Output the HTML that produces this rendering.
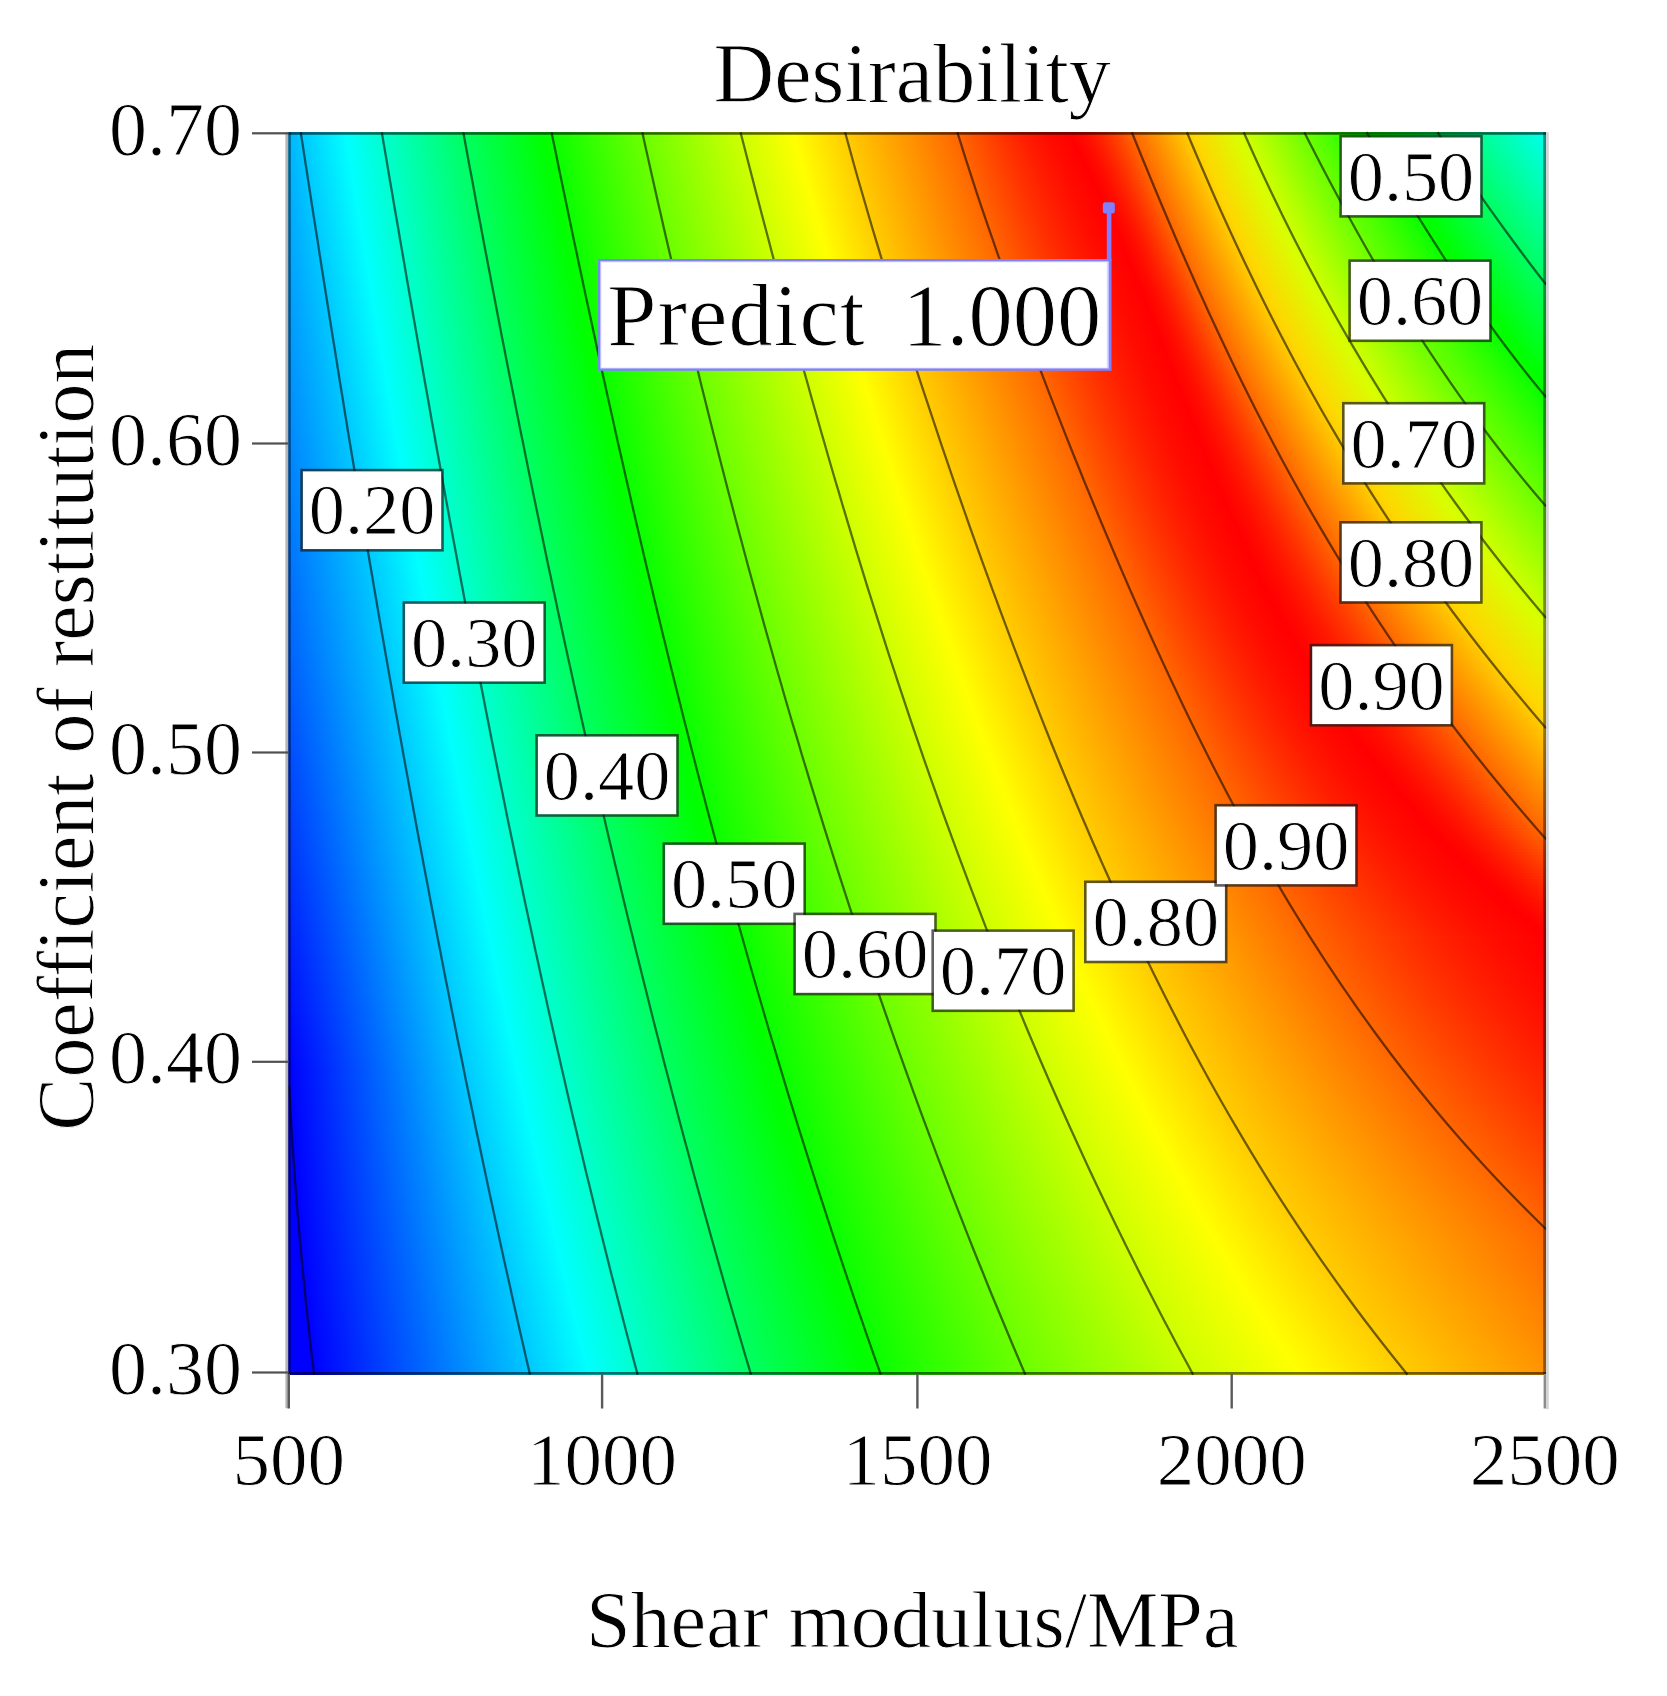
<!DOCTYPE html>
<html><head><meta charset="utf-8"><title>Desirability</title>
<style>
html,body{margin:0;padding:0;background:#fff}
body{width:1667px;height:1696px;position:relative;overflow:hidden;font-family:"Liberation Serif",serif}
#f{position:absolute;left:288px;top:132px;width:1258px;height:1243px;overflow:hidden}
#f i{display:block;height:3px;width:100%}
svg{position:absolute;left:0;top:0;filter:blur(.55px)}
text{font-family:"Liberation Serif",serif;fill:#000;stroke:#fff;stroke-width:.9px}
.cl{font-size:72.3px;text-anchor:middle}
.yt{font-size:76px;text-anchor:end}
.xt{font-size:75px;text-anchor:middle}
</style></head><body>
<div id="f">
<i style="background:linear-gradient(90deg,#00b4ff 0.3px,#00c8ff 12.9px,#0ff 57.5px,#00ffce 94px,#00ff62 175.5px,#0f0 255px,#0aff00 263.8px,#6cff00 354.6px,#ceff00 452.8px,#ff0 505.1px,#fc0 557.4px,#f60 669.7px,#ff4b00 692.2px,#ff3200 714.6px,#ff1c00 737px,#ff0b00 759.4px,#f00 781.9px,#ff0b00 794.4px,#ff1c00 806.9px,#ff3200 819.3px,#ff4b00 831.8px,#f60 844.3px,#fc0 899.5px,#ffd600 905.1px,#d8ff00 950.6px,#ceff00 956.3px,#6cff00 1016.9px,#0aff00 1079.3px,#0f0 1086.4px,#00ff62 1150.3px,#0fe 1258px)"></i>
<i style="background:linear-gradient(90deg,#00b3ff 0.3px,#00c8ff 13.4px,#0ff 58px,#00ffce 94.5px,#00ff62 176.1px,#0f0 255.6px,#0aff00 264.4px,#6cff00 355.2px,#ceff00 453.6px,#ff0 505.9px,#fc0 558.2px,#f60 670.7px,#ff4b00 693.2px,#ff3200 715.8px,#ff1c00 738.3px,#ff0b00 760.9px,#f00 783.4px,#ff0b00 795.9px,#ff1c00 808.3px,#ff3200 820.7px,#ff4b00 833.1px,#f60 845.6px,#fc0 900.7px,#ffd600 906.4px,#d8ff00 951.9px,#ceff00 957.6px,#6cff00 1018.5px,#0aff00 1081.1px,#0f0 1088.2px,#00ff62 1152.3px,#00ffeb 1258px)"></i>
<i style="background:linear-gradient(90deg,#00b3ff 0.3px,#00c8ff 13.9px,#0ff 58.5px,#00ffce 95px,#00ff62 176.6px,#0f0 256.2px,#0aff00 265px,#6cff00 355.9px,#ceff00 454.4px,#ff0 506.7px,#fc0 559.1px,#f60 671.6px,#ff4b00 694.3px,#ff3200 717px,#ff1c00 739.6px,#ff0b00 762.3px,#f00 785px,#ff0b00 797.4px,#ff1c00 809.7px,#ff3200 822.1px,#ff4b00 834.4px,#f60 846.8px,#fc0 902px,#ffd600 907.7px,#d8ff00 953.2px,#ceff00 958.9px,#6cff00 1020px,#0aff00 1082.9px,#0f0 1090.1px,#00ff62 1154.2px,#00ffe9 1258px)"></i>
<i style="background:linear-gradient(90deg,#00b3ff 0.3px,#00c8ff 14.3px,#0ff 59px,#00ffce 95.5px,#00ff62 177.2px,#0f0 256.8px,#0aff00 265.6px,#6cff00 356.6px,#ceff00 455.2px,#ff0 507.5px,#fc0 559.9px,#f60 672.5px,#ff4b00 695.3px,#ff3200 718.1px,#ff1c00 741px,#ff0b00 763.8px,#f00 786.6px,#ff0b00 798.9px,#ff1c00 811.1px,#ff3200 823.4px,#ff4b00 835.7px,#f60 848px,#fc0 903.2px,#ffd600 908.9px,#d8ff00 954.6px,#ceff00 960.3px,#6cff00 1021.5px,#0aff00 1084.8px,#0f0 1091.9px,#00ff62 1156.2px,#00ffe6 1258px)"></i>
<i style="background:linear-gradient(90deg,#00b2ff 0.3px,#00c8ff 14.8px,#0ff 59.5px,#00ffce 96px,#00ff62 177.7px,#0f0 257.4px,#0aff00 266.3px,#6cff00 357.2px,#ceff00 455.9px,#ff0 508.3px,#fc0 560.7px,#f60 673.5px,#ff4b00 696.4px,#ff3200 719.3px,#ff1c00 742.3px,#ff0b00 765.2px,#f00 788.1px,#ff0b00 800.3px,#ff1c00 812.5px,#ff3200 824.8px,#ff4b00 837px,#f60 849.2px,#fc0 904.5px,#ffd600 910.2px,#d8ff00 955.9px,#ceff00 961.6px,#6cff00 1023.1px,#0aff00 1086.6px,#0f0 1093.7px,#00ff62 1158.2px,#00ffe3 1258px)"></i>
<i style="background:linear-gradient(90deg,#00b2ff 0.3px,#00c8ff 15.2px,#0ff 60px,#00ffce 96.5px,#00ff62 178.3px,#0f0 258px,#0aff00 266.9px,#6cff00 357.9px,#ceff00 456.7px,#ff0 509.1px,#fc0 561.5px,#f60 674.4px,#ff4b00 697.5px,#ff3200 720.5px,#ff1c00 743.6px,#ff0b00 766.6px,#f00 789.7px,#ff0b00 801.8px,#ff1c00 814px,#ff3200 826.1px,#ff4b00 838.3px,#f60 850.4px,#fc0 905.8px,#ffd600 911.5px,#d8ff00 957.3px,#ceff00 963px,#6cff00 1024.6px,#0aff00 1088.4px,#0f0 1095.6px,#00ff62 1160.2px,#00ffe0 1258px)"></i>
<i style="background:linear-gradient(90deg,#00b1ff 0.3px,#00c8ff 15.7px,#0ff 60.4px,#00ffce 97.1px,#00ff62 178.8px,#0f0 258.6px,#0aff00 267.5px,#6cff00 358.6px,#ceff00 457.5px,#ff0 509.9px,#fc0 562.4px,#f60 675.3px,#ff4b00 698.5px,#ff3200 721.7px,#ff1c00 744.9px,#ff0b00 768px,#f00 791.2px,#ff0b00 803.3px,#ff1c00 815.4px,#ff3200 827.5px,#ff4b00 839.5px,#f60 851.6px,#fc0 907px,#ffd600 912.8px,#d8ff00 958.6px,#ceff00 964.4px,#6cff00 1026.2px,#0aff00 1090.2px,#0f0 1097.4px,#00ff62 1162.2px,#0fd 1258px)"></i>
<i style="background:linear-gradient(90deg,#00b1ff 0.3px,#00c8ff 16.2px,#0ff 60.9px,#00ffce 97.6px,#00ff62 179.4px,#0f0 259.2px,#0aff00 268.1px,#6cff00 359.2px,#ceff00 458.3px,#ff0 510.7px,#fc0 563.2px,#f60 676.3px,#ff4b00 699.6px,#ff3200 722.9px,#ff1c00 746.1px,#ff0b00 769.4px,#f00 792.7px,#ff0b00 804.7px,#ff1c00 816.8px,#ff3200 828.8px,#ff4b00 840.8px,#f60 852.9px,#fc0 908.3px,#ffd600 914px,#d8ff00 960px,#ceff00 965.7px,#6cff00 1027.7px,#0aff00 1092.1px,#0f0 1099.3px,#00ff62 1164.2px,#00ffdb 1258px)"></i>
<i style="background:linear-gradient(90deg,#00b0ff 0.3px,#00c8ff 16.6px,#0ff 61.4px,#00ffce 98.1px,#00ff62 180px,#0f0 259.8px,#0aff00 268.7px,#6cff00 359.9px,#ceff00 459px,#ff0 511.5px,#fc0 564px,#f60 677.3px,#ff4b00 700.6px,#ff3200 724px,#ff1c00 747.4px,#ff0b00 770.8px,#f00 794.2px,#ff0b00 806.2px,#ff1c00 818.2px,#ff3200 830.1px,#ff4b00 842.1px,#f60 854.1px,#fc0 909.6px,#ffd600 915.3px,#d8ff00 961.3px,#ceff00 967.1px,#6cff00 1029.3px,#0aff00 1093.9px,#0f0 1101.1px,#00ff62 1166.2px,#00ffd8 1258px)"></i>
<i style="background:linear-gradient(90deg,#00b0ff 0.3px,#00c8ff 17.1px,#0ff 61.9px,#00ffce 98.6px,#00ff62 180.5px,#0f0 260.5px,#0aff00 269.3px,#6cff00 360.6px,#ceff00 459.8px,#ff0 512.3px,#fc0 564.9px,#f60 678.2px,#ff4b00 701.7px,#ff3200 725.2px,#ff1c00 748.7px,#ff0b00 772.2px,#f00 795.7px,#ff0b00 807.6px,#ff1c00 819.5px,#ff3200 831.5px,#ff4b00 843.4px,#f60 855.3px,#fc0 910.9px,#ffd600 916.6px,#d8ff00 962.7px,#ceff00 968.5px,#6cff00 1030.8px,#0aff00 1095.7px,#0f0 1103px,#00ff62 1168.2px,#00ffd5 1258px)"></i>
<i style="background:linear-gradient(90deg,#00b0ff 0.3px,#00c8ff 17.5px,#0ff 62.4px,#00ffce 99.1px,#00ff62 181.1px,#0f0 261.1px,#0aff00 270px,#6cff00 361.2px,#ceff00 460.6px,#ff0 513.2px,#fc0 565.7px,#f60 679.2px,#ff4b00 702.8px,#ff3200 726.4px,#ff1c00 750px,#ff0b00 773.6px,#f00 797.2px,#ff0b00 809.1px,#ff1c00 820.9px,#ff3200 832.8px,#ff4b00 844.7px,#f60 856.5px,#fc0 912.1px,#ffd600 917.9px,#d8ff00 964.1px,#ceff00 969.8px,#6cff00 1032.4px,#0aff00 1097.5px,#0f0 1104.8px,#00ff62 1170.2px,#00ffd2 1258px)"></i>
<i style="background:linear-gradient(90deg,#00afff 0.3px,#00c8ff 18px,#0ff 62.9px,#00ffce 99.6px,#00ff62 181.6px,#0f0 261.7px,#0aff00 270.6px,#6cff00 361.9px,#ceff00 461.4px,#ff0 514px,#fc0 566.6px,#f60 680.1px,#ff4b00 703.8px,#ff3200 727.6px,#ff1c00 751.3px,#ff0b00 775px,#f00 798.7px,#ff0b00 810.5px,#ff1c00 822.3px,#ff3200 834.1px,#ff4b00 845.9px,#f60 857.8px,#fc0 913.4px,#ffd600 919.2px,#d8ff00 965.4px,#ceff00 971.2px,#6cff00 1033.9px,#0aff00 1099.4px,#0f0 1106.6px,#00ff62 1172.3px,#00ffd0 1258px)"></i>
<i style="background:linear-gradient(90deg,#00afff 0.3px,#00c8ff 18.5px,#0ff 63.4px,#00ffce 100.1px,#00ff62 182.2px,#0f0 262.3px,#0aff00 271.2px,#6cff00 362.6px,#ceff00 462.1px,#ff0 514.8px,#fc0 567.4px,#f60 681.1px,#ff4b00 704.9px,#ff3200 728.7px,#ff1c00 752.5px,#ff0b00 776.3px,#f00 800.1px,#ff0b00 811.9px,#ff1c00 823.7px,#ff3200 835.5px,#ff4b00 847.2px,#f60 859px,#fc0 914.7px,#ffd600 920.5px,#d8ff00 966.8px,#ceff00 972.6px,#6cff00 1035.5px,#0aff00 1101.2px,#0f0 1108.5px,#00ff62 1174.3px,#00ffcd 1258px)"></i>
<i style="background:linear-gradient(90deg,#00aeff 0.3px,#00c8ff 18.9px,#0ff 63.9px,#00ffce 100.6px,#00ff62 182.7px,#0f0 262.9px,#0aff00 271.8px,#6cff00 363.3px,#ceff00 462.9px,#ff0 515.6px,#fc0 568.3px,#f60 682.1px,#ff4b00 706px,#ff3200 729.9px,#ff1c00 753.8px,#ff0b00 777.7px,#f00 801.6px,#ff0b00 813.3px,#ff1c00 825.1px,#ff3200 836.8px,#ff4b00 848.5px,#f60 860.2px,#fc0 916px,#ffd600 921.8px,#d8ff00 968.2px,#ceff00 974px,#6cff00 1037.1px,#0aff00 1103px,#0f0 1110.3px,#00ff62 1176.3px,#00ffca 1258px)"></i>
<i style="background:linear-gradient(90deg,#00aeff 0.3px,#00c8ff 19.4px,#0ff 64.4px,#00ffce 101.1px,#00ff62 183.3px,#0f0 263.5px,#0aff00 272.4px,#6cff00 363.9px,#ceff00 463.7px,#ff0 516.4px,#fc0 569.1px,#f60 683.1px,#ff4b00 707.1px,#ff3200 731.1px,#ff1c00 755.1px,#ff0b00 779.1px,#f00 803.1px,#ff0b00 814.7px,#ff1c00 826.4px,#ff3200 838.1px,#ff4b00 849.8px,#f60 861.5px,#fc0 917.3px,#ffd600 923.1px,#d8ff00 969.6px,#ceff00 975.4px,#6cff00 1038.7px,#0aff00 1104.8px,#0f0 1112.2px,#00ff62 1178.4px,#00ffc7 1258px)"></i>
<i style="background:linear-gradient(90deg,#00adff 0.3px,#00c8ff 19.9px,#0ff 64.8px,#00ffce 101.6px,#00ff62 183.8px,#0f0 264.1px,#0aff00 273.1px,#6cff00 364.6px,#ceff00 464.5px,#ff0 517.2px,#fc0 570px,#f60 684px,#ff4b00 708.1px,#ff3200 732.2px,#ff1c00 756.3px,#ff0b00 780.4px,#f00 804.5px,#ff0b00 816.1px,#ff1c00 827.8px,#ff3200 839.4px,#ff4b00 851.1px,#f60 862.7px,#fc0 918.6px,#ffd600 924.4px,#d8ff00 971px,#ceff00 976.8px,#6cff00 1040.2px,#0aff00 1106.7px,#0f0 1114px,#00ff62 1180.5px,#00ffc4 1258px)"></i>
<i style="background:linear-gradient(90deg,#00adff 0.3px,#00c8ff 20.3px,#0ff 65.3px,#00ffce 102.2px,#00ff62 184.4px,#0f0 264.8px,#0aff00 273.7px,#6cff00 365.3px,#ceff00 465.3px,#ff0 518px,#fc0 570.8px,#f60 685px,#ff4b00 709.2px,#ff3200 733.4px,#ff1c00 757.6px,#ff0b00 781.7px,#f00 805.9px,#ff0b00 817.5px,#ff1c00 829.1px,#ff3200 840.7px,#ff4b00 852.3px,#f60 863.9px,#fc0 919.9px,#ffd600 925.8px,#d8ff00 972.4px,#ceff00 978.2px,#6cff00 1041.8px,#0aff00 1108.5px,#0f0 1115.9px,#00ff62 1182.5px,#00ffc2 1258px)"></i>
<i style="background:linear-gradient(90deg,#00acff 0.3px,#00c8ff 20.8px,#0ff 65.8px,#00ffce 102.7px,#00ff62 185px,#0f0 265.4px,#0aff00 274.3px,#6cff00 366px,#ceff00 466px,#ff0 518.9px,#fc0 571.7px,#f60 686px,#ff4b00 710.3px,#ff3200 734.5px,#ff1c00 758.8px,#ff0b00 783.1px,#f00 807.4px,#ff0b00 818.9px,#ff1c00 830.5px,#ff3200 842.1px,#ff4b00 853.6px,#f60 865.2px,#fc0 921.2px,#ffd600 927.1px,#d8ff00 973.8px,#ceff00 979.6px,#6cff00 1043.4px,#0aff00 1110.3px,#0f0 1117.8px,#00ff62 1184.6px,#00ffbf 1258px)"></i>
<i style="background:linear-gradient(90deg,#00acff 0.3px,#00c8ff 21.3px,#0ff 66.3px,#00ffce 103.2px,#00ff62 185.5px,#0f0 266px,#0aff00 274.9px,#6cff00 366.7px,#ceff00 466.8px,#ff0 519.7px,#fc0 572.5px,#f60 687px,#ff4b00 711.3px,#ff3200 735.7px,#ff1c00 760.1px,#ff0b00 784.4px,#f00 808.8px,#ff0b00 820.3px,#ff1c00 831.8px,#ff3200 843.4px,#ff4b00 854.9px,#f60 866.4px,#fc0 922.6px,#ffd600 928.4px,#d8ff00 975.2px,#ceff00 981.1px,#6cff00 1045px,#0aff00 1112.2px,#0f0 1119.6px,#00ff62 1186.7px,#00ffbc 1258px)"></i>
<i style="background:linear-gradient(90deg,#00acff 0.3px,#00c8ff 21.7px,#0ff 66.8px,#00ffce 103.7px,#00ff62 186.1px,#0f0 266.6px,#0aff00 275.6px,#6cff00 367.3px,#ceff00 467.6px,#ff0 520.5px,#fc0 573.4px,#f60 688px,#ff4b00 712.4px,#ff3200 736.9px,#ff1c00 761.3px,#ff0b00 785.7px,#f00 810.2px,#ff0b00 821.7px,#ff1c00 833.2px,#ff3200 844.7px,#ff4b00 856.2px,#f60 867.7px,#fc0 923.9px,#ffd600 929.7px,#d8ff00 976.6px,#ceff00 982.5px,#6cff00 1046.6px,#0aff00 1114px,#0f0 1121.5px,#00ff62 1188.8px,#00ffb9 1258px)"></i>
<i style="background:linear-gradient(90deg,#00abff 0.3px,#00c8ff 22.2px,#0ff 67.3px,#00ffce 104.2px,#00ff62 186.6px,#0f0 267.2px,#0aff00 276.2px,#6cff00 368px,#ceff00 468.4px,#ff0 521.3px,#fc0 574.3px,#f60 689px,#ff4b00 713.5px,#ff3200 738px,#ff1c00 762.5px,#ff0b00 787.1px,#f00 811.6px,#ff0b00 823px,#ff1c00 834.5px,#ff3200 846px,#ff4b00 857.5px,#f60 868.9px,#fc0 925.2px,#ffd600 931.1px,#d8ff00 978px,#ceff00 983.9px,#6cff00 1048.2px,#0aff00 1115.8px,#0f0 1123.3px,#00ff62 1190.9px,#00ffb6 1258px)"></i>
<i style="background:linear-gradient(90deg,#00abff 0.3px,#00c8ff 22.7px,#0ff 67.8px,#00ffce 104.7px,#00ff62 187.2px,#0f0 267.8px,#0aff00 276.8px,#6cff00 368.7px,#ceff00 469.2px,#ff0 522.2px,#fc0 575.1px,#f60 690px,#ff4b00 714.6px,#ff3200 739.2px,#ff1c00 763.8px,#ff0b00 788.4px,#f00 813px,#ff0b00 824.4px,#ff1c00 835.9px,#ff3200 847.3px,#ff4b00 858.7px,#f60 870.2px,#fc0 926.5px,#ffd600 932.4px,#d8ff00 979.5px,#ceff00 985.4px,#6cff00 1049.8px,#0aff00 1117.7px,#0f0 1125.2px,#00ff62 1193px,#00ffb4 1258px)"></i>
<i style="background:linear-gradient(90deg,#0af 0.3px,#00c8ff 23.1px,#0ff 68.3px,#00ffce 105.2px,#00ff62 187.8px,#0f0 268.5px,#0aff00 277.4px,#6cff00 369.4px,#ceff00 470px,#ff0 523px,#fc0 576px,#f60 691px,#ff4b00 715.6px,#ff3200 740.3px,#ff1c00 765px,#ff0b00 789.7px,#f00 814.3px,#ff0b00 825.8px,#ff1c00 837.2px,#ff3200 848.6px,#ff4b00 860px,#f60 871.4px,#fc0 927.9px,#ffd600 933.7px,#d8ff00 980.9px,#ceff00 986.8px,#6cff00 1051.4px,#0aff00 1119.5px,#0f0 1127.1px,#00ff62 1195.1px,#00ffb1 1258px)"></i>
<i style="background:linear-gradient(90deg,#0af 0.3px,#00c8ff 23.6px,#0ff 68.8px,#00ffce 105.7px,#00ff62 188.3px,#0f0 269.1px,#0aff00 278px,#6cff00 370.1px,#ceff00 470.7px,#ff0 523.8px,#fc0 576.9px,#f60 692px,#ff4b00 716.7px,#ff3200 741.5px,#ff1c00 766.2px,#ff0b00 791px,#f00 815.7px,#ff0b00 827.1px,#ff1c00 838.5px,#ff3200 849.9px,#ff4b00 861.3px,#f60 872.7px,#fc0 929.2px,#ffd600 935.1px,#d8ff00 982.3px,#ceff00 988.2px,#6cff00 1053px,#0aff00 1121.4px,#0f0 1128.9px,#00ff62 1197.2px,#00ffae 1258px)"></i>
<i style="background:linear-gradient(90deg,#00a9ff 0.3px,#00c8ff 24.1px,#0ff 69.3px,#00ffce 106.3px,#00ff62 188.9px,#0f0 269.7px,#0aff00 278.7px,#6cff00 370.7px,#ceff00 471.5px,#ff0 524.6px,#fc0 577.7px,#f60 693px,#ff4b00 717.8px,#ff3200 742.6px,#ff1c00 767.4px,#ff0b00 792.3px,#f00 817.1px,#ff0b00 828.5px,#ff1c00 839.8px,#ff3200 851.2px,#ff4b00 862.6px,#f60 874px,#fc0 930.5px,#ffd600 936.4px,#d8ff00 983.8px,#ceff00 989.7px,#6cff00 1054.7px,#0aff00 1123.2px,#0f0 1130.8px,#00ff62 1199.3px,#00ffab 1258px)"></i>
<i style="background:linear-gradient(90deg,#00a9ff 0.3px,#00c8ff 24.5px,#0ff 69.8px,#00ffce 106.8px,#00ff62 189.4px,#0f0 270.3px,#0aff00 279.3px,#6cff00 371.4px,#ceff00 472.3px,#ff0 525.5px,#fc0 578.6px,#f60 694px,#ff4b00 718.9px,#ff3200 743.8px,#ff1c00 768.7px,#ff0b00 793.6px,#f00 818.4px,#ff0b00 829.8px,#ff1c00 841.2px,#ff3200 852.5px,#ff4b00 863.9px,#f60 875.2px,#fc0 931.9px,#ffd600 937.8px,#d8ff00 985.2px,#ceff00 991.2px,#6cff00 1056.3px,#0aff00 1125.1px,#0f0 1132.7px,#00ff62 1201.5px,#00ffa8 1258px)"></i>
<i style="background:linear-gradient(90deg,#00a8ff 0.3px,#00c8ff 25px,#0ff 70.3px,#00ffce 107.3px,#00ff62 190px,#0f0 270.9px,#0aff00 279.9px,#6cff00 372.1px,#ceff00 473.1px,#ff0 526.3px,#fc0 579.5px,#f60 695px,#ff4b00 720px,#ff3200 744.9px,#ff1c00 769.9px,#ff0b00 794.8px,#f00 819.8px,#ff0b00 831.1px,#ff1c00 842.5px,#ff3200 853.8px,#ff4b00 865.1px,#f60 876.5px,#fc0 933.2px,#ffd600 939.2px,#d8ff00 986.7px,#ceff00 992.6px,#6cff00 1057.9px,#0aff00 1126.9px,#0f0 1134.6px,#00ff62 1203.6px,#00ffa6 1258px)"></i>
<i style="background:linear-gradient(90deg,#00a8ff 0.3px,#00c8ff 25.5px,#0ff 70.7px,#00ffce 107.8px,#00ff62 190.6px,#0f0 271.6px,#0aff00 280.6px,#6cff00 372.8px,#ceff00 473.9px,#ff0 527.1px,#fc0 580.4px,#f60 696px,#ff4b00 721.1px,#ff3200 746.1px,#ff1c00 771.1px,#ff0b00 796.1px,#f00 821.1px,#ff0b00 832.5px,#ff1c00 843.8px,#ff3200 855.1px,#ff4b00 866.4px,#f60 877.7px,#fc0 934.6px,#ffd600 940.5px,#d8ff00 988.1px,#ceff00 994.1px,#6cff00 1059.6px,#0aff00 1128.8px,#0f0 1136.5px,#00ff62 1205.8px,#00ffa3 1258px)"></i>
<i style="background:linear-gradient(90deg,#00a8ff 0.3px,#00c8ff 25.9px,#0ff 71.2px,#00ffce 108.3px,#00ff62 191.1px,#0f0 272.2px,#0aff00 281.2px,#6cff00 373.5px,#ceff00 474.7px,#ff0 528px,#fc0 581.3px,#f60 697px,#ff4b00 722.1px,#ff3200 747.2px,#ff1c00 772.3px,#ff0b00 797.4px,#f00 822.5px,#ff0b00 833.8px,#ff1c00 845.1px,#ff3200 856.4px,#ff4b00 867.7px,#f60 879px,#fc0 935.9px,#ffd600 941.9px,#d8ff00 989.6px,#ceff00 995.6px,#6cff00 1061.2px,#0aff00 1130.6px,#0f0 1138.4px,#00ff62 1207.9px,#00ffa0 1258px)"></i>
<i style="background:linear-gradient(90deg,#00a7ff 0.3px,#00c8ff 26.4px,#0ff 71.7px,#00ffce 108.8px,#00ff62 191.7px,#0f0 272.8px,#0aff00 281.8px,#6cff00 374.2px,#ceff00 475.5px,#ff0 528.8px,#fc0 582.1px,#f60 698.1px,#ff4b00 723.2px,#ff3200 748.4px,#ff1c00 773.5px,#ff0b00 798.7px,#f00 823.8px,#ff0b00 835.1px,#ff1c00 846.4px,#ff3200 857.7px,#ff4b00 869px,#f60 880.3px,#fc0 937.3px,#ffd600 943.3px,#d8ff00 991.1px,#ceff00 997.1px,#6cff00 1062.8px,#0aff00 1132.5px,#0f0 1140.3px,#00ff62 1210.1px,#00ff9d 1258px)"></i>
<i style="background:linear-gradient(90deg,#00a7ff 0.3px,#00c8ff 26.9px,#0ff 72.2px,#00ffce 109.3px,#00ff62 192.3px,#0f0 273.4px,#0aff00 282.4px,#6cff00 374.9px,#ceff00 476.3px,#ff0 529.6px,#fc0 583px,#f60 699.1px,#ff4b00 724.3px,#ff3200 749.5px,#ff1c00 774.7px,#ff0b00 799.9px,#f00 825.1px,#ff0b00 836.4px,#ff1c00 847.7px,#ff3200 859px,#ff4b00 870.3px,#f60 881.6px,#fc0 938.6px,#ffd600 944.6px,#d8ff00 992.6px,#ceff00 998.5px,#6cff00 1064.5px,#0aff00 1134.4px,#0f0 1142.2px,#00ff62 1212.3px,#00ff9a 1258px)"></i>
<i style="background:linear-gradient(90deg,#00a6ff 0.3px,#00c8ff 27.3px,#0ff 72.7px,#00ffce 109.9px,#00ff62 192.8px,#0f0 274px,#0aff00 283.1px,#6cff00 375.5px,#ceff00 477px,#ff0 530.5px,#fc0 583.9px,#f60 700.1px,#ff4b00 725.4px,#ff3200 750.7px,#ff1c00 775.9px,#ff0b00 801.2px,#f00 826.4px,#ff0b00 837.7px,#ff1c00 849px,#ff3200 860.3px,#ff4b00 871.6px,#f60 882.8px,#fc0 940px,#ffd600 946px,#d8ff00 994px,#ceff00 1000px,#6cff00 1066.2px,#0aff00 1136.3px,#0f0 1144.1px,#00ff62 1214.4px,#00ff98 1258px)"></i>
<i style="background:linear-gradient(90deg,#00a6ff 0.3px,#00c8ff 27.8px,#0ff 73.2px,#00ffce 110.4px,#00ff62 193.4px,#0f0 274.7px,#0aff00 283.7px,#6cff00 376.2px,#ceff00 477.8px,#ff0 531.3px,#fc0 584.8px,#f60 701.2px,#ff4b00 726.5px,#ff3200 751.8px,#ff1c00 777.1px,#ff0b00 802.4px,#f00 827.8px,#ff0b00 839px,#ff1c00 850.3px,#ff3200 861.6px,#ff4b00 872.9px,#f60 884.1px,#fc0 941.4px,#ffd600 947.4px,#d8ff00 995.5px,#ceff00 1001.5px,#6cff00 1067.8px,#0aff00 1138.1px,#0f0 1146px,#00ff62 1216.6px,#00ff95 1258px)"></i>
<i style="background:linear-gradient(90deg,#00a5ff 0.3px,#00c8ff 28.3px,#0ff 73.7px,#00ffce 110.9px,#00ff62 194px,#0f0 275.3px,#0aff00 284.3px,#6cff00 376.9px,#ceff00 478.6px,#ff0 532.2px,#fc0 585.7px,#f60 702.2px,#ff4b00 727.6px,#ff3200 752.9px,#ff1c00 778.3px,#ff0b00 803.7px,#f00 829.1px,#ff0b00 840.3px,#ff1c00 851.6px,#ff3200 862.9px,#ff4b00 874.1px,#f60 885.4px,#fc0 942.8px,#ffd600 948.8px,#d8ff00 997px,#ceff00 1003px,#6cff00 1069.5px,#0aff00 1140px,#0f0 1147.9px,#00ff62 1218.8px,#00ff92 1258px)"></i>
<i style="background:linear-gradient(90deg,#00a5ff 0.3px,#00c8ff 28.7px,#0ff 74.2px,#00ffce 111.4px,#00ff62 194.5px,#0f0 275.9px,#0aff00 285px,#6cff00 377.6px,#ceff00 479.4px,#ff0 533px,#fc0 586.6px,#f60 703.2px,#ff4b00 728.7px,#ff3200 754.1px,#ff1c00 779.5px,#ff0b00 804.9px,#f00 830.4px,#ff0b00 841.6px,#ff1c00 852.9px,#ff3200 864.2px,#ff4b00 875.4px,#f60 886.7px,#fc0 944.2px,#ffd600 950.2px,#d8ff00 998.5px,#ceff00 1004.6px,#6cff00 1071.2px,#0aff00 1141.9px,#0f0 1149.8px,#00ff62 1221px,#00ff8f 1258px)"></i>
<i style="background:linear-gradient(90deg,#00a5ff 0.3px,#00c8ff 29.2px,#0ff 74.7px,#00ffce 111.9px,#00ff62 195.1px,#0f0 276.5px,#0aff00 285.6px,#6cff00 378.3px,#ceff00 480.2px,#ff0 533.8px,#fc0 587.5px,#f60 704.3px,#ff4b00 729.7px,#ff3200 755.2px,#ff1c00 780.7px,#ff0b00 806.2px,#f00 831.6px,#ff0b00 842.9px,#ff1c00 854.2px,#ff3200 865.5px,#ff4b00 876.7px,#f60 888px,#fc0 945.5px,#ffd600 951.6px,#d8ff00 1000px,#ceff00 1006.1px,#6cff00 1072.9px,#0aff00 1143.8px,#0f0 1151.8px,#00ff62 1223.2px,#00ff8c 1258px)"></i>
<i style="background:linear-gradient(90deg,#00a4ff 0.3px,#00c8ff 29.7px,#0ff 75.2px,#00ffce 112.4px,#00ff62 195.7px,#0f0 277.2px,#0aff00 286.2px,#6cff00 379px,#ceff00 481px,#ff0 534.7px,#fc0 588.4px,#f60 705.3px,#ff4b00 730.8px,#ff3200 756.4px,#ff1c00 781.9px,#ff0b00 807.4px,#f00 832.9px,#ff0b00 844.2px,#ff1c00 855.5px,#ff3200 866.7px,#ff4b00 878px,#f60 889.3px,#fc0 946.9px,#ffd600 953px,#d8ff00 1001.5px,#ceff00 1007.6px,#6cff00 1074.5px,#0aff00 1145.7px,#0f0 1153.7px,#00ff62 1225.4px,#00ff8a 1258px)"></i>
<i style="background:linear-gradient(90deg,#00a4ff 0.3px,#00c8ff 30.1px,#0ff 75.7px,#00ffce 113px,#00ff62 196.2px,#0f0 277.8px,#0aff00 286.8px,#6cff00 379.7px,#ceff00 481.8px,#ff0 535.5px,#fc0 589.3px,#f60 706.4px,#ff4b00 731.9px,#ff3200 757.5px,#ff1c00 783.1px,#ff0b00 808.6px,#f00 834.2px,#ff0b00 845.5px,#ff1c00 856.8px,#ff3200 868px,#ff4b00 879.3px,#f60 890.6px,#fc0 948.3px,#ffd600 954.4px,#d8ff00 1003px,#ceff00 1009.1px,#6cff00 1076.2px,#0aff00 1147.6px,#0f0 1155.6px,#00ff62 1227.7px,#00ff87 1258px)"></i>
<i style="background:linear-gradient(90deg,#00a3ff 0.3px,#00c8ff 30.6px,#0ff 76.2px,#00ffce 113.5px,#00ff62 196.8px,#0f0 278.4px,#0aff00 287.5px,#6cff00 380.4px,#ceff00 482.6px,#ff0 536.4px,#fc0 590.2px,#f60 707.4px,#ff4b00 733px,#ff3200 758.6px,#ff1c00 784.3px,#ff0b00 809.9px,#f00 835.5px,#ff0b00 846.8px,#ff1c00 858px,#ff3200 869.3px,#ff4b00 880.6px,#f60 891.9px,#fc0 949.7px,#ffd600 955.8px,#d8ff00 1004.6px,#ceff00 1010.7px,#6cff00 1077.9px,#0aff00 1149.6px,#0f0 1157.6px,#00ff62 1229.9px,#00ff84 1258px)"></i>
<i style="background:linear-gradient(90deg,#00a3ff 0.3px,#00c8ff 31.1px,#0ff 76.7px,#00ffce 114px,#00ff62 197.4px,#0f0 279px,#0aff00 288.1px,#6cff00 381.1px,#ceff00 483.4px,#ff0 537.2px,#fc0 591.1px,#f60 708.5px,#ff4b00 734.1px,#ff3200 759.8px,#ff1c00 785.4px,#ff0b00 811.1px,#f00 836.7px,#ff0b00 848px,#ff1c00 859.3px,#ff3200 870.6px,#ff4b00 881.9px,#f60 893.2px,#fc0 951.1px,#ffd600 957.2px,#d8ff00 1006.1px,#ceff00 1012.2px,#6cff00 1079.6px,#0aff00 1151.5px,#0f0 1159.5px,#00ff62 1232.1px,#00ff81 1258px)"></i>
<i style="background:linear-gradient(90deg,#00a2ff 0.3px,#00c8ff 31.5px,#0ff 77.2px,#00ffce 114.5px,#00ff62 197.9px,#0f0 279.7px,#0aff00 288.7px,#6cff00 381.8px,#ceff00 484.2px,#ff0 538.1px,#fc0 592px,#f60 709.5px,#ff4b00 735.2px,#ff3200 760.9px,#ff1c00 786.6px,#ff0b00 812.3px,#f00 838px,#ff0b00 849.3px,#ff1c00 860.6px,#ff3200 871.9px,#ff4b00 883.2px,#f60 894.5px,#fc0 952.5px,#ffd600 958.7px,#d8ff00 1007.6px,#ceff00 1013.7px,#6cff00 1081.4px,#0aff00 1153.4px,#0f0 1161.5px,#00ff62 1234.4px,#00ff7f 1258px)"></i>
<i style="background:linear-gradient(90deg,#00a2ff 0.3px,#00c8ff 32px,#0ff 77.7px,#00ffce 115px,#00ff62 198.5px,#0f0 280.3px,#0aff00 289.4px,#6cff00 382.5px,#ceff00 485px,#ff0 538.9px,#fc0 592.9px,#f60 710.6px,#ff4b00 736.3px,#ff3200 762px,#ff1c00 787.8px,#ff0b00 813.5px,#f00 839.3px,#ff0b00 850.6px,#ff1c00 861.9px,#ff3200 873.2px,#ff4b00 884.5px,#f60 895.8px,#fc0 954px,#ffd600 960.1px,#d8ff00 1009.2px,#ceff00 1015.3px,#6cff00 1083.1px,#0aff00 1155.3px,#0f0 1163.5px,#00ff62 1236.6px,#00ff7c 1258px)"></i>
<i style="background:linear-gradient(90deg,#00a1ff 0.3px,#00c8ff 32.5px,#0ff 78.2px,#00ffce 115.5px,#00ff62 199.1px,#0f0 280.9px,#0aff00 290px,#6cff00 383.2px,#ceff00 485.8px,#ff0 539.8px,#fc0 593.8px,#f60 711.6px,#ff4b00 737.4px,#ff3200 763.2px,#ff1c00 789px,#ff0b00 814.7px,#f00 840.5px,#ff0b00 851.8px,#ff1c00 863.2px,#ff3200 874.5px,#ff4b00 885.8px,#f60 897.1px,#fc0 955.4px,#ffd600 961.5px,#d8ff00 1010.7px,#ceff00 1016.9px,#6cff00 1084.8px,#0aff00 1157.3px,#0f0 1165.4px,#00ff62 1238.9px,#00ff79 1258px)"></i>
<i style="background:linear-gradient(90deg,#00a1ff 0.3px,#00c8ff 33px,#0ff 78.7px,#00ffce 116.1px,#00ff62 199.7px,#0f0 281.6px,#0aff00 290.7px,#6cff00 383.9px,#ceff00 486.6px,#ff0 540.7px,#fc0 594.7px,#f60 712.7px,#ff4b00 738.5px,#ff3200 764.3px,#ff1c00 790.1px,#ff0b00 815.9px,#f00 841.8px,#ff0b00 853.1px,#ff1c00 864.4px,#ff3200 875.8px,#ff4b00 887.1px,#f60 898.4px,#fc0 956.8px,#ffd600 963px,#d8ff00 1012.3px,#ceff00 1018.4px,#6cff00 1086.5px,#0aff00 1159.2px,#0f0 1167.4px,#00ff62 1241.1px,#00ff76 1258px)"></i>
<i style="background:linear-gradient(90deg,#00a1ff 0.3px,#00c8ff 33.4px,#0ff 79.2px,#00ffce 116.6px,#00ff62 200.2px,#0f0 282.2px,#0aff00 291.3px,#6cff00 384.6px,#ceff00 487.4px,#ff0 541.5px,#fc0 595.6px,#f60 713.7px,#ff4b00 739.6px,#ff3200 765.4px,#ff1c00 791.3px,#ff0b00 817.2px,#f00 843px,#ff0b00 854.4px,#ff1c00 865.7px,#ff3200 877px,#ff4b00 888.4px,#f60 899.7px,#fc0 958.2px,#ffd600 964.4px,#d8ff00 1013.8px,#ceff00 1020px,#6cff00 1088.3px,#0aff00 1161.2px,#0f0 1169.4px,#00ff62 1243.4px,#00ff73 1258px)"></i>
<i style="background:linear-gradient(90deg,#00a0ff 0.3px,#00c8ff 33.9px,#0ff 79.7px,#00ffce 117.1px,#00ff62 200.8px,#0f0 282.8px,#0aff00 291.9px,#6cff00 385.3px,#ceff00 488.2px,#ff0 542.4px,#fc0 596.6px,#f60 714.8px,#ff4b00 740.7px,#ff3200 766.6px,#ff1c00 792.5px,#ff0b00 818.4px,#f00 844.2px,#ff0b00 855.6px,#ff1c00 867px,#ff3200 878.3px,#ff4b00 889.7px,#f60 901.1px,#fc0 959.7px,#ffd600 965.9px,#d8ff00 1015.4px,#ceff00 1021.6px,#6cff00 1090px,#0aff00 1163.2px,#0f0 1171.4px,#00ff62 1245.7px,#00ff71 1258px)"></i>
<i style="background:linear-gradient(90deg,#00a0ff 0.3px,#00c8ff 34.4px,#0ff 80.2px,#00ffce 117.6px,#00ff62 201.4px,#0f0 283.4px,#0aff00 292.6px,#6cff00 386px,#ceff00 489px,#ff0 543.2px,#fc0 597.5px,#f60 715.9px,#ff4b00 741.8px,#ff3200 767.7px,#ff1c00 793.6px,#ff0b00 819.6px,#f00 845.5px,#ff0b00 856.9px,#ff1c00 868.2px,#ff3200 879.6px,#ff4b00 891px,#f60 902.4px,#fc0 961.1px,#ffd600 967.3px,#d8ff00 1017px,#ceff00 1023.2px,#6cff00 1091.8px,#0aff00 1165.1px,#0f0 1173.4px,#00ff62 1248px,#00ff6e 1258px)"></i>
<i style="background:linear-gradient(90deg,#009fff 0.3px,#00c8ff 34.8px,#0ff 80.7px,#00ffce 118.1px,#00ff62 201.9px,#0f0 284.1px,#0aff00 293.2px,#6cff00 386.7px,#ceff00 489.8px,#ff0 544.1px,#fc0 598.4px,#f60 717px,#ff4b00 742.9px,#ff3200 768.8px,#ff1c00 794.8px,#ff0b00 820.7px,#f00 846.7px,#ff0b00 858.1px,#ff1c00 869.5px,#ff3200 880.9px,#ff4b00 892.3px,#f60 903.7px,#fc0 962.5px,#ffd600 968.8px,#d8ff00 1018.5px,#ceff00 1024.8px,#6cff00 1093.5px,#0aff00 1167.1px,#0f0 1175.4px,#00ff62 1250.3px,#00ff6b 1258px)"></i>
<i style="background:linear-gradient(90deg,#009fff 0.3px,#00c8ff 35.3px,#0ff 81.2px,#00ffce 118.7px,#00ff62 202.5px,#0f0 284.7px,#0aff00 293.8px,#6cff00 387.4px,#ceff00 490.6px,#ff0 545px,#fc0 599.3px,#f60 718px,#ff4b00 744px,#ff3200 770px,#ff1c00 796px,#ff0b00 821.9px,#f00 847.9px,#ff0b00 859.3px,#ff1c00 870.8px,#ff3200 882.2px,#ff4b00 893.6px,#f60 905.1px,#fc0 964px,#ffd600 970.2px,#d8ff00 1020.1px,#ceff00 1026.4px,#6cff00 1095.3px,#0aff00 1169.1px,#0f0 1177.5px,#00ff62 1252.6px,#00ff68 1258px)"></i>
<i style="background:linear-gradient(90deg,#009eff 0.3px,#00c8ff 35.8px,#0ff 81.7px,#00ffce 119.2px,#00ff62 203.1px,#0f0 285.3px,#0aff00 294.5px,#6cff00 388.1px,#ceff00 491.4px,#ff0 545.8px,#fc0 600.2px,#f60 719.1px,#ff4b00 745.1px,#ff3200 771.1px,#ff1c00 797.1px,#ff0b00 823.1px,#f00 849.1px,#ff0b00 860.6px,#ff1c00 872px,#ff3200 883.5px,#ff4b00 894.9px,#f60 906.4px,#fc0 965.4px,#ffd600 971.7px,#d8ff00 1021.7px,#ceff00 1028px,#6cff00 1097.1px,#0aff00 1171.1px,#0f0 1179.5px,#00ff62 1254.9px,#00ff65 1258px)"></i>
<i style="background:linear-gradient(90deg,#009eff 0.3px,#00c8ff 36.3px,#0ff 82.2px,#00ffce 119.7px,#00ff62 203.7px,#0f0 286px,#0aff00 295.1px,#6cff00 388.8px,#ceff00 492.2px,#ff0 546.7px,#fc0 601.2px,#f60 720.2px,#ff4b00 746.2px,#ff3200 772.2px,#ff1c00 798.3px,#ff0b00 824.3px,#f00 850.3px,#ff0b00 861.8px,#ff1c00 873.3px,#ff3200 884.8px,#ff4b00 896.3px,#f60 907.7px,#fc0 966.9px,#ffd600 973.2px,#d8ff00 1023.3px,#ceff00 1029.6px,#6cff00 1098.9px,#0aff00 1173.1px,#0f0 1181.5px,#00ff62 1257.2px,#00ff63 1258px)"></i>
<i style="background:linear-gradient(90deg,#009dff 0.3px,#00c8ff 36.7px,#0ff 82.7px,#00ffce 120.2px,#00ff62 204.2px,#0f0 286.6px,#0aff00 295.8px,#6cff00 389.5px,#ceff00 493px,#ff0 547.5px,#fc0 602.1px,#f60 721.3px,#ff4b00 747.3px,#ff3200 773.4px,#ff1c00 799.4px,#ff0b00 825.5px,#f00 851.6px,#ff0b00 863.1px,#ff1c00 874.6px,#ff3200 886.1px,#ff4b00 897.6px,#f60 909.1px,#fc0 968.4px,#ffd600 974.7px,#d8ff00 1024.9px,#ceff00 1031.2px,#6cff00 1100.6px,#0aff00 1175.1px,#0f0 1183.6px,#00ff60 1258px)"></i>
<i style="background:linear-gradient(90deg,#009dff 0.3px,#00c8ff 37.2px,#0ff 83.2px,#00ffce 120.7px,#00ff62 204.8px,#0f0 287.2px,#0aff00 296.4px,#6cff00 390.2px,#ceff00 493.8px,#ff0 548.4px,#fc0 603px,#f60 722.4px,#ff4b00 748.4px,#ff3200 774.5px,#ff1c00 800.6px,#ff0b00 826.7px,#f00 852.8px,#ff0b00 864.3px,#ff1c00 875.8px,#ff3200 887.4px,#ff4b00 898.9px,#f60 910.4px,#fc0 969.8px,#ffd600 976.1px,#d8ff00 1026.5px,#ceff00 1032.8px,#6cff00 1102.4px,#0aff00 1177.2px,#0f0 1185.6px,#00ff5d 1258px)"></i>
<i style="background:linear-gradient(90deg,#009dff 0.3px,#00c8ff 37.7px,#0ff 83.7px,#00ffce 121.3px,#00ff62 205.4px,#0f0 287.9px,#0aff00 297px,#6cff00 390.9px,#ceff00 494.6px,#ff0 549.3px,#fc0 603.9px,#f60 723.4px,#ff4b00 749.5px,#ff3200 775.6px,#ff1c00 801.8px,#ff0b00 827.9px,#f00 854px,#ff0b00 865.5px,#ff1c00 877.1px,#ff3200 888.6px,#ff4b00 900.2px,#f60 911.8px,#fc0 971.3px,#ffd600 977.6px,#d8ff00 1028.1px,#ceff00 1034.4px,#6cff00 1104.2px,#0aff00 1179.2px,#0f0 1187.7px,#00ff5a 1258px)"></i>
<i style="background:linear-gradient(90deg,#009cff 0.3px,#00c8ff 38.2px,#0ff 84.2px,#00ffce 121.8px,#00ff62 206px,#0f0 288.5px,#0aff00 297.7px,#6cff00 391.7px,#ceff00 495.4px,#ff0 550.2px,#fc0 604.9px,#f60 724.5px,#ff4b00 750.7px,#ff3200 776.8px,#ff1c00 802.9px,#ff0b00 829px,#f00 855.2px,#ff0b00 866.8px,#ff1c00 878.3px,#ff3200 889.9px,#ff4b00 901.5px,#f60 913.1px,#fc0 972.8px,#ffd600 979.1px,#d8ff00 1029.8px,#ceff00 1036.1px,#6cff00 1106.1px,#0aff00 1181.3px,#0f0 1189.8px,#00ff57 1258px)"></i>
<i style="background:linear-gradient(90deg,#009cff 0.3px,#00c8ff 38.6px,#0ff 84.7px,#00ffce 122.3px,#00ff62 206.5px,#0f0 289.1px,#0aff00 298.3px,#6cff00 392.4px,#ceff00 496.2px,#ff0 551px,#fc0 605.8px,#f60 725.6px,#ff4b00 751.8px,#ff3200 777.9px,#ff1c00 804.1px,#ff0b00 830.2px,#f00 856.4px,#ff0b00 868px,#ff1c00 879.6px,#ff3200 891.2px,#ff4b00 902.9px,#f60 914.5px,#fc0 974.3px,#ffd600 980.6px,#d8ff00 1031.4px,#ceff00 1037.7px,#6cff00 1107.9px,#0aff00 1183.3px,#0f0 1191.9px,#00ff54 1258px)"></i>
<i style="background:linear-gradient(90deg,#009bff 0.3px,#00c8ff 39.1px,#0ff 85.2px,#00ffce 122.8px,#00ff62 207.1px,#0f0 289.8px,#0aff00 299px,#6cff00 393.1px,#ceff00 497.1px,#ff0 551.9px,#fc0 606.7px,#f60 726.7px,#ff4b00 752.9px,#ff3200 779px,#ff1c00 805.2px,#ff0b00 831.4px,#f00 857.5px,#ff0b00 869.2px,#ff1c00 880.9px,#ff3200 892.5px,#ff4b00 904.2px,#f60 915.8px,#fc0 975.8px,#ffd600 982.1px,#d8ff00 1033px,#ceff00 1039.4px,#6cff00 1109.7px,#0aff00 1185.4px,#0f0 1194px,#00ff51 1258px)"></i>
<i style="background:linear-gradient(90deg,#009bff 0.3px,#00c8ff 39.6px,#0ff 85.7px,#00ffce 123.3px,#00ff62 207.7px,#0f0 290.4px,#0aff00 299.6px,#6cff00 393.8px,#ceff00 497.9px,#ff0 552.8px,#fc0 607.7px,#f60 727.8px,#ff4b00 754px,#ff3200 780.2px,#ff1c00 806.4px,#ff0b00 832.5px,#f00 858.7px,#ff0b00 870.4px,#ff1c00 882.1px,#ff3200 893.8px,#ff4b00 905.5px,#f60 917.2px,#fc0 977.3px,#ffd600 983.6px,#d8ff00 1034.7px,#ceff00 1041px,#6cff00 1111.5px,#0aff00 1187.5px,#0f0 1196.1px,#00ff4e 1258px)"></i>
<i style="background:linear-gradient(90deg,#009aff 0.3px,#00c8ff 40.1px,#0ff 86.2px,#00ffce 123.9px,#00ff62 208.3px,#0f0 291.1px,#0aff00 300.3px,#6cff00 394.5px,#ceff00 498.7px,#ff0 553.6px,#fc0 608.6px,#f60 728.9px,#ff4b00 755.1px,#ff3200 781.3px,#ff1c00 807.5px,#ff0b00 833.7px,#f00 859.9px,#ff0b00 871.6px,#ff1c00 883.4px,#ff3200 895.1px,#ff4b00 906.8px,#f60 918.6px,#fc0 978.8px,#ffd600 985.2px,#d8ff00 1036.3px,#ceff00 1042.7px,#6cff00 1113.4px,#0aff00 1189.6px,#0f0 1198.2px,#00ff4b 1258px)"></i>
<i style="background:linear-gradient(90deg,#009aff 0.3px,#00c8ff 40.5px,#0ff 86.7px,#00ffce 124.4px,#00ff62 208.9px,#0f0 291.7px,#0aff00 300.9px,#6cff00 395.2px,#ceff00 499.5px,#ff0 554.5px,#fc0 609.6px,#f60 730px,#ff4b00 756.2px,#ff3200 782.4px,#ff1c00 808.7px,#ff0b00 834.9px,#f00 861.1px,#ff0b00 872.9px,#ff1c00 884.6px,#ff3200 896.4px,#ff4b00 908.2px,#f60 920px,#fc0 980.3px,#ffd600 986.7px,#d8ff00 1038px,#ceff00 1044.4px,#6cff00 1115.2px,#0aff00 1191.7px,#0f0 1200.3px,#00ff49 1258px)"></i>
<i style="background:linear-gradient(90deg,#009aff 0.3px,#00c8ff 41px,#0ff 87.2px,#00ffce 124.9px,#00ff62 209.4px,#0f0 292.3px,#0aff00 301.6px,#6cff00 395.9px,#ceff00 500.3px,#ff0 555.4px,#fc0 610.5px,#f60 731.1px,#ff4b00 757.3px,#ff3200 783.6px,#ff1c00 809.8px,#ff0b00 836px,#f00 862.3px,#ff0b00 874.1px,#ff1c00 885.9px,#ff3200 897.7px,#ff4b00 909.5px,#f60 921.3px,#fc0 981.8px,#ffd600 988.2px,#d8ff00 1039.6px,#ceff00 1046.1px,#6cff00 1117.1px,#0aff00 1193.8px,#0f0 1202.4px,#00ff46 1258px)"></i>
<i style="background:linear-gradient(90deg,#09f 0.3px,#00c8ff 41.5px,#0ff 87.7px,#00ffce 125.4px,#00ff62 210px,#0f0 293px,#0aff00 302.2px,#6cff00 396.7px,#ceff00 501.1px,#ff0 556.3px,#fc0 611.5px,#f60 732.2px,#ff4b00 758.5px,#ff3200 784.7px,#ff1c00 811px,#ff0b00 837.2px,#f00 863.5px,#ff0b00 875.3px,#ff1c00 887.2px,#ff3200 899px,#ff4b00 910.9px,#f60 922.7px,#fc0 983.3px,#ffd600 989.7px,#d8ff00 1041.3px,#ceff00 1047.7px,#6cff00 1119px,#0aff00 1195.9px,#0f0 1204.6px,#00ff43 1258px)"></i>
<i style="background:linear-gradient(90deg,#09f 0.3px,#00c8ff 42px,#0ff 88.2px,#00ffce 126px,#00ff62 210.6px,#0f0 293.6px,#0aff00 302.8px,#6cff00 397.4px,#ceff00 501.9px,#ff0 557.2px,#fc0 612.4px,#f60 733.3px,#ff4b00 759.6px,#ff3200 785.8px,#ff1c00 812.1px,#ff0b00 838.4px,#f00 864.6px,#ff0b00 876.5px,#ff1c00 888.4px,#ff3200 900.3px,#ff4b00 912.2px,#f60 924.1px,#fc0 984.8px,#ffd600 991.3px,#d8ff00 1043px,#ceff00 1049.4px,#6cff00 1120.8px,#0aff00 1198px,#0f0 1206.7px,#00ff40 1258px)"></i>
<i style="background:linear-gradient(90deg,#0098ff 0.3px,#00c8ff 42.5px,#0ff 88.7px,#00ffce 126.5px,#00ff62 211.2px,#0f0 294.3px,#0aff00 303.5px,#6cff00 398.1px,#ceff00 502.7px,#ff0 558px,#fc0 613.3px,#f60 734.4px,#ff4b00 760.7px,#ff3200 787px,#ff1c00 813.3px,#ff0b00 839.5px,#f00 865.8px,#ff0b00 877.7px,#ff1c00 889.7px,#ff3200 901.6px,#ff4b00 913.6px,#f60 925.5px,#fc0 986.3px,#ffd600 992.8px,#d8ff00 1044.7px,#ceff00 1051.1px,#6cff00 1122.7px,#0aff00 1200.2px,#0f0 1208.9px,#00ff3d 1258px)"></i>
<i style="background:linear-gradient(90deg,#0098ff 0.3px,#00c8ff 42.9px,#0ff 89.2px,#00ffce 127px,#00ff62 211.8px,#0f0 294.9px,#0aff00 304.1px,#6cff00 398.8px,#ceff00 503.6px,#ff0 558.9px,#fc0 614.3px,#f60 735.5px,#ff4b00 761.8px,#ff3200 788.1px,#ff1c00 814.4px,#ff0b00 840.7px,#f00 867px,#ff0b00 879px,#ff1c00 890.9px,#ff3200 902.9px,#ff4b00 914.9px,#f60 926.9px,#fc0 987.9px,#ffd600 994.4px,#d8ff00 1046.3px,#ceff00 1052.8px,#6cff00 1124.6px,#0aff00 1202.3px,#0f0 1211.1px,#00ff3a 1258px)"></i>
<i style="background:linear-gradient(90deg,#0097ff 0.3px,#00c8ff 43.4px,#0ff 89.7px,#00ffce 127.5px,#00ff62 212.3px,#0f0 295.5px,#0aff00 304.8px,#6cff00 399.5px,#ceff00 504.4px,#ff0 559.8px,#fc0 615.2px,#f60 736.7px,#ff4b00 763px,#ff3200 789.3px,#ff1c00 815.5px,#ff0b00 841.8px,#f00 868.1px,#ff0b00 880.2px,#ff1c00 892.2px,#ff3200 904.2px,#ff4b00 916.2px,#f60 928.3px,#fc0 989.4px,#ffd600 995.9px,#d8ff00 1048px,#ceff00 1054.6px,#6cff00 1126.5px,#0aff00 1204.5px,#0f0 1213.3px,#00ff37 1258px)"></i>
<i style="background:linear-gradient(90deg,#0097ff 0.3px,#00c8ff 43.9px,#0ff 90.2px,#00ffce 128.1px,#00ff62 212.9px,#0f0 296.2px,#0aff00 305.4px,#6cff00 400.3px,#ceff00 505.2px,#ff0 560.7px,#fc0 616.2px,#f60 737.8px,#ff4b00 764.1px,#ff3200 790.4px,#ff1c00 816.7px,#ff0b00 843px,#f00 869.3px,#ff0b00 881.4px,#ff1c00 893.5px,#ff3200 905.5px,#ff4b00 917.6px,#f60 929.7px,#fc0 991px,#ffd600 997.5px,#d8ff00 1049.7px,#ceff00 1056.3px,#6cff00 1128.4px,#0aff00 1206.7px,#0f0 1215.5px,#00ff34 1258px)"></i>
<i style="background:linear-gradient(90deg,#0096ff 0.3px,#00c8ff 44.4px,#0ff 90.7px,#00ffce 128.6px,#00ff62 213.5px,#0f0 296.8px,#0aff00 306.1px,#6cff00 401px,#ceff00 506px,#ff0 561.6px,#fc0 617.2px,#f60 738.9px,#ff4b00 765.2px,#ff3200 791.5px,#ff1c00 817.8px,#ff0b00 844.2px,#f00 870.5px,#ff0b00 882.6px,#ff1c00 894.7px,#ff3200 906.8px,#ff4b00 919px,#f60 931.1px,#fc0 992.5px,#ffd600 999.1px,#d8ff00 1051.4px,#ceff00 1058px,#6cff00 1130.4px,#0aff00 1208.9px,#0f0 1217.7px,#00ff31 1258px)"></i>
<i style="background:linear-gradient(90deg,#0096ff 0.3px,#00c8ff 44.8px,#0ff 91.2px,#00ffce 129.1px,#00ff62 214.1px,#0f0 297.5px,#0aff00 306.7px,#6cff00 401.7px,#ceff00 506.8px,#ff0 562.5px,#fc0 618.1px,#f60 740px,#ff4b00 766.3px,#ff3200 792.7px,#ff1c00 819px,#ff0b00 845.3px,#f00 871.6px,#ff0b00 883.8px,#ff1c00 896px,#ff3200 908.1px,#ff4b00 920.3px,#f60 932.5px,#fc0 994.1px,#ffd600 1000.6px,#d8ff00 1053.2px,#ceff00 1059.7px,#6cff00 1132.3px,#0aff00 1211.1px,#0f0 1220px,#00ff2f 1258px)"></i>
<i style="background:linear-gradient(90deg,#0096ff 0.3px,#00c8ff 45.3px,#0ff 91.7px,#00ffce 129.6px,#00ff62 214.7px,#0f0 298.1px,#0aff00 307.4px,#6cff00 402.4px,#ceff00 507.7px,#ff0 563.4px,#fc0 619.1px,#f60 741.1px,#ff4b00 767.5px,#ff3200 793.8px,#ff1c00 820.1px,#ff0b00 846.5px,#f00 872.8px,#ff0b00 885px,#ff1c00 897.2px,#ff3200 909.5px,#ff4b00 921.7px,#f60 933.9px,#fc0 995.6px,#ffd600 1002.2px,#d8ff00 1054.9px,#ceff00 1061.5px,#6cff00 1134.2px,#0aff00 1213.3px,#0f0 1222.2px,#00ff2c 1258px)"></i>
<i style="background:linear-gradient(90deg,#0095ff 0.3px,#00c8ff 45.8px,#0ff 92.2px,#00ffce 130.2px,#00ff62 215.3px,#0f0 298.8px,#0aff00 308px,#6cff00 403.2px,#ceff00 508.5px,#ff0 564.3px,#fc0 620px,#f60 742.3px,#ff4b00 768.6px,#ff3200 794.9px,#ff1c00 821.3px,#ff0b00 847.6px,#f00 873.9px,#ff0b00 886.2px,#ff1c00 898.5px,#ff3200 910.8px,#ff4b00 923.1px,#f60 935.3px,#fc0 997.2px,#ffd600 1003.8px,#d8ff00 1056.6px,#ceff00 1063.2px,#6cff00 1136.2px,#0aff00 1215.6px,#0f0 1224.5px,#00ff29 1258px)"></i>
<i style="background:linear-gradient(90deg,#0095ff 0.3px,#00c8ff 46.3px,#0ff 92.7px,#00ffce 130.7px,#00ff62 215.9px,#0f0 299.4px,#0aff00 308.7px,#6cff00 403.9px,#ceff00 509.3px,#ff0 565.2px,#fc0 621px,#f60 743.4px,#ff4b00 769.7px,#ff3200 796.1px,#ff1c00 822.4px,#ff0b00 848.8px,#f00 875.1px,#ff0b00 887.4px,#ff1c00 899.8px,#ff3200 912.1px,#ff4b00 924.4px,#f60 936.8px,#fc0 998.8px,#ffd600 1005.4px,#d8ff00 1058.4px,#ceff00 1065px,#6cff00 1138.1px,#0aff00 1217.8px,#0f0 1226.8px,#00ff26 1258px)"></i>
<i style="background:linear-gradient(90deg,#0094ff 0.3px,#00c8ff 46.8px,#0ff 93.2px,#00ffce 131.2px,#00ff62 216.4px,#0f0 300.1px,#0aff00 309.4px,#6cff00 404.6px,#ceff00 510.1px,#ff0 566.1px,#fc0 622px,#f60 744.5px,#ff4b00 770.9px,#ff3200 797.2px,#ff1c00 823.6px,#ff0b00 849.9px,#f00 876.3px,#ff0b00 888.6px,#ff1c00 901px,#ff3200 913.4px,#ff4b00 925.8px,#f60 938.2px,#fc0 1000.3px,#ffd600 1007px,#d8ff00 1060.1px,#ceff00 1066.7px,#6cff00 1140.1px,#0aff00 1220.1px,#0f0 1229.1px,#00ff23 1258px)"></i>
<i style="background:linear-gradient(90deg,#0094ff 0.3px,#00c8ff 47.2px,#0ff 93.7px,#00ffce 131.7px,#00ff62 217px,#0f0 300.7px,#0aff00 310px,#6cff00 405.3px,#ceff00 511px,#ff0 566.9px,#fc0 622.9px,#f60 745.7px,#ff4b00 772px,#ff3200 798.4px,#ff1c00 824.7px,#ff0b00 851.1px,#f00 877.4px,#ff0b00 889.9px,#ff1c00 902.3px,#ff3200 914.7px,#ff4b00 927.2px,#f60 939.6px,#fc0 1001.9px,#ffd600 1008.6px,#d8ff00 1061.9px,#ceff00 1068.5px,#6cff00 1142.1px,#0aff00 1222.3px,#0f0 1231.4px,#00ff20 1258px)"></i>
<i style="background:linear-gradient(90deg,#0093ff 0.3px,#00c8ff 47.7px,#0ff 94.2px,#00ffce 132.3px,#00ff62 217.6px,#0f0 301.4px,#0aff00 310.7px,#6cff00 406.1px,#ceff00 511.8px,#ff0 567.8px,#fc0 623.9px,#f60 746.8px,#ff4b00 773.2px,#ff3200 799.5px,#ff1c00 825.9px,#ff0b00 852.2px,#f00 878.6px,#ff0b00 891.1px,#ff1c00 903.6px,#ff3200 916.1px,#ff4b00 928.6px,#f60 941px,#fc0 1003.5px,#ffd600 1010.2px,#d8ff00 1063.6px,#ceff00 1070.3px,#6cff00 1144px,#0aff00 1224.6px,#0f0 1233.7px,#00ff1d 1258px)"></i>
<i style="background:linear-gradient(90deg,#0093ff 0.3px,#00c8ff 48.2px,#0ff 94.7px,#00ffce 132.8px,#00ff62 218.2px,#0f0 302px,#0aff00 311.3px,#6cff00 406.8px,#ceff00 512.6px,#ff0 568.7px,#fc0 624.9px,#f60 747.9px,#ff4b00 774.3px,#ff3200 800.7px,#ff1c00 827px,#ff0b00 853.4px,#f00 879.7px,#ff0b00 892.3px,#ff1c00 904.8px,#ff3200 917.4px,#ff4b00 929.9px,#f60 942.5px,#fc0 1005.1px,#ffd600 1011.8px,#d8ff00 1065.4px,#ceff00 1072.1px,#6cff00 1146px,#0aff00 1226.9px,#0f0 1236px,#00ff1a 1258px)"></i>
<i style="background:linear-gradient(90deg,#0092ff 0.3px,#00c8ff 48.7px,#0ff 95.2px,#00ffce 133.3px,#00ff62 218.8px,#0f0 302.7px,#0aff00 312px,#6cff00 407.5px,#ceff00 513.5px,#ff0 569.6px,#fc0 625.8px,#f60 749.1px,#ff4b00 775.4px,#ff3200 801.8px,#ff1c00 828.2px,#ff0b00 854.5px,#f00 880.9px,#ff0b00 893.5px,#ff1c00 906.1px,#ff3200 918.7px,#ff4b00 931.3px,#f60 943.9px,#fc0 1006.7px,#ffd600 1013.4px,#d8ff00 1067.1px,#ceff00 1073.9px,#6cff00 1148px,#0aff00 1229.3px,#0f0 1238.4px,#00ff17 1258px)"></i>
<i style="background:linear-gradient(90deg,#0092ff 0.3px,#00c8ff 49.2px,#0ff 95.7px,#00ffce 133.8px,#00ff62 219.4px,#0f0 303.3px,#0aff00 312.6px,#6cff00 408.3px,#ceff00 514.3px,#ff0 570.5px,#fc0 626.8px,#f60 750.2px,#ff4b00 776.6px,#ff3200 802.9px,#ff1c00 829.3px,#ff0b00 855.7px,#f00 882px,#ff0b00 894.7px,#ff1c00 907.4px,#ff3200 920px,#ff4b00 932.7px,#f60 945.4px,#fc0 1008.3px,#ffd600 1015.1px,#d8ff00 1068.9px,#ceff00 1075.7px,#6cff00 1150.1px,#0aff00 1231.6px,#0f0 1240.8px,#00ff14 1258px)"></i>
<i style="background:linear-gradient(90deg,#0092ff 0.3px,#00c8ff 49.7px,#0ff 96.3px,#00ffce 134.4px,#00ff62 220px,#0f0 304px,#0aff00 313.3px,#6cff00 409px,#ceff00 515.1px,#ff0 571.5px,#fc0 627.8px,#f60 751.4px,#ff4b00 777.7px,#ff3200 804.1px,#ff1c00 830.5px,#ff0b00 856.8px,#f00 883.2px,#ff0b00 895.9px,#ff1c00 908.6px,#ff3200 921.4px,#ff4b00 934.1px,#f60 946.8px,#fc0 1009.9px,#ffd600 1016.7px,#d8ff00 1070.7px,#ceff00 1077.5px,#6cff00 1152.1px,#0aff00 1234px,#0f0 1243.2px,#00ff12 1258px)"></i>
<i style="background:linear-gradient(90deg,#0091ff 0.3px,#00c8ff 50.1px,#0ff 96.8px,#00ffce 134.9px,#00ff62 220.6px,#0f0 304.6px,#0aff00 313.9px,#6cff00 409.7px,#ceff00 516px,#ff0 572.4px,#fc0 628.8px,#f60 752.5px,#ff4b00 778.9px,#ff3200 805.2px,#ff1c00 831.6px,#ff0b00 858px,#f00 884.3px,#ff0b00 897.1px,#ff1c00 909.9px,#ff3200 922.7px,#ff4b00 935.5px,#f60 948.3px,#fc0 1011.6px,#ffd600 1018.3px,#d8ff00 1072.5px,#ceff00 1079.3px,#6cff00 1154.1px,#0aff00 1236.3px,#0f0 1245.6px,#00ff0f 1258px)"></i>
<i style="background:linear-gradient(90deg,#0091ff 0.3px,#00c8ff 50.6px,#0ff 97.3px,#00ffce 135.4px,#00ff62 221.2px,#0f0 305.3px,#0aff00 314.6px,#6cff00 410.5px,#ceff00 516.8px,#ff0 573.3px,#fc0 629.7px,#f60 753.7px,#ff4b00 780px,#ff3200 806.4px,#ff1c00 832.8px,#ff0b00 859.1px,#f00 885.5px,#ff0b00 898.3px,#ff1c00 911.2px,#ff3200 924.1px,#ff4b00 936.9px,#f60 949.8px,#fc0 1013.2px,#ffd600 1020px,#d8ff00 1074.3px,#ceff00 1081.1px,#6cff00 1156.1px,#0aff00 1238.7px,#0f0 1248px,#00ff0c 1258px)"></i>
<i style="background:linear-gradient(90deg,#0090ff 0.3px,#00c8ff 51.1px,#0ff 97.8px,#00ffce 136px,#00ff62 221.7px,#0f0 305.9px,#0aff00 315.3px,#6cff00 411.2px,#ceff00 517.6px,#ff0 574.2px,#fc0 630.7px,#f60 754.8px,#ff4b00 781.2px,#ff3200 807.5px,#ff1c00 833.9px,#ff0b00 860.3px,#f00 886.6px,#ff0b00 899.6px,#ff1c00 912.5px,#ff3200 925.4px,#ff4b00 938.3px,#f60 951.2px,#fc0 1014.8px,#ffd600 1021.6px,#d8ff00 1076.1px,#ceff00 1082.9px,#6cff00 1158.2px,#0aff00 1241.1px,#0f0 1250.4px,#00ff09 1258px)"></i>
<i style="background:linear-gradient(90deg,#0090ff 0.3px,#00c8ff 51.6px,#0ff 98.3px,#00ffce 136.5px,#00ff62 222.3px,#0f0 306.6px,#0aff00 315.9px,#6cff00 412px,#ceff00 518.5px,#ff0 575.1px,#fc0 631.7px,#f60 756px,#ff4b00 782.3px,#ff3200 808.7px,#ff1c00 835.1px,#ff0b00 861.4px,#f00 887.8px,#ff0b00 900.8px,#ff1c00 913.8px,#ff3200 926.7px,#ff4b00 939.7px,#f60 952.7px,#fc0 1016.4px,#ffd600 1023.3px,#d8ff00 1077.9px,#ceff00 1084.8px,#6cff00 1160.3px,#0aff00 1243.5px,#0f0 1252.9px,#00ff06 1258px)"></i>
<i style="background:linear-gradient(90deg,#008fff 0.3px,#00c8ff 52.1px,#0ff 98.8px,#00ffce 137px,#00ff62 222.9px,#0f0 307.2px,#0aff00 316.6px,#6cff00 412.7px,#ceff00 519.3px,#ff0 576px,#fc0 632.7px,#f60 757.1px,#ff4b00 783.5px,#ff3200 809.8px,#ff1c00 836.2px,#ff0b00 862.6px,#f00 889px,#ff0b00 902px,#ff1c00 915px,#ff3200 928.1px,#ff4b00 941.1px,#f60 954.2px,#fc0 1018.1px,#ffd600 1024.9px,#d8ff00 1079.8px,#ceff00 1086.6px,#6cff00 1162.3px,#0aff00 1246px,#0f0 1255.4px,#00ff03 1258px)"></i>
<i style="background:linear-gradient(90deg,#008fff 0.3px,#00c8ff 52.6px,#0ff 99.3px,#00ffce 137.6px,#00ff62 223.5px,#0f0 307.9px,#0aff00 317.2px,#6cff00 413.4px,#ceff00 520.1px,#ff0 576.9px,#fc0 633.7px,#f60 758.3px,#ff4b00 784.6px,#ff3200 811px,#ff1c00 837.4px,#ff0b00 863.7px,#f00 890.1px,#ff0b00 903.2px,#ff1c00 916.3px,#ff3200 929.4px,#ff4b00 942.6px,#f60 955.7px,#fc0 1019.7px,#ffd600 1026.6px,#d8ff00 1081.6px,#ceff00 1088.5px,#6cff00 1164.4px,#0aff00 1248.4px,#0f0 1257.9px,#0f0 1258px)"></i>
<i style="background:linear-gradient(90deg,#008fff 0.3px,#00c8ff 53px,#0ff 99.8px,#00ffce 138.1px,#00ff62 224.1px,#0f0 308.5px,#0aff00 317.9px,#6cff00 414.2px,#ceff00 521px,#ff0 577.8px,#fc0 634.6px,#f60 759.4px,#ff4b00 785.8px,#ff3200 812.2px,#ff1c00 838.5px,#ff0b00 864.9px,#f00 891.3px,#ff0b00 904.4px,#ff1c00 917.6px,#ff3200 930.8px,#ff4b00 944px,#f60 957.1px,#fc0 1021.4px,#ffd600 1028.3px,#d8ff00 1083.4px,#ceff00 1090.3px,#6cff00 1166.5px,#0aff00 1250.9px,#02ff00 1258px)"></i>
<i style="background:linear-gradient(90deg,#008eff 0.3px,#00c8ff 53.5px,#0ff 100.3px,#00ffce 138.6px,#00ff62 224.7px,#0f0 309.2px,#0aff00 318.6px,#6cff00 414.9px,#ceff00 521.8px,#ff0 578.7px,#fc0 635.6px,#f60 760.6px,#ff4b00 786.9px,#ff3200 813.3px,#ff1c00 839.7px,#ff0b00 866px,#f00 892.4px,#ff0b00 905.7px,#ff1c00 918.9px,#ff3200 932.2px,#ff4b00 945.4px,#f60 958.6px,#fc0 1023.1px,#ffd600 1030px,#d8ff00 1085.3px,#ceff00 1092.2px,#6cff00 1168.6px,#0aff00 1253.3px,#05ff00 1258px)"></i>
<i style="background:linear-gradient(90deg,#008eff 0.3px,#00c8ff 54px,#0ff 100.8px,#00ffce 139.2px,#00ff62 225.3px,#0f0 309.8px,#0aff00 319.2px,#6cff00 415.7px,#ceff00 522.7px,#ff0 579.6px,#fc0 636.6px,#f60 761.7px,#ff4b00 788.1px,#ff3200 814.5px,#ff1c00 840.8px,#ff0b00 867.2px,#f00 893.6px,#ff0b00 906.9px,#ff1c00 920.2px,#ff3200 933.5px,#ff4b00 946.8px,#f60 960.1px,#fc0 1024.7px,#ffd600 1031.7px,#d8ff00 1087.1px,#ceff00 1094.1px,#6cff00 1170.7px,#0aff00 1255.8px,#08ff00 1258px)"></i>
<i style="background:linear-gradient(90deg,#008dff 0.3px,#00c8ff 54.5px,#0ff 101.4px,#00ffce 139.7px,#00ff62 225.9px,#0f0 310.5px,#0aff00 319.9px,#6cff00 416.4px,#ceff00 523.5px,#ff0 580.6px,#fc0 637.6px,#f60 762.9px,#ff4b00 789.3px,#ff3200 815.6px,#ff1c00 842px,#ff0b00 868.4px,#f00 894.7px,#ff0b00 908.1px,#ff1c00 921.5px,#ff3200 934.9px,#ff4b00 948.3px,#f60 961.6px,#fc0 1026.4px,#ffd600 1033.4px,#d8ff00 1089px,#ceff00 1096px,#6cff00 1172.9px,#0aff00 1258px)"></i>
<i style="background:linear-gradient(90deg,#008dff 0.3px,#00c8ff 55px,#0ff 101.9px,#00ffce 140.2px,#00ff62 226.5px,#0f0 311.2px,#0aff00 320.6px,#6cff00 417.2px,#ceff00 524.3px,#ff0 581.5px,#fc0 638.6px,#f60 764.1px,#ff4b00 790.4px,#ff3200 816.8px,#ff1c00 843.2px,#ff0b00 869.5px,#f00 895.9px,#ff0b00 909.3px,#ff1c00 922.8px,#ff3200 936.2px,#ff4b00 949.7px,#f60 963.1px,#fc0 1028.1px,#ffd600 1035.1px,#d8ff00 1090.9px,#ceff00 1097.8px,#6cff00 1175px,#0dff00 1258px)"></i>
<i style="background:linear-gradient(90deg,#008cff 0.3px,#00c8ff 55.5px,#0ff 102.4px,#00ffce 140.8px,#00ff62 227.1px,#0f0 311.8px,#0aff00 321.2px,#6cff00 417.9px,#ceff00 525.2px,#ff0 582.4px,#fc0 639.6px,#f60 765.2px,#ff4b00 791.6px,#ff3200 818px,#ff1c00 844.3px,#ff0b00 870.7px,#f00 897.1px,#ff0b00 910.6px,#ff1c00 924.1px,#ff3200 937.6px,#ff4b00 951.1px,#f60 964.7px,#fc0 1029.8px,#ffd600 1036.8px,#d8ff00 1092.8px,#ceff00 1099.7px,#6cff00 1177.1px,#10ff00 1258px)"></i>
<i style="background:linear-gradient(90deg,#008cff 0.3px,#00c8ff 56px,#0ff 102.9px,#00ffce 141.3px,#00ff62 227.7px,#0f0 312.5px,#0aff00 321.9px,#6cff00 418.7px,#ceff00 526px,#ff0 583.3px,#fc0 640.6px,#f60 766.4px,#ff4b00 792.8px,#ff3200 819.1px,#ff1c00 845.5px,#ff0b00 871.9px,#f00 898.2px,#ff0b00 911.8px,#ff1c00 925.4px,#ff3200 939px,#ff4b00 952.6px,#f60 966.2px,#fc0 1031.5px,#ffd600 1038.5px,#d8ff00 1094.6px,#ceff00 1101.7px,#6cff00 1179.3px,#12ff00 1258px)"></i>
<i style="background:linear-gradient(90deg,#008bff 0.3px,#00c8ff 56.4px,#0ff 103.4px,#00ffce 141.8px,#00ff62 228.3px,#0f0 313.1px,#0aff00 322.6px,#6cff00 419.4px,#ceff00 526.9px,#ff0 584.2px,#fc0 641.6px,#f60 767.6px,#ff4b00 793.9px,#ff3200 820.3px,#ff1c00 846.7px,#ff0b00 873px,#f00 899.4px,#ff0b00 913px,#ff1c00 926.7px,#ff3200 940.4px,#ff4b00 954px,#f60 967.7px,#fc0 1033.2px,#ffd600 1040.2px,#d8ff00 1096.5px,#ceff00 1103.6px,#6cff00 1181.5px,#15ff00 1258px)"></i>
<i style="background:linear-gradient(90deg,#008bff 0.3px,#00c8ff 56.9px,#0ff 103.9px,#00ffce 142.4px,#00ff62 228.9px,#0f0 313.8px,#0aff00 323.2px,#6cff00 420.2px,#ceff00 527.7px,#ff0 585.2px,#fc0 642.6px,#f60 768.8px,#ff4b00 795.1px,#ff3200 821.5px,#ff1c00 847.8px,#ff0b00 874.2px,#f00 900.5px,#ff0b00 914.3px,#ff1c00 928px,#ff3200 941.8px,#ff4b00 955.5px,#f60 969.2px,#fc0 1034.9px,#ffd600 1041.9px,#d8ff00 1098.4px,#ceff00 1105.5px,#6cff00 1183.7px,#18ff00 1258px)"></i>
<i style="background:linear-gradient(90deg,#008bff 0.3px,#00c8ff 57.4px,#0ff 104.4px,#00ffce 142.9px,#00ff62 229.5px,#0f0 314.5px,#0aff00 323.9px,#6cff00 420.9px,#ceff00 528.6px,#ff0 586.1px,#fc0 643.6px,#f60 769.9px,#ff4b00 796.3px,#ff3200 822.6px,#ff1c00 849px,#ff0b00 875.4px,#f00 901.7px,#ff0b00 915.5px,#ff1c00 929.3px,#ff3200 943.1px,#ff4b00 957px,#f60 970.8px,#fc0 1036.6px,#ffd600 1043.7px,#d8ff00 1100.3px,#ceff00 1107.4px,#6cff00 1185.8px,#1aff00 1258px)"></i>
<i style="background:linear-gradient(90deg,#008aff 0.3px,#00c8ff 57.9px,#0ff 104.9px,#00ffce 143.4px,#00ff62 230.1px,#0f0 315.1px,#0aff00 324.6px,#6cff00 421.7px,#ceff00 529.4px,#ff0 587px,#fc0 644.6px,#f60 771.1px,#ff4b00 797.5px,#ff3200 823.8px,#ff1c00 850.2px,#ff0b00 876.5px,#f00 902.9px,#ff0b00 916.8px,#ff1c00 930.6px,#ff3200 944.5px,#ff4b00 958.4px,#f60 972.3px,#fc0 1038.3px,#ffd600 1045.4px,#d8ff00 1102.3px,#ceff00 1109.4px,#6cff00 1188px,#1dff00 1258px)"></i>
<i style="background:linear-gradient(90deg,#008aff 0.3px,#00c8ff 58.4px,#0ff 105.5px,#00ffce 144px,#00ff62 230.7px,#0f0 315.8px,#0aff00 325.2px,#6cff00 422.4px,#ceff00 530.3px,#ff0 587.9px,#fc0 645.6px,#f60 772.3px,#ff4b00 798.7px,#ff3200 825px,#ff1c00 851.4px,#ff0b00 877.7px,#f00 904.1px,#ff0b00 918px,#ff1c00 932px,#ff3200 945.9px,#ff4b00 959.9px,#f60 973.8px,#fc0 1040px,#ffd600 1047.2px,#d8ff00 1104.2px,#ceff00 1111.3px,#6cff00 1190.3px,#20ff00 1258px)"></i>
<i style="background:linear-gradient(90deg,#0089ff 0.3px,#00c8ff 58.9px,#0ff 106px,#00ffce 144.5px,#00ff62 231.3px,#0f0 316.5px,#0aff00 325.9px,#6cff00 423.2px,#ceff00 531.1px,#ff0 588.9px,#fc0 646.6px,#f60 773.5px,#ff4b00 799.8px,#ff3200 826.2px,#ff1c00 852.5px,#ff0b00 878.9px,#f00 905.2px,#ff0b00 919.3px,#ff1c00 933.3px,#ff3200 947.3px,#ff4b00 961.4px,#f60 975.4px,#fc0 1041.8px,#ffd600 1048.9px,#d8ff00 1106.1px,#ceff00 1113.3px,#6cff00 1192.5px,#23ff00 1258px)"></i>
<i style="background:linear-gradient(90deg,#0089ff 0.3px,#00c8ff 59.4px,#0ff 106.5px,#00ffce 145px,#00ff62 231.9px,#0f0 317.1px,#0aff00 326.6px,#6cff00 423.9px,#ceff00 532px,#ff0 589.8px,#fc0 647.6px,#f60 774.7px,#ff4b00 801px,#ff3200 827.4px,#ff1c00 853.7px,#ff0b00 880.1px,#f00 906.4px,#ff0b00 920.5px,#ff1c00 934.6px,#ff3200 948.7px,#ff4b00 962.8px,#f60 977px,#fc0 1043.5px,#ffd600 1050.7px,#d8ff00 1108.1px,#ceff00 1115.2px,#6cff00 1194.7px,#25ff00 1258px)"></i>
<i style="background:linear-gradient(90deg,#08f 0.3px,#00c8ff 59.9px,#0ff 107px,#00ffce 145.6px,#00ff62 232.5px,#0f0 317.8px,#0aff00 327.3px,#6cff00 424.7px,#ceff00 532.9px,#ff0 590.7px,#fc0 648.6px,#f60 775.9px,#ff4b00 802.2px,#ff3200 828.5px,#ff1c00 854.9px,#ff0b00 881.2px,#f00 907.6px,#ff0b00 921.8px,#ff1c00 936px,#ff3200 950.1px,#ff4b00 964.3px,#f60 978.5px,#fc0 1045.3px,#ffd600 1052.5px,#d8ff00 1110px,#ceff00 1117.2px,#6cff00 1197px,#28ff00 1258px)"></i>
<i style="background:linear-gradient(90deg,#08f 0.3px,#00c8ff 60.4px,#0ff 107.5px,#00ffce 146.1px,#00ff62 233.1px,#0f0 318.4px,#0aff00 327.9px,#6cff00 425.4px,#ceff00 533.7px,#ff0 591.7px,#fc0 649.6px,#f60 777px,#ff4b00 803.4px,#ff3200 829.7px,#ff1c00 856.1px,#ff0b00 882.4px,#f00 908.8px,#ff0b00 923px,#ff1c00 937.3px,#ff3200 951.6px,#ff4b00 965.8px,#f60 980.1px,#fc0 1047px,#ffd600 1054.2px,#d8ff00 1112px,#ceff00 1119.2px,#6cff00 1199.2px,#2bff00 1258px)"></i>
<i style="background:linear-gradient(90deg,#0087ff 0.3px,#00c8ff 60.9px,#0ff 108px,#00ffce 146.7px,#00ff62 233.7px,#0f0 319.1px,#0aff00 328.6px,#6cff00 426.2px,#ceff00 534.6px,#ff0 592.6px,#fc0 650.6px,#f60 778.2px,#ff4b00 804.6px,#ff3200 830.9px,#ff1c00 857.3px,#ff0b00 883.6px,#f00 909.9px,#ff0b00 924.3px,#ff1c00 938.6px,#ff3200 953px,#ff4b00 967.3px,#f60 981.6px,#fc0 1048.8px,#ffd600 1056px,#d8ff00 1113.9px,#ceff00 1121.2px,#6cff00 1201.5px,#2dff00 1258px)"></i>
<i style="background:linear-gradient(90deg,#0087ff 0.3px,#00c8ff 61.3px,#0ff 108.6px,#00ffce 147.2px,#00ff62 234.3px,#0f0 319.8px,#0aff00 329.3px,#6cff00 427px,#ceff00 535.4px,#ff0 593.5px,#fc0 651.6px,#f60 779.4px,#ff4b00 805.8px,#ff3200 832.1px,#ff1c00 858.5px,#ff0b00 884.8px,#f00 911.1px,#ff0b00 925.6px,#ff1c00 940px,#ff3200 954.4px,#ff4b00 968.8px,#f60 983.2px,#fc0 1050.6px,#ffd600 1057.8px,#d8ff00 1115.9px,#ceff00 1123.2px,#6cff00 1203.8px,#30ff00 1258px)"></i>
<i style="background:linear-gradient(90deg,#0086ff 0.3px,#00c8ff 61.8px,#0ff 109.1px,#00ffce 147.7px,#00ff62 234.9px,#0f0 320.5px,#0aff00 330px,#6cff00 427.7px,#ceff00 536.3px,#ff0 594.5px,#fc0 652.7px,#f60 780.6px,#ff4b00 807px,#ff3200 833.3px,#ff1c00 859.7px,#ff0b00 886px,#f00 912.3px,#ff0b00 926.8px,#ff1c00 941.3px,#ff3200 955.8px,#ff4b00 970.3px,#f60 984.8px,#fc0 1052.3px,#ffd600 1059.6px,#d8ff00 1117.9px,#ceff00 1125.2px,#6cff00 1206.1px,#3f0 1258px)"></i>
<i style="background:linear-gradient(90deg,#0086ff 0.3px,#00c8ff 62.3px,#0ff 109.6px,#00ffce 148.3px,#00ff62 235.5px,#0f0 321.1px,#0aff00 330.6px,#6cff00 428.5px,#ceff00 537.2px,#ff0 595.4px,#fc0 653.7px,#f60 781.8px,#ff4b00 808.2px,#ff3200 834.5px,#ff1c00 860.8px,#ff0b00 887.2px,#f00 913.5px,#ff0b00 928.1px,#ff1c00 942.7px,#ff3200 957.2px,#ff4b00 971.8px,#f60 986.4px,#fc0 1054.1px,#ffd600 1061.4px,#d8ff00 1119.9px,#ceff00 1127.2px,#6cff00 1208.4px,#35ff00 1258px)"></i>
<i style="background:linear-gradient(90deg,#0085ff 0.3px,#00c8ff 62.8px,#0ff 110.1px,#00ffce 148.8px,#00ff62 236.1px,#0f0 321.8px,#0aff00 331.3px,#6cff00 429.3px,#ceff00 538px,#ff0 596.4px,#fc0 654.7px,#f60 783px,#ff4b00 809.4px,#ff3200 835.7px,#ff1c00 862px,#ff0b00 888.4px,#f00 914.7px,#ff0b00 929.4px,#ff1c00 944px,#ff3200 958.7px,#ff4b00 973.3px,#f60 988px,#fc0 1055.9px,#ffd600 1063.2px,#d8ff00 1121.9px,#ceff00 1129.2px,#6cff00 1210.7px,#38ff00 1258px)"></i>
<i style="background:linear-gradient(90deg,#0085ff 0.3px,#00c8ff 63.3px,#0ff 110.6px,#00ffce 149.4px,#00ff62 236.7px,#0f0 322.5px,#0aff00 332px,#6cff00 430px,#ceff00 538.9px,#ff0 597.3px,#fc0 655.7px,#f60 784.2px,#ff4b00 810.6px,#ff3200 836.9px,#ff1c00 863.2px,#ff0b00 889.6px,#f00 915.9px,#ff0b00 930.7px,#ff1c00 945.4px,#ff3200 960.1px,#ff4b00 974.9px,#f60 989.6px,#fc0 1057.7px,#ffd600 1065px,#d8ff00 1123.9px,#ceff00 1131.2px,#6cff00 1213.1px,#3bff00 1258px)"></i>
<i style="background:linear-gradient(90deg,#0084ff 0.3px,#00c8ff 63.8px,#0ff 111.2px,#00ffce 149.9px,#00ff62 237.3px,#0f0 323.1px,#0aff00 332.7px,#6cff00 430.8px,#ceff00 539.8px,#ff0 598.2px,#fc0 656.7px,#f60 785.4px,#ff4b00 811.8px,#ff3200 838.1px,#ff1c00 864.5px,#ff0b00 890.8px,#f00 917.1px,#ff0b00 931.9px,#ff1c00 946.8px,#ff3200 961.6px,#ff4b00 976.4px,#f60 991.2px,#fc0 1059.5px,#ffd600 1066.9px,#d8ff00 1125.9px,#ceff00 1133.3px,#6cff00 1215.4px,#3dff00 1258px)"></i>
<i style="background:linear-gradient(90deg,#0084ff 0.3px,#00c8ff 64.3px,#0ff 111.7px,#00ffce 150.4px,#00ff62 238px,#0f0 323.8px,#0aff00 333.3px,#6cff00 431.6px,#ceff00 540.6px,#ff0 599.2px,#fc0 657.8px,#f60 786.6px,#ff4b00 813px,#ff3200 839.3px,#ff1c00 865.7px,#ff0b00 892px,#f00 918.3px,#ff0b00 933.2px,#ff1c00 948.1px,#ff3200 963px,#ff4b00 977.9px,#f60 992.8px,#fc0 1061.3px,#ffd600 1068.7px,#d8ff00 1127.9px,#ceff00 1135.3px,#6cff00 1217.8px,#40ff00 1258px)"></i>
<i style="background:linear-gradient(90deg,#0083ff 0.3px,#00c8ff 64.8px,#0ff 112.2px,#00ffce 151px,#00ff62 238.6px,#0f0 324.5px,#0aff00 334px,#6cff00 432.3px,#ceff00 541.5px,#ff0 600.1px,#fc0 658.8px,#f60 787.9px,#ff4b00 814.2px,#ff3200 840.5px,#ff1c00 866.9px,#ff0b00 893.2px,#f00 919.6px,#ff0b00 934.5px,#ff1c00 949.5px,#ff3200 964.5px,#ff4b00 979.4px,#f60 994.4px,#fc0 1063.1px,#ffd600 1070.5px,#d8ff00 1129.9px,#ceff00 1137.4px,#6cff00 1220.1px,#43ff00 1258px)"></i>
<i style="background:linear-gradient(90deg,#0083ff 0.3px,#00c8ff 65.3px,#0ff 112.7px,#00ffce 151.5px,#00ff62 239.2px,#0f0 325.2px,#0aff00 334.7px,#6cff00 433.1px,#ceff00 542.4px,#ff0 601.1px,#fc0 659.8px,#f60 789.1px,#ff4b00 815.4px,#ff3200 841.7px,#ff1c00 868.1px,#ff0b00 894.4px,#f00 920.8px,#ff0b00 935.8px,#ff1c00 950.9px,#ff3200 965.9px,#ff4b00 981px,#f60 996px,#fc0 1064.9px,#ffd600 1072.4px,#d8ff00 1132px,#ceff00 1139.4px,#6cff00 1222.5px,#46ff00 1258px)"></i>
<i style="background:linear-gradient(90deg,#0082ff 0.3px,#00c8ff 65.8px,#0ff 113.2px,#00ffce 152.1px,#00ff62 239.8px,#0f0 325.8px,#0aff00 335.4px,#6cff00 433.9px,#ceff00 543.2px,#ff0 602px,#fc0 660.8px,#f60 790.3px,#ff4b00 816.6px,#ff3200 843px,#ff1c00 869.3px,#ff0b00 895.6px,#f00 922px,#ff0b00 937.1px,#ff1c00 952.3px,#ff3200 967.4px,#ff4b00 982.5px,#f60 997.7px,#fc0 1066.8px,#ffd600 1074.3px,#d8ff00 1134px,#ceff00 1141.5px,#6cff00 1224.9px,#48ff00 1258px)"></i>
<i style="background:linear-gradient(90deg,#0082ff 0.3px,#00c8ff 66.3px,#0ff 113.8px,#00ffce 152.6px,#00ff62 240.4px,#0f0 326.5px,#0aff00 336.1px,#6cff00 434.6px,#ceff00 544.1px,#ff0 603px,#fc0 661.9px,#f60 791.5px,#ff4b00 817.8px,#ff3200 844.2px,#ff1c00 870.5px,#ff0b00 896.9px,#f00 923.2px,#ff0b00 938.4px,#ff1c00 953.7px,#ff3200 968.9px,#ff4b00 984.1px,#f60 999.3px,#fc0 1068.6px,#ffd600 1076.1px,#d8ff00 1136.1px,#ceff00 1143.6px,#6cff00 1227.3px,#4bff00 1258px)"></i>
<i style="background:linear-gradient(90deg,#0081ff 0.3px,#00c8ff 66.8px,#0ff 114.3px,#00ffce 153.1px,#00ff62 241px,#0f0 327.2px,#0aff00 336.8px,#6cff00 435.4px,#ceff00 545px,#ff0 603.9px,#fc0 662.9px,#f60 792.7px,#ff4b00 819.1px,#ff3200 845.4px,#ff1c00 871.8px,#ff0b00 898.1px,#f00 924.5px,#ff0b00 939.7px,#ff1c00 955px,#ff3200 970.3px,#ff4b00 985.6px,#f60 1000.9px,#fc0 1070.5px,#ffd600 1078px,#d8ff00 1138.2px,#ceff00 1145.7px,#6cff00 1229.7px,#4eff00 1258px)"></i>
<i style="background:linear-gradient(90deg,#0081ff 0.3px,#00c8ff 67.3px,#0ff 114.8px,#00ffce 153.7px,#00ff62 241.6px,#0f0 327.9px,#0aff00 337.4px,#6cff00 436.2px,#ceff00 545.9px,#ff0 604.9px,#fc0 663.9px,#f60 793.9px,#ff4b00 820.3px,#ff3200 846.6px,#ff1c00 873px,#ff0b00 899.3px,#f00 925.7px,#ff0b00 941.1px,#ff1c00 956.4px,#ff3200 971.8px,#ff4b00 987.2px,#f60 1002.6px,#fc0 1072.3px,#ffd600 1079.9px,#d8ff00 1140.2px,#ceff00 1147.8px,#6cff00 1232.2px,#50ff00 1258px)"></i>
<i style="background:linear-gradient(90deg,#0080ff 0.3px,#00c8ff 67.8px,#0ff 115.3px,#00ffce 154.2px,#00ff62 242.2px,#0f0 328.5px,#0aff00 338.1px,#6cff00 437px,#ceff00 546.7px,#ff0 605.9px,#fc0 665px,#f60 795.2px,#ff4b00 821.5px,#ff3200 847.9px,#ff1c00 874.2px,#ff0b00 900.6px,#f00 926.9px,#ff0b00 942.4px,#ff1c00 957.9px,#ff3200 973.3px,#ff4b00 988.8px,#f60 1004.2px,#fc0 1074.2px,#ffd600 1081.7px,#d8ff00 1142.3px,#ceff00 1149.9px,#6cff00 1234.6px,#53ff00 1258px)"></i>
<i style="background:linear-gradient(90deg,#0080ff 0.3px,#00c8ff 68.3px,#0ff 115.8px,#00ffce 154.8px,#00ff62 242.8px,#0f0 329.2px,#0aff00 338.8px,#6cff00 437.7px,#ceff00 547.6px,#ff0 606.8px,#fc0 666px,#f60 796.4px,#ff4b00 822.7px,#ff3200 849.1px,#ff1c00 875.5px,#ff0b00 901.8px,#f00 928.2px,#ff0b00 943.7px,#ff1c00 959.3px,#ff3200 974.8px,#ff4b00 990.4px,#f60 1005.9px,#fc0 1076px,#ffd600 1083.6px,#d8ff00 1144.4px,#ceff00 1152px,#6cff00 1237.1px,#56ff00 1258px)"></i>
<i style="background:linear-gradient(90deg,#007fff 0.3px,#00c8ff 68.8px,#0ff 116.4px,#00ffce 155.3px,#00ff62 243.5px,#0f0 329.9px,#0aff00 339.5px,#6cff00 438.5px,#ceff00 548.5px,#ff0 607.8px,#fc0 667px,#f60 797.6px,#ff4b00 824px,#ff3200 850.3px,#ff1c00 876.7px,#ff0b00 903.1px,#f00 929.4px,#ff0b00 945.1px,#ff1c00 960.7px,#ff3200 976.3px,#ff4b00 991.9px,#f60 1007.6px,#fc0 1077.9px,#ffd600 1085.5px,#d8ff00 1146.5px,#ceff00 1154.1px,#6cff00 1239.6px,#58ff00 1258px)"></i>
<i style="background:linear-gradient(90deg,#007fff 0.3px,#00c8ff 69.3px,#0ff 116.9px,#00ffce 155.9px,#00ff62 244.1px,#0f0 330.6px,#0aff00 340.2px,#6cff00 439.3px,#ceff00 549.4px,#ff0 608.7px,#fc0 668.1px,#f60 798.8px,#ff4b00 825.2px,#ff3200 851.6px,#ff1c00 877.9px,#ff0b00 904.3px,#f00 930.7px,#ff0b00 946.4px,#ff1c00 962.1px,#ff3200 977.8px,#ff4b00 993.5px,#f60 1009.2px,#fc0 1079.8px,#ffd600 1087.4px,#d8ff00 1148.6px,#ceff00 1156.3px,#6cff00 1242.1px,#5bff00 1258px)"></i>
<i style="background:linear-gradient(90deg,#007eff 0.3px,#00c8ff 69.8px,#0ff 117.4px,#00ffce 156.4px,#00ff62 244.7px,#0f0 331.3px,#0aff00 340.9px,#6cff00 440.1px,#ceff00 550.3px,#ff0 609.7px,#fc0 669.1px,#f60 800.1px,#ff4b00 826.4px,#ff3200 852.8px,#ff1c00 879.2px,#ff0b00 905.6px,#f00 931.9px,#ff0b00 947.7px,#ff1c00 963.5px,#ff3200 979.3px,#ff4b00 995.1px,#f60 1010.9px,#fc0 1081.7px,#ffd600 1089.4px,#d8ff00 1150.7px,#ceff00 1158.4px,#6cff00 1244.6px,#5eff00 1258px)"></i>
<i style="background:linear-gradient(90deg,#007eff 0.3px,#00c8ff 70.3px,#0ff 117.9px,#00ffce 157px,#00ff62 245.3px,#0f0 331.9px,#0aff00 341.6px,#6cff00 440.9px,#ceff00 551.1px,#ff0 610.7px,#fc0 670.2px,#f60 801.3px,#ff4b00 827.7px,#ff3200 854.1px,#ff1c00 880.4px,#ff0b00 906.8px,#f00 933.2px,#ff0b00 949.1px,#ff1c00 965px,#ff3200 980.8px,#ff4b00 996.7px,#f60 1012.6px,#fc0 1083.6px,#ffd600 1091.3px,#d8ff00 1152.9px,#ceff00 1160.5px,#6cff00 1247.1px,#61ff00 1258px)"></i>
<i style="background:linear-gradient(90deg,#007dff 0.3px,#00c8ff 70.8px,#0ff 118.5px,#00ffce 157.5px,#00ff62 245.9px,#0f0 332.6px,#0aff00 342.3px,#6cff00 441.6px,#ceff00 552px,#ff0 611.6px,#fc0 671.2px,#f60 802.5px,#ff4b00 828.9px,#ff3200 855.3px,#ff1c00 881.7px,#ff0b00 908.1px,#f00 934.5px,#ff0b00 950.4px,#ff1c00 966.4px,#ff3200 982.4px,#ff4b00 998.3px,#f60 1014.3px,#fc0 1085.5px,#ffd600 1093.2px,#d8ff00 1155px,#ceff00 1162.7px,#6cff00 1249.6px,#63ff00 1258px)"></i>
<i style="background:linear-gradient(90deg,#007dff 0.3px,#00c8ff 71.3px,#0ff 119px,#00ffce 158.1px,#00ff62 246.5px,#0f0 333.3px,#0aff00 342.9px,#6cff00 442.4px,#ceff00 552.9px,#ff0 612.6px,#fc0 672.2px,#f60 803.8px,#ff4b00 830.2px,#ff3200 856.6px,#ff1c00 883px,#ff0b00 909.4px,#f00 935.8px,#ff0b00 951.8px,#ff1c00 967.8px,#ff3200 983.9px,#ff4b00 999.9px,#f60 1016px,#fc0 1087.4px,#ffd600 1095.2px,#d8ff00 1157.1px,#ceff00 1164.9px,#6cff00 1252.1px,#6f0 1258px)"></i>
<i style="background:linear-gradient(90deg,#007cff 0.3px,#00c8ff 71.8px,#0ff 119.5px,#00ffce 158.6px,#00ff62 247.2px,#0f0 334px,#0aff00 343.6px,#6cff00 443.2px,#ceff00 553.8px,#ff0 613.6px,#fc0 673.3px,#f60 805px,#ff4b00 831.4px,#ff3200 857.8px,#ff1c00 884.2px,#ff0b00 910.6px,#f00 937px,#ff0b00 953.2px,#ff1c00 969.3px,#ff3200 985.4px,#ff4b00 1001.5px,#f60 1017.7px,#fc0 1089.3px,#ffd600 1097.1px,#d8ff00 1159.3px,#ceff00 1167.1px,#6cff00 1254.7px,#69ff00 1258px)"></i>
<i style="background:linear-gradient(90deg,#007cff 0.3px,#00c8ff 72.3px,#0ff 120.1px,#00ffce 159.2px,#00ff62 247.8px,#0f0 334.7px,#0aff00 344.3px,#6cff00 444px,#ceff00 554.7px,#ff0 614.5px,#fc0 674.3px,#f60 806.2px,#ff4b00 832.7px,#ff3200 859.1px,#ff1c00 885.5px,#ff0b00 911.9px,#f00 938.3px,#ff0b00 954.5px,#ff1c00 970.8px,#ff3200 987px,#ff4b00 1003.2px,#f60 1019.4px,#fc0 1091.3px,#ffd600 1099.1px,#d8ff00 1161.4px,#ceff00 1169.2px,#6cff00 1257.3px,#6bff00 1258px)"></i>
<i style="background:linear-gradient(90deg,#007bff 0.3px,#00c8ff 72.8px,#0ff 120.6px,#00ffce 159.7px,#00ff62 248.4px,#0f0 335.4px,#0aff00 345px,#6cff00 444.8px,#ceff00 555.6px,#ff0 615.5px,#fc0 675.4px,#f60 807.5px,#ff4b00 833.9px,#ff3200 860.3px,#ff1c00 886.8px,#ff0b00 913.2px,#f00 939.6px,#ff0b00 955.9px,#ff1c00 972.2px,#ff3200 988.5px,#ff4b00 1004.8px,#f60 1021.1px,#fc0 1093.2px,#ffd600 1101px,#d8ff00 1163.6px,#ceff00 1171.4px,#6eff00 1258px)"></i>
<i style="background:linear-gradient(90deg,#007bff 0.3px,#00c8ff 73.3px,#0ff 121.1px,#00ffce 160.3px,#00ff62 249px,#0f0 336px,#0aff00 345.7px,#6cff00 445.6px,#ceff00 556.5px,#ff0 616.5px,#fc0 676.4px,#f60 808.7px,#ff4b00 835.2px,#ff3200 861.6px,#ff1c00 888.1px,#ff0b00 914.5px,#f00 940.9px,#ff0b00 957.3px,#ff1c00 973.7px,#ff3200 990.1px,#ff4b00 1006.4px,#f60 1022.8px,#fc0 1095.1px,#ffd600 1103px,#d8ff00 1165.8px,#ceff00 1173.6px,#71ff00 1258px)"></i>
<i style="background:linear-gradient(90deg,#007aff 0.3px,#00c8ff 73.8px,#0ff 121.6px,#00ffce 160.8px,#00ff62 249.6px,#0f0 336.7px,#0aff00 346.4px,#6cff00 446.4px,#ceff00 557.4px,#ff0 617.4px,#fc0 677.5px,#f60 810px,#ff4b00 836.4px,#ff3200 862.9px,#ff1c00 889.3px,#ff0b00 915.8px,#f00 942.2px,#ff0b00 958.7px,#ff1c00 975.2px,#ff3200 991.6px,#ff4b00 1008.1px,#f60 1024.5px,#fc0 1097.1px,#ffd600 1105px,#d8ff00 1168px,#ceff00 1175.9px,#73ff00 1258px)"></i>
<i style="background:linear-gradient(90deg,#007aff 0.3px,#00c8ff 74.3px,#0ff 122.2px,#00ffce 161.4px,#00ff62 250.3px,#0f0 337.4px,#0aff00 347.1px,#6cff00 447.2px,#ceff00 558.3px,#ff0 618.4px,#fc0 678.6px,#f60 811.2px,#ff4b00 837.7px,#ff3200 864.2px,#ff1c00 890.6px,#ff0b00 917.1px,#f00 943.6px,#ff0b00 960.1px,#ff1c00 976.7px,#ff3200 993.2px,#ff4b00 1009.7px,#f60 1026.3px,#fc0 1099px,#ffd600 1106.9px,#d8ff00 1170.2px,#ceff00 1178.1px,#76ff00 1258px)"></i>
<i style="background:linear-gradient(90deg,#0079ff 0.3px,#00c8ff 74.8px,#0ff 122.7px,#00ffce 161.9px,#00ff62 250.9px,#0f0 338.1px,#0aff00 347.8px,#6cff00 447.9px,#ceff00 559.2px,#ff0 619.4px,#fc0 679.6px,#f60 812.5px,#ff4b00 839px,#ff3200 865.5px,#ff1c00 891.9px,#ff0b00 918.4px,#f00 944.9px,#ff0b00 961.5px,#ff1c00 978.1px,#ff3200 994.8px,#ff4b00 1011.4px,#f60 1028px,#fc0 1101px,#ffd600 1108.9px,#d8ff00 1172.4px,#ceff00 1180.3px,#79ff00 1258px)"></i>
<i style="background:linear-gradient(90deg,#0079ff 0.3px,#00c8ff 75.3px,#0ff 123.2px,#00ffce 162.5px,#00ff62 251.5px,#0f0 338.8px,#0aff00 348.5px,#6cff00 448.7px,#ceff00 560.1px,#ff0 620.4px,#fc0 680.7px,#f60 813.7px,#ff4b00 840.2px,#ff3200 866.7px,#ff1c00 893.2px,#ff0b00 919.7px,#f00 946.2px,#ff0b00 962.9px,#ff1c00 979.6px,#ff3200 996.3px,#ff4b00 1013.1px,#f60 1029.8px,#fc0 1103px,#ffd600 1110.9px,#d8ff00 1174.6px,#ceff00 1182.6px,#7bff00 1258px)"></i>
<i style="background:linear-gradient(90deg,#0078ff 0.3px,#00c8ff 75.8px,#0ff 123.8px,#00ffce 163px,#00ff62 252.1px,#0f0 339.5px,#0aff00 349.2px,#6cff00 449.5px,#ceff00 561px,#ff0 621.4px,#fc0 681.7px,#f60 815px,#ff4b00 841.5px,#ff3200 868px,#ff1c00 894.5px,#ff0b00 921px,#f00 947.6px,#ff0b00 964.4px,#ff1c00 981.1px,#ff3200 997.9px,#ff4b00 1014.7px,#f60 1031.5px,#fc0 1105px,#ffd600 1112.9px,#d8ff00 1176.8px,#ceff00 1184.8px,#7eff00 1258px)"></i>
<i style="background:linear-gradient(90deg,#0078ff 0.3px,#00c8ff 76.3px,#0ff 124.3px,#00ffce 163.6px,#00ff62 252.7px,#0f0 340.2px,#0aff00 349.9px,#6cff00 450.3px,#ceff00 561.9px,#ff0 622.3px,#fc0 682.8px,#f60 816.3px,#ff4b00 842.8px,#ff3200 869.3px,#ff1c00 895.8px,#ff0b00 922.4px,#f00 948.9px,#ff0b00 965.8px,#ff1c00 982.7px,#ff3200 999.5px,#ff4b00 1016.4px,#f60 1033.3px,#fc0 1107px,#ffd600 1115px,#d8ff00 1179.1px,#ceff00 1187.1px,#80ff00 1258px)"></i>
<i style="background:linear-gradient(90deg,#07f 0.3px,#00c8ff 76.8px,#0ff 124.8px,#00ffce 164.1px,#00ff62 253.4px,#0f0 340.9px,#0aff00 350.6px,#6cff00 451.1px,#ceff00 562.8px,#ff0 623.3px,#fc0 683.9px,#f60 817.5px,#ff4b00 844.1px,#ff3200 870.6px,#ff1c00 897.2px,#ff0b00 923.7px,#f00 950.3px,#ff0b00 967.2px,#ff1c00 984.2px,#ff3200 1001.1px,#ff4b00 1018.1px,#f60 1035px,#fc0 1109px,#ffd600 1117px,#d8ff00 1181.3px,#ceff00 1189.3px,#83ff00 1258px)"></i>
<i style="background:linear-gradient(90deg,#0076ff 0.3px,#00c8ff 77.3px,#0ff 125.3px,#00ffce 164.7px,#00ff62 254px,#0f0 341.6px,#0aff00 351.3px,#6cff00 451.9px,#ceff00 563.7px,#ff0 624.3px,#fc0 684.9px,#f60 818.8px,#ff4b00 845.4px,#ff3200 871.9px,#ff1c00 898.5px,#ff0b00 925.1px,#f00 951.6px,#ff0b00 968.7px,#ff1c00 985.7px,#ff3200 1002.7px,#ff4b00 1019.8px,#f60 1036.8px,#fc0 1111px,#ffd600 1119px,#d8ff00 1183.5px,#ceff00 1191.6px,#86ff00 1258px)"></i>
<i style="background:linear-gradient(90deg,#0076ff 0.3px,#00c8ff 77.8px,#0ff 125.9px,#00ffce 165.2px,#00ff62 254.6px,#0f0 342.3px,#0aff00 352px,#6cff00 452.7px,#ceff00 564.6px,#ff0 625.3px,#fc0 686px,#f60 820.1px,#ff4b00 846.6px,#ff3200 873.2px,#ff1c00 899.8px,#ff0b00 926.4px,#f00 953px,#ff0b00 970.1px,#ff1c00 987.2px,#ff3200 1004.4px,#ff4b00 1021.5px,#f60 1038.6px,#fc0 1113px,#ffd600 1121.1px,#d8ff00 1185.8px,#ceff00 1193.9px,#8f0 1258px)"></i>
<i style="background:linear-gradient(90deg,#0075ff 0.3px,#00c8ff 78.3px,#0ff 126.4px,#00ffce 165.8px,#00ff62 255.3px,#0f0 343px,#0aff00 352.7px,#6cff00 453.5px,#ceff00 565.5px,#ff0 626.3px,#fc0 687.1px,#f60 821.3px,#ff4b00 847.9px,#ff3200 874.5px,#ff1c00 901.1px,#ff0b00 927.8px,#f00 954.4px,#ff0b00 971.6px,#ff1c00 988.8px,#ff3200 1006px,#ff4b00 1023.2px,#f60 1040.4px,#fc0 1115px,#ffd600 1123.1px,#d8ff00 1188.1px,#ceff00 1196.2px,#8bff00 1258px)"></i>
<i style="background:linear-gradient(90deg,#0075ff 0.3px,#00c8ff 78.8px,#0ff 126.9px,#00ffce 166.3px,#00ff62 255.9px,#0f0 343.7px,#0aff00 353.4px,#6cff00 454.3px,#ceff00 566.4px,#ff0 627.3px,#fc0 688.1px,#f60 822.6px,#ff4b00 849.2px,#ff3200 875.9px,#ff1c00 902.5px,#ff0b00 929.1px,#f00 955.7px,#ff0b00 973px,#ff1c00 990.3px,#ff3200 1007.6px,#ff4b00 1024.9px,#f60 1042.2px,#fc0 1117px,#ffd600 1125.2px,#d8ff00 1190.4px,#ceff00 1198.5px,#8eff00 1258px)"></i>
<i style="background:linear-gradient(90deg,#0074ff 0.3px,#00c8ff 79.3px,#0ff 127.5px,#00ffce 166.9px,#00ff62 256.5px,#0f0 344.3px,#0aff00 354.1px,#6cff00 455.1px,#ceff00 567.3px,#ff0 628.3px,#fc0 689.2px,#f60 823.9px,#ff4b00 850.5px,#ff3200 877.2px,#ff1c00 903.8px,#ff0b00 930.5px,#f00 957.1px,#ff0b00 974.5px,#ff1c00 991.9px,#ff3200 1009.2px,#ff4b00 1026.6px,#f60 1044px,#fc0 1119.1px,#ffd600 1127.2px,#d8ff00 1192.6px,#ceff00 1200.8px,#90ff00 1258px)"></i>
<i style="background:linear-gradient(90deg,#0074ff 0.3px,#00c8ff 79.8px,#0ff 128px,#00ffce 167.5px,#00ff62 257.1px,#0f0 345px,#0aff00 354.8px,#6cff00 455.9px,#ceff00 568.2px,#ff0 629.3px,#fc0 690.3px,#f60 825.2px,#ff4b00 851.8px,#ff3200 878.5px,#ff1c00 905.2px,#ff0b00 931.9px,#f00 958.5px,#ff0b00 976px,#ff1c00 993.4px,#ff3200 1010.9px,#ff4b00 1028.3px,#f60 1045.8px,#fc0 1121.1px,#ffd600 1129.3px,#d8ff00 1194.9px,#ceff00 1203.1px,#93ff00 1258px)"></i>
<i style="background:linear-gradient(90deg,#0073ff 0.3px,#00c8ff 80.3px,#0ff 128.5px,#00ffce 168px,#00ff62 257.8px,#0f0 345.7px,#0aff00 355.5px,#6cff00 456.7px,#ceff00 569.1px,#ff0 630.3px,#fc0 691.4px,#f60 826.4px,#ff4b00 853.1px,#ff3200 879.8px,#ff1c00 906.5px,#ff0b00 933.2px,#f00 959.9px,#ff0b00 977.5px,#ff1c00 995px,#ff3200 1012.5px,#ff4b00 1030.1px,#f60 1047.6px,#fc0 1123.2px,#ffd600 1131.4px,#d8ff00 1197.3px,#ceff00 1205.5px,#96ff00 1258px)"></i>
<i style="background:linear-gradient(90deg,#0073ff 0.3px,#00c8ff 80.8px,#0ff 129.1px,#00ffce 168.6px,#00ff62 258.4px,#0f0 346.4px,#0aff00 356.2px,#6cff00 457.6px,#ceff00 570.1px,#ff0 631.2px,#fc0 692.4px,#f60 827.7px,#ff4b00 854.4px,#ff3200 881.2px,#ff1c00 907.9px,#ff0b00 934.6px,#f00 961.4px,#ff0b00 979px,#ff1c00 996.6px,#ff3200 1014.2px,#ff4b00 1031.8px,#f60 1049.4px,#fc0 1125.2px,#ffd600 1133.5px,#d8ff00 1199.6px,#ceff00 1207.8px,#98ff00 1258px)"></i>
<i style="background:linear-gradient(90deg,#0072ff 0.3px,#00c8ff 81.3px,#0ff 129.6px,#00ffce 169.1px,#00ff62 259px,#0f0 347.1px,#0aff00 356.9px,#6cff00 458.4px,#ceff00 571px,#ff0 632.2px,#fc0 693.5px,#f60 829px,#ff4b00 855.8px,#ff3200 882.5px,#ff1c00 909.3px,#ff0b00 936px,#f00 962.8px,#ff0b00 980.5px,#ff1c00 998.2px,#ff3200 1015.9px,#ff4b00 1033.6px,#f60 1051.3px,#fc0 1127.3px,#ffd600 1135.6px,#d8ff00 1201.9px,#ceff00 1210.2px,#9bff00 1258px)"></i>
<i style="background:linear-gradient(90deg,#0072ff 0.3px,#00c8ff 81.8px,#0ff 130.2px,#00ffce 169.7px,#00ff62 259.7px,#0f0 347.8px,#0aff00 357.6px,#6cff00 459.2px,#ceff00 571.9px,#ff0 633.2px,#fc0 694.6px,#f60 830.3px,#ff4b00 857.1px,#ff3200 883.9px,#ff1c00 910.6px,#ff0b00 937.4px,#f00 964.2px,#ff0b00 982px,#ff1c00 999.8px,#ff3200 1017.5px,#ff4b00 1035.3px,#f60 1053.1px,#fc0 1129.4px,#ffd600 1137.7px,#d8ff00 1204.2px,#ceff00 1212.6px,#9eff00 1258px)"></i>
<i style="background:linear-gradient(90deg,#0071ff 0.3px,#00c8ff 82.4px,#0ff 130.7px,#00ffce 170.2px,#00ff62 260.3px,#0f0 348.5px,#0aff00 358.4px,#6cff00 460px,#ceff00 572.8px,#ff0 634.2px,#fc0 695.7px,#f60 831.6px,#ff4b00 858.4px,#ff3200 885.2px,#ff1c00 912px,#ff0b00 938.8px,#f00 965.7px,#ff0b00 983.5px,#ff1c00 1001.4px,#ff3200 1019.2px,#ff4b00 1037.1px,#f60 1054.9px,#fc0 1131.5px,#ffd600 1139.8px,#d8ff00 1206.6px,#ceff00 1214.9px,#a0ff00 1258px)"></i>
<i style="background:linear-gradient(90deg,#0071ff 0.3px,#00c8ff 82.9px,#0ff 131.2px,#00ffce 170.8px,#00ff62 260.9px,#0f0 349.2px,#0aff00 359.1px,#6cff00 460.8px,#ceff00 573.7px,#ff0 635.3px,#fc0 696.8px,#f60 832.9px,#ff4b00 859.7px,#ff3200 886.6px,#ff1c00 913.4px,#ff0b00 940.3px,#f00 967.1px,#ff0b00 985px,#ff1c00 1003px,#ff3200 1020.9px,#ff4b00 1038.8px,#f60 1056.8px,#fc0 1133.6px,#ffd600 1141.9px,#d8ff00 1208.9px,#ceff00 1217.3px,#a3ff00 1258px)"></i>
<i style="background:linear-gradient(90deg,#0070ff 0.3px,#00c8ff 83.4px,#0ff 131.8px,#00ffce 171.4px,#00ff62 261.6px,#0f0 350px,#0aff00 359.8px,#6cff00 461.6px,#ceff00 574.7px,#ff0 636.3px,#fc0 697.9px,#f60 834.2px,#ff4b00 861.1px,#ff3200 887.9px,#ff1c00 914.8px,#ff0b00 941.7px,#f00 968.6px,#ff0b00 986.6px,#ff1c00 1004.6px,#ff3200 1022.6px,#ff4b00 1040.6px,#f60 1058.6px,#fc0 1135.7px,#ffd600 1144.1px,#d8ff00 1211.3px,#ceff00 1219.7px,#a6ff00 1258px)"></i>
<i style="background:linear-gradient(90deg,#0070ff 0.3px,#00c8ff 83.9px,#0ff 132.3px,#00ffce 171.9px,#00ff62 262.2px,#0f0 350.7px,#0aff00 360.5px,#6cff00 462.4px,#ceff00 575.6px,#ff0 637.3px,#fc0 698.9px,#f60 835.5px,#ff4b00 862.4px,#ff3200 889.3px,#ff1c00 916.2px,#ff0b00 943.1px,#f00 970px,#ff0b00 988.1px,#ff1c00 1006.2px,#ff3200 1024.3px,#ff4b00 1042.4px,#f60 1060.5px,#fc0 1137.8px,#ffd600 1146.2px,#d8ff00 1213.7px,#ceff00 1222.1px,#a8ff00 1258px)"></i>
<i style="background:linear-gradient(90deg,#006fff 0.3px,#00c8ff 84.4px,#0ff 132.8px,#00ffce 172.5px,#00ff62 262.8px,#0f0 351.4px,#0aff00 361.2px,#6cff00 463.2px,#ceff00 576.5px,#ff0 638.3px,#fc0 700px,#f60 836.8px,#ff4b00 863.7px,#ff3200 890.7px,#ff1c00 917.6px,#ff0b00 944.6px,#f00 971.5px,#ff0b00 989.7px,#ff1c00 1007.9px,#ff3200 1026px,#ff4b00 1044.2px,#f60 1062.4px,#fc0 1139.9px,#ffd600 1148.4px,#d8ff00 1216.1px,#ceff00 1224.5px,#abff00 1258px)"></i>
<i style="background:linear-gradient(90deg,#006fff 0.3px,#00c8ff 84.9px,#0ff 133.4px,#00ffce 173px,#00ff62 263.5px,#0f0 352.1px,#0aff00 361.9px,#6cff00 464.1px,#ceff00 577.4px,#ff0 639.3px,#fc0 701.1px,#f60 838.1px,#ff4b00 865.1px,#ff3200 892.1px,#ff1c00 919px,#ff0b00 946px,#f00 973px,#ff0b00 991.3px,#ff1c00 1009.5px,#ff3200 1027.8px,#ff4b00 1046px,#f60 1064.3px,#fc0 1142px,#ffd600 1150.5px,#d8ff00 1218.5px,#ceff00 1226.9px,#aeff00 1258px)"></i>
<i style="background:linear-gradient(90deg,#006eff 0.3px,#00c8ff 85.4px,#0ff 133.9px,#00ffce 173.6px,#00ff62 264.1px,#0f0 352.8px,#0aff00 362.6px,#6cff00 464.9px,#ceff00 578.4px,#ff0 640.3px,#fc0 702.2px,#f60 839.4px,#ff4b00 866.4px,#ff3200 893.4px,#ff1c00 920.5px,#ff0b00 947.5px,#f00 974.5px,#ff0b00 992.8px,#ff1c00 1011.2px,#ff3200 1029.5px,#ff4b00 1047.8px,#f60 1066.1px,#fc0 1144.2px,#ffd600 1152.7px,#d8ff00 1220.9px,#ceff00 1229.4px,#b0ff00 1258px)"></i>
<i style="background:linear-gradient(90deg,#006eff 0.3px,#00c8ff 85.9px,#0ff 134.5px,#00ffce 174.2px,#00ff62 264.7px,#0f0 353.5px,#0aff00 363.3px,#6cff00 465.7px,#ceff00 579.3px,#ff0 641.3px,#fc0 703.3px,#f60 840.7px,#ff4b00 867.8px,#ff3200 894.8px,#ff1c00 921.9px,#ff0b00 949px,#f00 976px,#ff0b00 994.4px,#ff1c00 1012.8px,#ff3200 1031.2px,#ff4b00 1049.6px,#f60 1068px,#fc0 1146.3px,#ffd600 1154.9px,#d8ff00 1223.3px,#ceff00 1231.8px,#b3ff00 1258px)"></i>
<i style="background:linear-gradient(90deg,#006dff 0.3px,#00c8ff 86.4px,#0ff 135px,#00ffce 174.7px,#00ff62 265.4px,#0f0 354.2px,#0aff00 364.1px,#6cff00 466.5px,#ceff00 580.2px,#ff0 642.3px,#fc0 704.4px,#f60 842px,#ff4b00 869.1px,#ff3200 896.2px,#ff1c00 923.3px,#ff0b00 950.4px,#f00 977.5px,#ff0b00 996px,#ff1c00 1014.5px,#ff3200 1033px,#ff4b00 1051.5px,#f60 1069.9px,#fc0 1148.5px,#ffd600 1157px,#d8ff00 1225.7px,#ceff00 1234.3px,#b5ff00 1258px)"></i>
<i style="background:linear-gradient(90deg,#006dff 0.3px,#00c8ff 87px,#0ff 135.5px,#00ffce 175.3px,#00ff62 266px,#0f0 354.9px,#0aff00 364.8px,#6cff00 467.3px,#ceff00 581.2px,#ff0 643.3px,#fc0 705.5px,#f60 843.3px,#ff4b00 870.5px,#ff3200 897.6px,#ff1c00 924.8px,#ff0b00 951.9px,#f00 979.1px,#ff0b00 997.6px,#ff1c00 1016.2px,#ff3200 1034.7px,#ff4b00 1053.3px,#f60 1071.8px,#fc0 1150.6px,#ffd600 1159.2px,#d8ff00 1228.1px,#ceff00 1236.7px,#b8ff00 1258px)"></i>
<i style="background:linear-gradient(90deg,#006cff 0.3px,#00c8ff 87.5px,#0ff 136.1px,#00ffce 175.9px,#00ff62 266.7px,#0f0 355.6px,#0aff00 365.5px,#6cff00 468.2px,#ceff00 582.1px,#ff0 644.4px,#fc0 706.6px,#f60 844.6px,#ff4b00 871.8px,#ff3200 899px,#ff1c00 926.2px,#ff0b00 953.4px,#f00 980.6px,#ff0b00 999.2px,#ff1c00 1017.9px,#ff3200 1036.5px,#ff4b00 1055.1px,#f60 1073.8px,#fc0 1152.8px,#ffd600 1161.4px,#d8ff00 1230.6px,#ceff00 1239.2px,#bf0 1258px)"></i>
<i style="background:linear-gradient(90deg,#006cff 0.3px,#00c8ff 88px,#0ff 136.6px,#00ffce 176.4px,#00ff62 267.3px,#0f0 356.3px,#0aff00 366.2px,#6cff00 469px,#ceff00 583px,#ff0 645.4px,#fc0 707.7px,#f60 846px,#ff4b00 873.2px,#ff3200 900.4px,#ff1c00 927.7px,#ff0b00 954.9px,#f00 982.2px,#ff0b00 1000.9px,#ff1c00 1019.6px,#ff3200 1038.3px,#ff4b00 1057px,#f60 1075.7px,#fc0 1155px,#ffd600 1163.6px,#d8ff00 1233px,#ceff00 1241.7px,#bdff00 1258px)"></i>
<i style="background:linear-gradient(90deg,#006bff 0.3px,#00c8ff 88.5px,#0ff 137.2px,#00ffce 177px,#00ff62 267.9px,#0f0 357px,#0aff00 366.9px,#6cff00 469.8px,#ceff00 584px,#ff0 646.4px,#fc0 708.8px,#f60 847.3px,#ff4b00 874.6px,#ff3200 901.9px,#ff1c00 929.1px,#ff0b00 956.4px,#f00 983.7px,#ff0b00 1002.5px,#ff1c00 1021.3px,#ff3200 1040.1px,#ff4b00 1058.8px,#f60 1077.6px,#fc0 1157.2px,#ffd600 1165.9px,#d8ff00 1235.5px,#ceff00 1244.2px,#c0ff00 1258px)"></i>
<i style="background:linear-gradient(90deg,#006bff 0.3px,#00c8ff 89px,#0ff 137.7px,#00ffce 177.6px,#00ff62 268.6px,#0f0 357.8px,#0aff00 367.7px,#6cff00 470.6px,#ceff00 584.9px,#ff0 647.4px,#fc0 709.9px,#f60 848.6px,#ff4b00 875.9px,#ff3200 903.3px,#ff1c00 930.6px,#ff0b00 958px,#f00 985.3px,#ff0b00 1004.1px,#ff1c00 1023px,#ff3200 1041.9px,#ff4b00 1060.7px,#f60 1079.6px,#fc0 1159.4px,#ffd600 1168.1px,#d8ff00 1238px,#ceff00 1246.7px,#c3ff00 1258px)"></i>
<i style="background:linear-gradient(90deg,#006aff 0.3px,#00c8ff 89.5px,#0ff 138.3px,#00ffce 178.1px,#00ff62 269.2px,#0f0 358.5px,#0aff00 368.4px,#6cff00 471.5px,#ceff00 585.9px,#ff0 648.5px,#fc0 711px,#f60 849.9px,#ff4b00 877.3px,#ff3200 904.7px,#ff1c00 932.1px,#ff0b00 959.5px,#f00 986.9px,#ff0b00 1005.8px,#ff1c00 1024.7px,#ff3200 1043.7px,#ff4b00 1062.6px,#f60 1081.5px,#fc0 1161.6px,#ffd600 1170.3px,#d8ff00 1240.4px,#ceff00 1249.2px,#c5ff00 1258px)"></i>
<i style="background:linear-gradient(90deg,#006aff 0.3px,#00c8ff 90px,#0ff 138.8px,#00ffce 178.7px,#00ff62 269.9px,#0f0 359.2px,#0aff00 369.1px,#6cff00 472.3px,#ceff00 586.8px,#ff0 649.5px,#fc0 712.2px,#f60 851.3px,#ff4b00 878.7px,#ff3200 906.1px,#ff1c00 933.6px,#ff0b00 961px,#f00 988.5px,#ff0b00 1007.5px,#ff1c00 1026.5px,#ff3200 1045.5px,#ff4b00 1064.5px,#f60 1083.5px,#fc0 1163.8px,#ffd600 1172.6px,#d8ff00 1242.9px,#ceff00 1251.7px,#c8ff00 1258px)"></i>
<i style="background:linear-gradient(90deg,#0069ff 0.3px,#00c8ff 90.6px,#0ff 139.3px,#00ffce 179.3px,#00ff62 270.5px,#0f0 359.9px,#0aff00 369.8px,#6cff00 473.1px,#ceff00 587.8px,#ff0 650.5px,#fc0 713.3px,#f60 852.6px,#ff4b00 880.1px,#ff3200 907.6px,#ff1c00 935.1px,#ff0b00 962.6px,#f00 990.1px,#ff0b00 1009.1px,#ff1c00 1028.2px,#ff3200 1047.3px,#ff4b00 1066.4px,#f60 1085.4px,#fc0 1166px,#ffd600 1174.8px,#d8ff00 1245.4px,#ceff00 1254.3px,#cbff00 1258px)"></i>
<i style="background:linear-gradient(90deg,#0069ff 0.3px,#00c8ff 91.1px,#0ff 139.9px,#00ffce 179.8px,#00ff62 271.2px,#0f0 360.6px,#0aff00 370.6px,#6cff00 474px,#ceff00 588.7px,#ff0 651.5px,#fc0 714.4px,#f60 853.9px,#ff4b00 881.5px,#ff3200 909px,#ff1c00 936.6px,#ff0b00 964.1px,#f00 991.7px,#ff0b00 1010.8px,#ff1c00 1030px,#ff3200 1049.1px,#ff4b00 1068.3px,#f60 1087.4px,#fc0 1168.2px,#ffd600 1177.1px,#d8ff00 1248px,#ceff00 1256.8px,#cdff00 1258px)"></i>
<i style="background:linear-gradient(90deg,#0068ff 0.3px,#00c8ff 91.6px,#0ff 140.4px,#00ffce 180.4px,#00ff62 271.8px,#0f0 361.3px,#0aff00 371.3px,#6cff00 474.8px,#ceff00 589.7px,#ff0 652.6px,#fc0 715.5px,#f60 855.3px,#ff4b00 882.9px,#ff3200 910.5px,#ff1c00 938.1px,#ff0b00 965.7px,#f00 993.3px,#ff0b00 1012.5px,#ff1c00 1031.7px,#ff3200 1050.9px,#ff4b00 1070.2px,#f60 1089.4px,#fc0 1170.5px,#ffd600 1179.4px,#d8ff00 1250.8px,#d0ff00 1258px)"></i>
<i style="background:linear-gradient(90deg,#0068ff 0.3px,#00c8ff 92.1px,#0ff 141px,#00ffce 181px,#00ff62 272.4px,#0f0 362.1px,#0aff00 372px,#6cff00 475.6px,#ceff00 590.6px,#ff0 653.6px,#fc0 716.6px,#f60 856.6px,#ff4b00 884.3px,#ff3200 912px,#ff1c00 939.6px,#ff0b00 967.3px,#f00 995px,#ff0b00 1014.2px,#ff1c00 1033.5px,#ff3200 1052.8px,#ff4b00 1072.1px,#f60 1091.4px,#fc0 1172.7px,#ffd600 1181.7px,#d8ff00 1253.2px,#d3ff00 1258px)"></i>
<i style="background:linear-gradient(90deg,#0067ff 0.3px,#00c8ff 92.6px,#0ff 141.5px,#00ffce 181.5px,#00ff62 273.1px,#0f0 362.8px,#0aff00 372.7px,#6cff00 476.5px,#ceff00 591.6px,#ff0 654.7px,#fc0 717.7px,#f60 858px,#ff4b00 885.7px,#ff3200 913.4px,#ff1c00 941.2px,#ff0b00 968.9px,#f00 996.6px,#ff0b00 1016px,#ff1c00 1035.3px,#ff3200 1054.7px,#ff4b00 1074px,#f60 1093.4px,#fc0 1175px,#ffd600 1184px,#d8ff00 1255.6px,#d5ff00 1258px)"></i>
<i style="background:linear-gradient(90deg,#0067ff 0.3px,#00c8ff 93.2px,#0ff 142.1px,#00ffce 182.1px,#00ff62 273.7px,#0f0 363.5px,#0aff00 373.5px,#6cff00 477.3px,#ceff00 592.5px,#ff0 655.7px,#fc0 718.9px,#f60 859.3px,#ff4b00 887.1px,#ff3200 914.9px,#ff1c00 942.7px,#ff0b00 970.5px,#f00 998.3px,#ff0b00 1017.7px,#ff1c00 1037.1px,#ff3200 1056.5px,#ff4b00 1075.9px,#f60 1095.4px,#fc0 1177.3px,#ffd600 1186.2px,#d8ff00 1258px)"></i>
<i style="background:linear-gradient(90deg,#06f 0.3px,#00c8ff 93.7px,#0ff 142.6px,#00ffce 182.7px,#00ff62 274.4px,#0f0 364.2px,#0aff00 374.2px,#6cff00 478.2px,#ceff00 593.5px,#ff0 656.7px,#fc0 720px,#f60 860.7px,#ff4b00 888.5px,#ff3200 916.4px,#ff1c00 944.2px,#ff0b00 972.1px,#f00 999.9px,#ff0b00 1019.4px,#ff1c00 1038.9px,#ff3200 1058.4px,#ff4b00 1077.9px,#f60 1097.4px,#fc0 1179.5px,#ffd600 1188.5px,#d9fe00 1258px)"></i>
<i style="background:linear-gradient(90deg,#06f 0.3px,#00c8ff 94.2px,#0ff 143.2px,#00ffce 183.3px,#00ff62 275px,#0f0 364.9px,#0aff00 374.9px,#6cff00 479px,#ceff00 594.4px,#ff0 657.8px,#fc0 721.1px,#f60 862px,#ff4b00 889.9px,#ff3200 917.9px,#ff1c00 945.8px,#ff0b00 973.7px,#f00 1001.6px,#ff0b00 1021.2px,#ff1c00 1040.7px,#ff3200 1060.3px,#ff4b00 1079.8px,#f60 1099.4px,#fc0 1181.8px,#ffd600 1190.8px,#dbfc00 1258px)"></i>
<i style="background:linear-gradient(90deg,#0065ff 0.3px,#00c8ff 94.7px,#0ff 143.7px,#00ffce 183.8px,#00ff62 275.7px,#0f0 365.7px,#0aff00 375.7px,#6cff00 479.8px,#ceff00 595.4px,#ff0 658.8px,#fc0 722.2px,#f60 863.4px,#ff4b00 891.4px,#ff3200 919.4px,#ff1c00 947.4px,#ff0b00 975.3px,#f00 1003.3px,#ff0b00 1022.9px,#ff1c00 1042.6px,#ff3200 1062.2px,#ff4b00 1081.8px,#f60 1101.4px,#fc0 1184.1px,#ffd600 1193.2px,#dcfb00 1258px)"></i>
<i style="background:linear-gradient(90deg,#0065ff 0.3px,#00c8ff 95.2px,#0ff 144.3px,#00ffce 184.4px,#00ff62 276.3px,#0f0 366.4px,#0aff00 376.4px,#6cff00 480.7px,#ceff00 596.4px,#ff0 659.9px,#fc0 723.4px,#f60 864.7px,#ff4b00 892.8px,#ff3200 920.9px,#ff1c00 948.9px,#ff0b00 977px,#f00 1005px,#ff0b00 1024.7px,#ff1c00 1044.4px,#ff3200 1064.1px,#ff4b00 1083.8px,#f60 1103.4px,#fc0 1186.4px,#ffd600 1195.5px,#ddf900 1258px)"></i>
<i style="background:linear-gradient(90deg,#0064ff 0.3px,#00c8ff 95.8px,#0ff 144.8px,#00ffce 185px,#00ff62 277px,#0f0 367.1px,#0aff00 377.1px,#6cff00 481.5px,#ceff00 597.3px,#ff0 660.9px,#fc0 724.5px,#f60 866.1px,#ff4b00 894.2px,#ff3200 922.4px,#ff1c00 950.5px,#ff0b00 978.6px,#f00 1006.8px,#ff0b00 1026.5px,#ff1c00 1046.2px,#ff3200 1066px,#ff4b00 1085.7px,#f60 1105.5px,#fc0 1188.8px,#ffd600 1197.8px,#dff800 1258px)"></i>
<i style="background:linear-gradient(90deg,#0064ff 0.3px,#00c8ff 96.3px,#0ff 145.4px,#00ffce 185.5px,#00ff62 277.6px,#0f0 367.8px,#0aff00 377.9px,#6cff00 482.4px,#ceff00 598.3px,#ff0 662px,#fc0 725.6px,#f60 867.5px,#ff4b00 895.7px,#ff3200 923.9px,#ff1c00 952.1px,#ff0b00 980.3px,#f00 1008.5px,#ff0b00 1028.3px,#ff1c00 1048.1px,#ff3200 1067.9px,#ff4b00 1087.7px,#f60 1107.5px,#fc0 1191.1px,#ffd600 1200.2px,#e0f700 1258px)"></i>
<i style="background:linear-gradient(90deg,#0063ff 0.3px,#00c8ff 96.8px,#0ff 145.9px,#00ffce 186.1px,#00ff62 278.3px,#0f0 368.6px,#0aff00 378.6px,#6cff00 483.2px,#ceff00 599.3px,#ff0 663px,#fc0 726.8px,#f60 868.9px,#ff4b00 897.1px,#ff3200 925.4px,#ff1c00 953.7px,#ff0b00 982px,#f00 1010.2px,#ff0b00 1030.1px,#ff1c00 1050px,#ff3200 1069.9px,#ff4b00 1089.7px,#f60 1109.6px,#fc0 1193.4px,#ffd600 1202.5px,#e1f500 1258px)"></i>
<i style="background:linear-gradient(90deg,#0062ff 0.3px,#00c8ff 97.3px,#0ff 146.5px,#00ffce 186.7px,#00ff62 278.9px,#0f0 369.3px,#0aff00 379.3px,#6cff00 484.1px,#ceff00 600.2px,#ff0 664.1px,#fc0 727.9px,#f60 870.2px,#ff4b00 898.6px,#ff3200 926.9px,#ff1c00 955.3px,#ff0b00 983.7px,#f00 1012px,#ff0b00 1031.9px,#ff1c00 1051.9px,#ff3200 1071.8px,#ff4b00 1091.7px,#f60 1111.7px,#fc0 1195.8px,#ffd600 1204.9px,#e3f400 1258px)"></i>
<i style="background:linear-gradient(90deg,#0062ff 0.3px,#00c8ff 97.9px,#0ff 147px,#00ffce 187.3px,#00ff62 279.6px,#0f0 370px,#0aff00 380.1px,#6cff00 484.9px,#ceff00 601.2px,#ff0 665.1px,#fc0 729.1px,#f60 871.6px,#ff4b00 900px,#ff3200 928.5px,#ff1c00 956.9px,#ff0b00 985.3px,#f00 1013.8px,#ff0b00 1033.8px,#ff1c00 1053.8px,#ff3200 1073.8px,#ff4b00 1093.7px,#f60 1113.7px,#fc0 1198.1px,#ffd600 1207.2px,#e4f300 1258px)"></i>
<i style="background:linear-gradient(90deg,#0061ff 0.3px,#00c8ff 98.4px,#0ff 147.6px,#00ffce 187.9px,#00ff62 280.3px,#0f0 370.8px,#0aff00 380.8px,#6cff00 485.8px,#ceff00 602.2px,#ff0 666.2px,#fc0 730.2px,#f60 873px,#ff4b00 901.5px,#ff3200 930px,#ff1c00 958.5px,#ff0b00 987.1px,#f00 1015.6px,#ff0b00 1035.6px,#ff1c00 1055.7px,#ff3200 1075.7px,#ff4b00 1095.8px,#f60 1115.8px,#fc0 1200.5px,#ffd600 1209.6px,#e5f100 1258px)"></i>
<i style="background:linear-gradient(90deg,#0060ff 0.3px,#00c8ff 98.9px,#0ff 148.1px,#00ffce 188.4px,#00ff62 280.9px,#0f0 371.5px,#0aff00 381.5px,#6cff00 486.6px,#ceff00 603.2px,#ff0 667.3px,#fc0 731.4px,#f60 874.4px,#ff4b00 903px,#ff3200 931.6px,#ff1c00 960.2px,#ff0b00 988.8px,#f00 1017.4px,#ff0b00 1037.5px,#ff1c00 1057.6px,#ff3200 1077.7px,#ff4b00 1097.8px,#f60 1117.9px,#fc0 1202.8px,#ffd600 1212px,#e7f000 1258px)"></i>
<i style="background:linear-gradient(90deg,#0060ff 0.3px,#00c8ff 99.4px,#0ff 148.7px,#00ffce 189px,#00ff62 281.6px,#0f0 372.2px,#0aff00 382.3px,#6cff00 487.5px,#ceff00 604.1px,#ff0 668.3px,#fc0 732.5px,#f60 875.8px,#ff4b00 904.5px,#ff3200 933.1px,#ff1c00 961.8px,#ff0b00 990.5px,#f00 1019.2px,#ff0b00 1039.4px,#ff1c00 1059.5px,#ff3200 1079.7px,#ff4b00 1099.8px,#f60 1120px,#fc0 1205.2px,#ffd600 1214.4px,#e8ee00 1258px)"></i>
<i style="background:linear-gradient(90deg,#005fff 0.3px,#00c8ff 100px,#0ff 149.3px,#00ffce 189.6px,#00ff62 282.2px,#0f0 373px,#0aff00 383px,#6cff00 488.4px,#ceff00 605.1px,#ff0 669.4px,#fc0 733.7px,#f60 877.2px,#ff4b00 905.9px,#ff3200 934.7px,#ff1c00 963.5px,#ff0b00 992.2px,#f00 1021px,#ff0b00 1041.2px,#ff1c00 1061.5px,#ff3200 1081.7px,#ff4b00 1101.9px,#f60 1122.1px,#fc0 1207.6px,#ffd600 1216.8px,#e9ed00 1258px)"></i>
<i style="background:linear-gradient(90deg,#005eff 0.3px,#00c8ff 100.5px,#0ff 149.8px,#00ffce 190.2px,#00ff62 282.9px,#0f0 373.7px,#0aff00 383.8px,#6cff00 489.2px,#ceff00 606.1px,#ff0 670.4px,#fc0 734.8px,#f60 878.6px,#ff4b00 907.4px,#ff3200 936.3px,#ff1c00 965.1px,#ff0b00 994px,#f00 1022.9px,#ff0b00 1043.1px,#ff1c00 1063.4px,#ff3200 1083.7px,#ff4b00 1104px,#f60 1124.2px,#fc0 1210px,#ffd600 1219.3px,#ebec00 1258px)"></i>
<i style="background:linear-gradient(90deg,#005eff 0.3px,#00c8ff 101px,#0ff 150.4px,#00ffce 190.8px,#00ff62 283.5px,#0f0 374.4px,#0aff00 384.5px,#6cff00 490.1px,#ceff00 607.1px,#ff0 671.5px,#fc0 736px,#f60 880px,#ff4b00 908.9px,#ff3200 937.9px,#ff1c00 966.8px,#ff0b00 995.8px,#f00 1024.7px,#ff0b00 1045px,#ff1c00 1065.4px,#ff3200 1085.7px,#ff4b00 1106px,#f60 1126.4px,#fc0 1212.4px,#ffd600 1221.7px,#ecea00 1258px)"></i>
<i style="background:linear-gradient(90deg,#005dff 0.3px,#00c8ff 101.5px,#0ff 150.9px,#00ffce 191.3px,#00ff62 284.2px,#0f0 375.2px,#0aff00 385.3px,#6cff00 490.9px,#ceff00 608.1px,#ff0 672.6px,#fc0 737.1px,#f60 881.4px,#ff4b00 910.4px,#ff3200 939.5px,#ff1c00 968.5px,#ff0b00 997.5px,#f00 1026.6px,#ff0b00 1047px,#ff1c00 1067.3px,#ff3200 1087.7px,#ff4b00 1108.1px,#f60 1128.5px,#fc0 1214.8px,#ffd600 1224.1px,#ede900 1258px)"></i>
<i style="background:linear-gradient(90deg,#005cff 0.3px,#00c8ff 102.1px,#0ff 151.5px,#00ffce 191.9px,#00ff62 284.9px,#0f0 375.9px,#0aff00 386px,#6cff00 491.8px,#ceff00 609px,#ff0 673.7px,#fc0 738.3px,#f60 882.8px,#ff4b00 911.9px,#ff3200 941.1px,#ff1c00 970.2px,#ff0b00 999.3px,#f00 1028.5px,#ff0b00 1048.9px,#ff1c00 1069.3px,#ff3200 1089.8px,#ff4b00 1110.2px,#f60 1130.6px,#fc0 1217.3px,#ffd600 1226.6px,#eee700 1258px)"></i>
<i style="background:linear-gradient(90deg,#005bff 0.3px,#00c8ff 102.6px,#0ff 152px,#00ffce 192.5px,#00ff62 285.5px,#0f0 376.6px,#0aff00 386.8px,#6cff00 492.7px,#ceff00 610px,#ff0 674.7px,#fc0 739.4px,#f60 884.2px,#ff4b00 913.4px,#ff3200 942.7px,#ff1c00 971.9px,#ff0b00 1001.1px,#f00 1030.4px,#ff0b00 1050.9px,#ff1c00 1071.3px,#ff3200 1091.8px,#ff4b00 1112.3px,#f60 1132.8px,#fc0 1219.7px,#ffd600 1229px,#f0e600 1258px)"></i>
<i style="background:linear-gradient(90deg,#005bff 0.3px,#00c8ff 103.1px,#0ff 152.6px,#00ffce 193.1px,#00ff62 286.2px,#0f0 377.4px,#0aff00 387.5px,#6cff00 493.5px,#ceff00 611px,#ff0 675.8px,#fc0 740.6px,#f60 885.6px,#ff4b00 914.9px,#ff3200 944.3px,#ff1c00 973.6px,#ff0b00 1002.9px,#f00 1032.3px,#ff0b00 1052.8px,#ff1c00 1073.3px,#ff3200 1093.9px,#ff4b00 1114.4px,#f60 1134.9px,#fc0 1222.1px,#ffd600 1231.5px,#f1e500 1258px)"></i>
<i style="background:linear-gradient(90deg,#005aff 0.3px,#00c8ff 103.6px,#0ff 153.2px,#00ffce 193.7px,#00ff62 286.8px,#0f0 378.1px,#0aff00 388.3px,#6cff00 494.4px,#ceff00 612px,#ff0 676.9px,#fc0 741.8px,#f60 887px,#ff4b00 916.5px,#ff3200 945.9px,#ff1c00 975.3px,#ff0b00 1004.8px,#f00 1034.2px,#ff0b00 1054.8px,#ff1c00 1075.4px,#ff3200 1096px,#ff4b00 1116.5px,#f60 1137.1px,#fc0 1224.6px,#ffd600 1234px,#f2e300 1258px)"></i>
<i style="background:linear-gradient(90deg,#0059ff 0.3px,#00c8ff 104.2px,#0ff 153.7px,#00ffce 194.2px,#00ff62 287.5px,#0f0 378.9px,#0aff00 389px,#6cff00 495.3px,#ceff00 613px,#ff0 678px,#fc0 742.9px,#f60 888.4px,#ff4b00 918px,#ff3200 947.5px,#ff1c00 977.1px,#ff0b00 1006.6px,#f00 1036.2px,#ff0b00 1056.8px,#ff1c00 1077.4px,#ff3200 1098px,#ff4b00 1118.7px,#f60 1139.3px,#fc0 1227.1px,#ffd600 1236.5px,#f4e200 1258px)"></i>
<i style="background:linear-gradient(90deg,#0059ff 0.3px,#00c8ff 104.7px,#0ff 154.3px,#00ffce 194.8px,#00ff62 288.2px,#0f0 379.6px,#0aff00 389.8px,#6cff00 496.1px,#ceff00 614px,#ff0 679.1px,#fc0 744.1px,#f60 889.9px,#ff4b00 919.5px,#ff3200 949.2px,#ff1c00 978.8px,#ff0b00 1008.5px,#f00 1038.1px,#ff0b00 1058.8px,#ff1c00 1079.5px,#ff3200 1100.1px,#ff4b00 1120.8px,#f60 1141.5px,#fc0 1229.6px,#ffd600 1239px,#f5e000 1258px)"></i>
<i style="background:linear-gradient(90deg,#0058ff 0.3px,#00c8ff 105.2px,#0ff 154.8px,#00ffce 195.4px,#00ff62 288.8px,#0f0 380.3px,#0aff00 390.5px,#6cff00 497px,#ceff00 615px,#ff0 680.1px,#fc0 745.3px,#f60 891.3px,#ff4b00 921.1px,#ff3200 950.8px,#ff1c00 980.6px,#ff0b00 1010.3px,#f00 1040.1px,#ff0b00 1060.8px,#ff1c00 1081.5px,#ff3200 1102.2px,#ff4b00 1123px,#f60 1143.7px,#fc0 1232px,#ffd600 1241.5px,#f6df00 1258px)"></i>
<i style="background:linear-gradient(90deg,#0057ff 0.3px,#00c8ff 105.8px,#0ff 155.4px,#00ffce 196px,#00ff62 289.5px,#0f0 381.1px,#0aff00 391.3px,#6cff00 497.9px,#ceff00 616px,#ff0 681.2px,#fc0 746.5px,#f60 892.7px,#ff4b00 922.6px,#ff3200 952.5px,#ff1c00 982.3px,#ff0b00 1012.2px,#f00 1042.1px,#ff0b00 1062.8px,#ff1c00 1083.6px,#ff3200 1104.4px,#ff4b00 1125.1px,#f60 1145.9px,#fc0 1234.5px,#ffd600 1244px,#f8de00 1258px)"></i>
<i style="background:linear-gradient(90deg,#0057ff 0.3px,#00c8ff 106.3px,#0ff 156px,#00ffce 196.6px,#00ff62 290.2px,#0f0 381.8px,#0aff00 392px,#6cff00 498.8px,#ceff00 617px,#ff0 682.3px,#fc0 747.6px,#f60 894.2px,#ff4b00 924.1px,#ff3200 954.1px,#ff1c00 984.1px,#ff0b00 1014.1px,#f00 1044.1px,#ff0b00 1064.9px,#ff1c00 1085.7px,#ff3200 1106.5px,#ff4b00 1127.3px,#f60 1148.1px,#fc0 1237px,#ffd600 1246.5px,#f9dc00 1258px)"></i>
<i style="background:linear-gradient(90deg,#0056ff 0.3px,#00c8ff 106.8px,#0ff 156.5px,#00ffce 197.2px,#00ff62 290.8px,#0f0 382.6px,#0aff00 392.8px,#6cff00 499.6px,#ceff00 618px,#ff0 683.4px,#fc0 748.8px,#f60 895.6px,#ff4b00 925.7px,#ff3200 955.8px,#ff1c00 985.9px,#ff0b00 1016px,#f00 1046.1px,#ff0b00 1066.9px,#ff1c00 1087.8px,#ff3200 1108.6px,#ff4b00 1129.5px,#f60 1150.3px,#fc0 1239.6px,#ffd600 1249.1px,#fadb00 1258px)"></i>
<i style="background:linear-gradient(90deg,#05f 0.3px,#00c8ff 107.4px,#0ff 157.1px,#00ffce 197.8px,#00ff62 291.5px,#0f0 383.3px,#0aff00 393.5px,#6cff00 500.5px,#ceff00 619px,#ff0 684.5px,#fc0 750px,#f60 897.1px,#ff4b00 927.3px,#ff3200 957.5px,#ff1c00 987.7px,#ff0b00 1017.9px,#f00 1048.1px,#ff0b00 1069px,#ff1c00 1089.9px,#ff3200 1110.8px,#ff4b00 1131.7px,#f60 1152.5px,#fc0 1242.1px,#ffd600 1251.7px,#fcd900 1258px)"></i>
<i style="background:linear-gradient(90deg,#05f 0.3px,#00c8ff 107.9px,#0ff 157.6px,#00ffce 198.4px,#00ff62 292.2px,#0f0 384.1px,#0aff00 394.3px,#6cff00 501.4px,#ceff00 620px,#ff0 685.6px,#fc0 751.2px,#f60 898.5px,#ff4b00 928.8px,#ff3200 959.2px,#ff1c00 989.5px,#ff0b00 1019.8px,#f00 1050.2px,#ff0b00 1071.1px,#ff1c00 1092px,#ff3200 1112.9px,#ff4b00 1133.9px,#f60 1154.8px,#fc0 1244.6px,#ffd600 1254.2px,#fdd800 1258px)"></i>
<i style="background:linear-gradient(90deg,#0054ff 0.3px,#00c8ff 108.4px,#0ff 158.2px,#00ffce 198.9px,#00ff62 292.9px,#0f0 384.8px,#0aff00 395px,#6cff00 502.3px,#ceff00 621px,#ff0 686.7px,#fc0 752.4px,#f60 900px,#ff4b00 930.4px,#ff3200 960.9px,#ff1c00 991.3px,#ff0b00 1021.8px,#f00 1052.2px,#ff0b00 1073.2px,#ff1c00 1094.2px,#ff3200 1115.1px,#ff4b00 1136.1px,#f60 1157px,#fc0 1247.2px,#ffd600 1256.8px,#fed700 1258px)"></i>
<i style="background:linear-gradient(90deg,#0053ff 0.3px,#00c8ff 109px,#0ff 158.8px,#00ffce 199.5px,#00ff62 293.5px,#0f0 385.6px,#0aff00 395.8px,#6cff00 503.1px,#ceff00 622.1px,#ff0 687.8px,#fc0 753.5px,#f60 901.4px,#ff4b00 932px,#ff3200 962.6px,#ff1c00 993.2px,#ff0b00 1023.7px,#f00 1054.3px,#ff0b00 1075.3px,#ff1c00 1096.3px,#ff3200 1117.3px,#ff4b00 1138.3px,#f60 1159.3px,#fc0 1249.7px,#ffd500 1258px)"></i>
<i style="background:linear-gradient(90deg,#0053ff 0.3px,#00c8ff 109.5px,#0ff 159.3px,#00ffce 200.1px,#00ff62 294.2px,#0f0 386.3px,#0aff00 396.6px,#6cff00 504px,#ceff00 623.1px,#ff0 688.9px,#fc0 754.7px,#f60 902.9px,#ff4b00 933.6px,#ff3200 964.3px,#ff1c00 995px,#ff0b00 1025.7px,#f00 1056.4px,#ff0b00 1077.5px,#ff1c00 1098.5px,#ff3200 1119.5px,#ff4b00 1140.5px,#f60 1161.5px,#fc0 1252.3px,#ffd200 1258px)"></i>
<i style="background:linear-gradient(90deg,#0052ff 0.3px,#00c8ff 110px,#0ff 159.9px,#00ffce 200.7px,#00ff62 294.9px,#0f0 387.1px,#0aff00 397.3px,#6cff00 504.9px,#ceff00 624.1px,#ff0 690px,#fc0 755.9px,#f60 904.3px,#ff4b00 935.2px,#ff3200 966px,#ff1c00 996.9px,#ff0b00 1027.7px,#f00 1058.5px,#ff0b00 1079.6px,#ff1c00 1100.7px,#ff3200 1121.7px,#ff4b00 1142.8px,#f60 1163.8px,#fc0 1254.9px,#ffcf00 1258px)"></i>
<i style="background:linear-gradient(90deg,#0051ff 0.3px,#00c8ff 110.6px,#0ff 160.5px,#00ffce 201.3px,#00ff62 295.5px,#0f0 387.8px,#0aff00 398.1px,#6cff00 505.8px,#ceff00 625.1px,#ff0 691.1px,#fc0 757.1px,#f60 905.8px,#ff4b00 936.8px,#ff3200 967.8px,#ff1c00 998.7px,#ff0b00 1029.7px,#f00 1060.7px,#ff0b00 1081.8px,#ff1c00 1102.8px,#ff3200 1123.9px,#ff4b00 1145px,#f60 1166.1px,#fc0 1257.5px,#fc0 1258px)"></i>
<i style="background:linear-gradient(90deg,#0051ff 0.3px,#00c8ff 111.1px,#0ff 161px,#00ffce 201.9px,#00ff62 296.2px,#0f0 388.6px,#0aff00 398.8px,#6cff00 506.7px,#ceff00 626.1px,#ff0 692.2px,#fc0 758.3px,#f60 907.3px,#ff4b00 938.4px,#ff3200 969.5px,#ff1c00 1000.6px,#ff0b00 1031.7px,#f00 1062.8px,#ff0b00 1083.9px,#ff1c00 1105.1px,#ff3200 1126.2px,#ff4b00 1147.3px,#f60 1168.4px,#ffc900 1258px)"></i>
<i style="background:linear-gradient(90deg,#0050ff 0.3px,#00c8ff 111.7px,#0ff 161.6px,#00ffce 202.5px,#00ff62 296.9px,#0f0 389.3px,#0aff00 399.6px,#6cff00 507.6px,#ceff00 627.1px,#ff0 693.3px,#fc0 759.5px,#f60 908.8px,#ff4b00 940px,#ff3200 971.3px,#ff1c00 1002.5px,#ff0b00 1033.7px,#f00 1065px,#ff0b00 1086.1px,#ff1c00 1107.3px,#ff3200 1128.4px,#ff4b00 1149.6px,#f60 1170.7px,#ffc700 1258px)"></i>
<i style="background:linear-gradient(90deg,#004fff 0.3px,#00c8ff 112.2px,#0ff 162.2px,#00ffce 203.1px,#00ff62 297.6px,#0f0 390.1px,#0aff00 400.4px,#6cff00 508.5px,#ceff00 628.2px,#ff0 694.5px,#fc0 760.7px,#f60 910.2px,#ff4b00 941.6px,#ff3200 973px,#ff1c00 1004.4px,#ff0b00 1035.8px,#f00 1067.2px,#ff0b00 1088.3px,#ff1c00 1109.5px,#ff3200 1130.7px,#ff4b00 1151.8px,#f60 1173px,#ffc400 1258px)"></i>
<i style="background:linear-gradient(90deg,#004fff 0.3px,#00c8ff 112.7px,#0ff 162.8px,#00ffce 203.7px,#00ff62 298.2px,#0f0 390.9px,#0aff00 401.1px,#6cff00 509.4px,#ceff00 629.2px,#ff0 695.6px,#fc0 761.9px,#f60 911.7px,#ff4b00 943.3px,#ff3200 974.8px,#ff1c00 1006.3px,#ff0b00 1037.8px,#f00 1069.4px,#ff0b00 1090.6px,#ff1c00 1111.8px,#ff3200 1132.9px,#ff4b00 1154.1px,#f60 1175.3px,#ffc100 1258px)"></i>
<i style="background:linear-gradient(90deg,#004eff 0.3px,#00c8ff 113.3px,#0ff 163.3px,#00ffce 204.3px,#00ff62 298.9px,#0f0 391.6px,#0aff00 401.9px,#6cff00 510.2px,#ceff00 630.2px,#ff0 696.7px,#fc0 763.1px,#f60 913.2px,#ff4b00 944.9px,#ff3200 976.6px,#ff1c00 1008.2px,#ff0b00 1039.9px,#f00 1071.6px,#ff0b00 1092.8px,#ff1c00 1114px,#ff3200 1135.2px,#ff4b00 1156.5px,#f60 1177.7px,#ffbe00 1258px)"></i>
<i style="background:linear-gradient(90deg,#004dff 0.3px,#00c8ff 113.8px,#0ff 163.9px,#00ffce 204.9px,#00ff62 299.6px,#0f0 392.4px,#0aff00 402.7px,#6cff00 511.1px,#ceff00 631.3px,#ff0 697.8px,#fc0 764.4px,#f60 914.7px,#ff4b00 946.5px,#ff3200 978.4px,#ff1c00 1010.2px,#ff0b00 1042px,#f00 1073.8px,#ff0b00 1095.1px,#ff1c00 1116.3px,#ff3200 1137.5px,#ff4b00 1158.8px,#f60 1180px,#ffbc00 1258px)"></i>
<i style="background:linear-gradient(90deg,#004cff 0.3px,#00c8ff 114.3px,#0ff 164.5px,#00ffce 205.5px,#00ff62 300.3px,#0f0 393.1px,#0aff00 403.4px,#6cff00 512px,#ceff00 632.3px,#ff0 698.9px,#fc0 765.6px,#f60 916.2px,#ff4b00 948.2px,#ff3200 980.2px,#ff1c00 1012.1px,#ff0b00 1044.1px,#f00 1076.1px,#ff0b00 1097.3px,#ff1c00 1118.6px,#ff3200 1139.8px,#ff4b00 1161.1px,#f60 1182.4px,#ffb900 1258px)"></i>
<i style="background:linear-gradient(90deg,#004cff 0.3px,#00c8ff 114.9px,#0ff 165px,#00ffce 206.1px,#00ff62 301px,#0f0 393.9px,#0aff00 404.2px,#6cff00 512.9px,#ceff00 633.3px,#ff0 700.1px,#fc0 766.8px,#f60 917.7px,#ff4b00 949.9px,#ff3200 982px,#ff1c00 1014.1px,#ff0b00 1046.2px,#f00 1078.3px,#ff0b00 1099.6px,#ff1c00 1120.9px,#ff3200 1142.2px,#ff4b00 1163.4px,#f60 1184.7px,#ffb600 1258px)"></i>
<i style="background:linear-gradient(90deg,#004bff 0.3px,#00c8ff 115.4px,#0ff 165.6px,#00ffce 206.7px,#00ff62 301.6px,#0f0 394.7px,#0aff00 405px,#6cff00 513.8px,#ceff00 634.4px,#ff0 701.2px,#fc0 768px,#f60 919.2px,#ff4b00 951.5px,#ff3200 983.8px,#ff1c00 1016.1px,#ff0b00 1048.3px,#f00 1080.6px,#ff0b00 1101.9px,#ff1c00 1123.2px,#ff3200 1144.5px,#ff4b00 1165.8px,#f60 1187.1px,#ffb300 1258px)"></i>
<i style="background:linear-gradient(90deg,#004aff 0.3px,#00c8ff 116px,#0ff 166.2px,#00ffce 207.3px,#00ff62 302.3px,#0f0 395.4px,#0aff00 405.8px,#6cff00 514.7px,#ceff00 635.4px,#ff0 702.3px,#fc0 769.2px,#f60 920.8px,#ff4b00 953.2px,#ff3200 985.6px,#ff1c00 1018.1px,#ff0b00 1050.5px,#f00 1082.9px,#ff0b00 1104.2px,#ff1c00 1125.5px,#ff3200 1146.8px,#ff4b00 1168.2px,#f60 1189.5px,#ffb000 1258px)"></i>
<i style="background:linear-gradient(90deg,#004aff 0.3px,#00c8ff 116.5px,#0ff 166.8px,#00ffce 207.9px,#00ff62 303px,#0f0 396.2px,#0aff00 406.5px,#6cff00 515.6px,#ceff00 636.4px,#ff0 703.4px,#fc0 770.5px,#f60 922.3px,#ff4b00 954.9px,#ff3200 987.5px,#ff1c00 1020.1px,#ff0b00 1052.6px,#f00 1085.2px,#ff0b00 1106.6px,#ff1c00 1127.9px,#ff3200 1149.2px,#ff4b00 1170.5px,#f60 1191.9px,#ffae00 1258px)"></i>
<i style="background:linear-gradient(90deg,#0049ff 0.3px,#00c8ff 117.1px,#0ff 167.3px,#00ffce 208.5px,#00ff62 303.7px,#0f0 397px,#0aff00 407.3px,#6cff00 516.5px,#ceff00 637.5px,#ff0 704.6px,#fc0 771.7px,#f60 923.8px,#ff4b00 956.6px,#ff3200 989.3px,#ff1c00 1022.1px,#ff0b00 1054.8px,#f00 1087.6px,#ff0b00 1108.9px,#ff1c00 1130.2px,#ff3200 1151.6px,#ff4b00 1172.9px,#f60 1194.3px,#ffab00 1258px)"></i>
<i style="background:linear-gradient(90deg,#0048ff 0.3px,#00c8ff 117.6px,#0ff 167.9px,#00ffce 209.1px,#00ff62 304.4px,#0f0 397.7px,#0aff00 408.1px,#6cff00 517.4px,#ceff00 638.5px,#ff0 705.7px,#fc0 772.9px,#f60 925.3px,#ff4b00 958.3px,#ff3200 991.2px,#ff1c00 1024.1px,#ff0b00 1057px,#f00 1089.9px,#ff0b00 1111.3px,#ff1c00 1132.6px,#ff3200 1154px,#ff4b00 1175.3px,#f60 1196.7px,#ffa800 1258px)"></i>
<i style="background:linear-gradient(90deg,#0048ff 0.3px,#00c8ff 118.1px,#0ff 168.5px,#00ffce 209.7px,#00ff62 305.1px,#0f0 398.5px,#0aff00 408.9px,#6cff00 518.4px,#ceff00 639.6px,#ff0 706.9px,#fc0 774.1px,#f60 926.9px,#ff4b00 960px,#ff3200 993px,#ff1c00 1026.1px,#ff0b00 1059.2px,#f00 1092.3px,#ff0b00 1113.7px,#ff1c00 1135px,#ff3200 1156.4px,#ff4b00 1177.7px,#f60 1199.1px,#ffa500 1258px)"></i>
<i style="background:linear-gradient(90deg,#0047ff 0.3px,#00c8ff 118.7px,#0ff 169.1px,#00ffce 210.3px,#00ff62 305.7px,#0f0 399.3px,#0aff00 409.6px,#6cff00 519.3px,#ceff00 640.6px,#ff0 708px,#fc0 775.4px,#f60 928.4px,#ff4b00 961.7px,#ff3200 994.9px,#ff1c00 1028.2px,#ff0b00 1061.4px,#f00 1094.7px,#ff0b00 1116.1px,#ff1c00 1137.4px,#ff3200 1158.8px,#ff4b00 1180.1px,#f60 1201.5px,#ffa300 1258px)"></i>
<i style="background:linear-gradient(90deg,#0046ff 0.3px,#00c8ff 119.2px,#0ff 169.6px,#00ffce 210.9px,#00ff62 306.4px,#0f0 400px,#0aff00 410.4px,#6cff00 520.2px,#ceff00 641.7px,#ff0 709.1px,#fc0 776.6px,#f60 930px,#ff4b00 963.4px,#ff3200 996.8px,#ff1c00 1030.3px,#ff0b00 1063.7px,#f00 1097.1px,#ff0b00 1118.5px,#ff1c00 1139.8px,#ff3200 1161.2px,#ff4b00 1182.6px,#f60 1203.9px,#ffa000 1258px)"></i>
<i style="background:linear-gradient(90deg,#0046ff 0.3px,#00c8ff 119.8px,#0ff 170.2px,#00ffce 211.5px,#00ff62 307.1px,#0f0 400.8px,#0aff00 411.2px,#6cff00 521.1px,#ceff00 642.7px,#ff0 710.3px,#fc0 777.9px,#f60 931.5px,#ff4b00 965.1px,#ff3200 998.7px,#ff1c00 1032.3px,#ff0b00 1065.9px,#f00 1099.6px,#ff0b00 1120.9px,#ff1c00 1142.3px,#ff3200 1163.7px,#ff4b00 1185px,#f60 1206.4px,#ff9d00 1258px)"></i>
<i style="background:linear-gradient(90deg,#0045ff 0.3px,#00c8ff 120.3px,#0ff 170.8px,#00ffce 212.1px,#00ff62 307.8px,#0f0 401.6px,#0aff00 412px,#6cff00 522px,#ceff00 643.8px,#ff0 711.4px,#fc0 779.1px,#f60 933.1px,#ff4b00 966.8px,#ff3200 1000.6px,#ff1c00 1034.4px,#ff0b00 1068.2px,#f00 1102px,#ff0b00 1123.4px,#ff1c00 1144.7px,#ff3200 1166.1px,#ff4b00 1187.5px,#f60 1208.8px,#ff9a00 1258px)"></i>
<i style="background:linear-gradient(90deg,#04f 0.3px,#00c8ff 120.9px,#0ff 171.4px,#00ffce 212.7px,#00ff62 308.5px,#0f0 402.3px,#0aff00 412.8px,#6cff00 522.9px,#ceff00 644.8px,#ff0 712.6px,#fc0 780.4px,#f60 934.6px,#ff4b00 968.6px,#ff3200 1002.6px,#ff1c00 1036.5px,#ff0b00 1070.5px,#f00 1104.5px,#ff0b00 1125.8px,#ff1c00 1147.2px,#ff3200 1168.6px,#ff4b00 1189.9px,#f60 1211.3px,#ff9700 1258px)"></i>
<i style="background:linear-gradient(90deg,#04f 0.3px,#00c8ff 121.4px,#0ff 172px,#00ffce 213.3px,#00ff62 309.2px,#0f0 403.1px,#0aff00 413.6px,#6cff00 523.8px,#ceff00 645.9px,#ff0 713.8px,#fc0 781.6px,#f60 936.2px,#ff4b00 970.3px,#ff3200 1004.5px,#ff1c00 1038.6px,#ff0b00 1072.8px,#f00 1107px,#ff0b00 1128.3px,#ff1c00 1149.7px,#ff3200 1171.1px,#ff4b00 1192.4px,#f60 1213.8px,#ff9500 1258px)"></i>
<i style="background:linear-gradient(90deg,#0043ff 0.3px,#00c8ff 122px,#0ff 172.5px,#00ffce 213.9px,#00ff62 309.9px,#0f0 403.9px,#0aff00 414.3px,#6cff00 524.7px,#ceff00 647px,#ff0 714.9px,#fc0 782.9px,#f60 937.8px,#ff4b00 972.1px,#ff3200 1006.4px,#ff1c00 1040.8px,#ff0b00 1075.1px,#f00 1109.5px,#ff0b00 1130.8px,#ff1c00 1152.2px,#ff3200 1173.6px,#ff4b00 1194.9px,#f60 1216.3px,#ff9200 1258px)"></i>
<i style="background:linear-gradient(90deg,#0042ff 0.3px,#00c8ff 122.5px,#0ff 173.1px,#00ffce 214.5px,#00ff62 310.6px,#0f0 404.7px,#0aff00 415.1px,#6cff00 525.7px,#ceff00 648px,#ff0 716.1px,#fc0 784.1px,#f60 939.3px,#ff4b00 973.9px,#ff3200 1008.4px,#ff1c00 1042.9px,#ff0b00 1077.5px,#f00 1112px,#ff0b00 1133.4px,#ff1c00 1154.7px,#ff3200 1176.1px,#ff4b00 1197.4px,#f60 1218.8px,#ff8f00 1258px)"></i>
<i style="background:linear-gradient(90deg,#0042ff 0.3px,#00c8ff 123.1px,#0ff 173.7px,#00ffce 215.1px,#00ff62 311.3px,#0f0 405.4px,#0aff00 415.9px,#6cff00 526.6px,#ceff00 649.1px,#ff0 717.2px,#fc0 785.4px,#f60 940.9px,#ff4b00 975.6px,#ff3200 1010.4px,#ff1c00 1045.1px,#ff0b00 1079.8px,#f00 1114.5px,#ff0b00 1135.9px,#ff1c00 1157.2px,#ff3200 1178.6px,#ff4b00 1199.9px,#f60 1221.3px,#ff8c00 1258px)"></i>
<i style="background:linear-gradient(90deg,#0041ff 0.3px,#00c8ff 123.6px,#0ff 174.3px,#00ffce 215.7px,#00ff62 311.9px,#0f0 406.2px,#0aff00 416.7px,#6cff00 527.5px,#ceff00 650.2px,#ff0 718.4px,#fc0 786.6px,#f60 942.5px,#ff4b00 977.4px,#ff3200 1012.3px,#ff1c00 1047.3px,#ff0b00 1082.2px,#f00 1117.1px,#ff0b00 1138.4px,#ff1c00 1159.8px,#ff3200 1181.1px,#ff4b00 1202.5px,#f60 1223.8px,#ff8a00 1258px)"></i>
<i style="background:linear-gradient(90deg,#0040ff 0.3px,#00c8ff 124.2px,#0ff 174.9px,#00ffce 216.3px,#00ff62 312.6px,#0f0 407px,#0aff00 417.5px,#6cff00 528.4px,#ceff00 651.2px,#ff0 719.6px,#fc0 787.9px,#f60 944.1px,#ff4b00 979.2px,#ff3200 1014.3px,#ff1c00 1049.5px,#ff0b00 1084.6px,#f00 1119.7px,#ff0b00 1141px,#ff1c00 1162.3px,#ff3200 1183.7px,#ff4b00 1205px,#f60 1226.3px,#ff8700 1258px)"></i>
<i style="background:linear-gradient(90deg,#0040ff 0.3px,#00c8ff 124.7px,#0ff 175.5px,#00ffce 217px,#00ff62 313.3px,#0f0 407.8px,#0aff00 418.3px,#6cff00 529.4px,#ceff00 652.3px,#ff0 720.7px,#fc0 789.2px,#f60 945.7px,#ff4b00 981px,#ff3200 1016.3px,#ff1c00 1051.7px,#ff0b00 1087px,#f00 1122.3px,#ff0b00 1143.6px,#ff1c00 1164.9px,#ff3200 1186.2px,#ff4b00 1207.6px,#f60 1228.9px,#ff8400 1258px)"></i>
<i style="background:linear-gradient(90deg,#003fff 0.3px,#00c8ff 125.3px,#0ff 176px,#00ffce 217.6px,#00ff62 314px,#0f0 408.6px,#0aff00 419.1px,#6cff00 530.3px,#ceff00 653.4px,#ff0 721.9px,#fc0 790.4px,#f60 947.3px,#ff4b00 982.8px,#ff3200 1018.3px,#ff1c00 1053.9px,#ff0b00 1089.4px,#f00 1124.9px,#ff0b00 1146.2px,#ff1c00 1167.5px,#ff3200 1188.8px,#ff4b00 1210.1px,#f60 1231.4px,#ff8100 1258px)"></i>
<i style="background:linear-gradient(90deg,#003eff 0.3px,#00c8ff 125.8px,#0ff 176.6px,#00ffce 218.2px,#00ff62 314.7px,#0f0 409.4px,#0aff00 419.9px,#6cff00 531.2px,#ceff00 654.5px,#ff0 723.1px,#fc0 791.7px,#f60 948.9px,#ff4b00 984.6px,#ff3200 1020.4px,#ff1c00 1056.1px,#ff0b00 1091.8px,#f00 1127.6px,#ff0b00 1148.9px,#ff1c00 1170.1px,#ff3200 1191.4px,#ff4b00 1212.7px,#f60 1234px,#ff7e00 1258px)"></i>
<i style="background:linear-gradient(90deg,#003dff 0.3px,#00c8ff 126.4px,#0ff 177.2px,#00ffce 218.8px,#00ff62 315.4px,#0f0 410.1px,#0aff00 420.7px,#6cff00 532.1px,#ceff00 655.5px,#ff0 724.3px,#fc0 793px,#f60 950.5px,#ff4b00 986.5px,#ff3200 1022.4px,#ff1c00 1058.4px,#ff0b00 1094.3px,#f00 1130.2px,#ff0b00 1151.5px,#ff1c00 1172.8px,#ff3200 1194px,#ff4b00 1215.3px,#f60 1236.5px,#ff7c00 1258px)"></i>
<i style="background:linear-gradient(90deg,#003dff 0.3px,#00c8ff 126.9px,#0ff 177.8px,#00ffce 219.4px,#00ff62 316.1px,#0f0 410.9px,#0aff00 421.5px,#6cff00 533.1px,#ceff00 656.6px,#ff0 725.4px,#fc0 794.3px,#f60 952.1px,#ff4b00 988.3px,#ff3200 1024.5px,#ff1c00 1060.6px,#ff0b00 1096.8px,#f00 1132.9px,#ff0b00 1154.2px,#ff1c00 1175.4px,#ff3200 1196.6px,#ff4b00 1217.9px,#f60 1239.1px,#ff7900 1258px)"></i>
<i style="background:linear-gradient(90deg,#003cff 0.3px,#00c8ff 127.5px,#0ff 178.4px,#00ffce 220px,#00ff62 316.8px,#0f0 411.7px,#0aff00 422.3px,#6cff00 534px,#ceff00 657.7px,#ff0 726.6px,#fc0 795.5px,#f60 953.8px,#ff4b00 990.1px,#ff3200 1026.5px,#ff1c00 1062.9px,#ff0b00 1099.3px,#f00 1135.6px,#ff0b00 1156.9px,#ff1c00 1178.1px,#ff3200 1199.3px,#ff4b00 1220.5px,#f60 1241.7px,#ff7600 1258px)"></i>
<i style="background:linear-gradient(90deg,#003bff 0.3px,#00c8ff 128px,#0ff 179px,#00ffce 220.6px,#00ff62 317.5px,#0f0 412.5px,#0aff00 423.1px,#6cff00 534.9px,#ceff00 658.8px,#ff0 727.8px,#fc0 796.8px,#f60 955.4px,#ff4b00 992px,#ff3200 1028.6px,#ff1c00 1065.2px,#ff0b00 1101.8px,#f00 1138.4px,#ff0b00 1159.6px,#ff1c00 1180.7px,#ff3200 1201.9px,#ff4b00 1223.1px,#f60 1244.3px,#ff7300 1258px)"></i>
<i style="background:linear-gradient(90deg,#003bff 0.3px,#00c8ff 128.6px,#0ff 179.6px,#00ffce 221.3px,#00ff62 318.2px,#0f0 413.3px,#0aff00 423.9px,#6cff00 535.9px,#ceff00 659.9px,#ff0 729px,#fc0 798.1px,#f60 957px,#ff4b00 993.8px,#ff3200 1030.7px,#ff1c00 1067.5px,#ff0b00 1104.3px,#f00 1141.1px,#ff0b00 1162.3px,#ff1c00 1183.4px,#ff3200 1204.6px,#ff4b00 1225.8px,#f60 1246.9px,#ff7100 1258px)"></i>
<i style="background:linear-gradient(90deg,#003aff 0.3px,#00c8ff 129.2px,#0ff 180.2px,#00ffce 221.9px,#00ff62 318.9px,#0f0 414.1px,#0aff00 424.7px,#6cff00 536.8px,#ceff00 661px,#ff0 730.2px,#fc0 799.4px,#f60 958.7px,#ff4b00 995.7px,#ff3200 1032.8px,#ff1c00 1069.8px,#ff0b00 1106.9px,#f00 1143.9px,#ff0b00 1165px,#ff1c00 1186.2px,#ff3200 1207.3px,#ff4b00 1228.4px,#f60 1249.5px,#ff6e00 1258px)"></i>
<i style="background:linear-gradient(90deg,#0039ff 0.3px,#00c8ff 129.7px,#0ff 180.7px,#00ffce 222.5px,#00ff62 319.6px,#0f0 414.9px,#0aff00 425.5px,#6cff00 537.8px,#ceff00 662.1px,#ff0 731.4px,#fc0 800.7px,#f60 960.3px,#ff4b00 997.6px,#ff3200 1034.9px,#ff1c00 1072.1px,#ff0b00 1109.4px,#f00 1146.7px,#ff0b00 1167.8px,#ff1c00 1188.9px,#ff3200 1210px,#ff4b00 1231.1px,#f60 1252.2px,#ff6b00 1258px)"></i>
<i style="background:linear-gradient(90deg,#0039ff 0.3px,#00c8ff 130.3px,#0ff 181.3px,#00ffce 223.1px,#00ff62 320.3px,#0f0 415.7px,#0aff00 426.3px,#6cff00 538.7px,#ceff00 663.2px,#ff0 732.6px,#fc0 802px,#f60 962px,#ff4b00 999.5px,#ff3200 1037px,#ff1c00 1074.5px,#ff0b00 1112px,#f00 1149.5px,#ff0b00 1170.6px,#ff1c00 1191.6px,#ff3200 1212.7px,#ff4b00 1233.7px,#f60 1254.8px,#ff6800 1258px)"></i>
<i style="background:linear-gradient(90deg,#0038ff 0.3px,#00c8ff 130.8px,#0ff 181.9px,#00ffce 223.7px,#00ff62 321px,#0f0 416.5px,#0aff00 427.1px,#6cff00 539.6px,#ceff00 664.3px,#ff0 733.8px,#fc0 803.3px,#f60 963.6px,#ff4b00 1001.4px,#ff3200 1039.1px,#ff1c00 1076.9px,#ff0b00 1114.6px,#f00 1152.3px,#ff0b00 1173.4px,#ff1c00 1194.4px,#ff3200 1215.4px,#ff4b00 1236.4px,#f60 1257.5px,#f60 1257.6px,#f60 1257.7px,#ff6500 1257.8px,#ff6500 1258px)"></i>
<i style="background:linear-gradient(90deg,#0037ff 0.3px,#00c8ff 131.4px,#0ff 182.5px,#00ffce 224.3px,#00ff62 321.7px,#0f0 417.3px,#0aff00 427.9px,#6cff00 540.6px,#ceff00 665.4px,#ff0 735px,#fc0 804.6px,#f60 965.3px,#ff4b00 1003.3px,#ff3200 1041.3px,#ff1c00 1079.2px,#ff0b00 1117.2px,#f00 1155.2px,#ff0a00 1175.8px,#ff1b00 1196.4px,#ff2f00 1216.9px,#ff4700 1237.5px,#ff6100 1258px)"></i>
<i style="background:linear-gradient(90deg,#0037ff 0.3px,#00c8ff 131.9px,#0ff 183.1px,#00ffce 225px,#00ff62 322.4px,#0f0 418.1px,#0aff00 428.7px,#6cff00 541.5px,#ceff00 666.5px,#ff0 736.2px,#fc0 805.9px,#f60 967px,#ff4b00 1005.2px,#ff3200 1043.4px,#ff1c00 1081.6px,#ff0b00 1119.9px,#f00 1158.1px,#ff0a00 1178.1px,#ff1a00 1198.1px,#ff2d00 1218.1px,#f40 1238.1px,#ff5d00 1258px)"></i>
<i style="background:linear-gradient(90deg,#0036ff 0.3px,#00c8ff 132.5px,#0ff 183.7px,#00ffce 225.6px,#00ff62 323.2px,#0f0 418.9px,#0aff00 429.5px,#6cff00 542.5px,#ceff00 667.6px,#ff0 737.4px,#fc0 807.2px,#f60 968.6px,#ff4b00 1007.1px,#ff3200 1045.6px,#ff1c00 1084.1px,#ff0b00 1122.5px,#f00 1161px,#ff0900 1180.4px,#ff1900 1199.8px,#ff2b00 1219.3px,#ff4100 1238.7px,#ff5900 1258px)"></i>
<i style="background:linear-gradient(90deg,#0035ff 0.3px,#00c8ff 133.1px,#0ff 184.3px,#00ffce 226.2px,#00ff62 323.9px,#0f0 419.6px,#0aff00 430.3px,#6cff00 543.4px,#ceff00 668.7px,#ff0 738.6px,#fc0 808.5px,#f60 970.3px,#ff4b00 1009px,#ff3200 1047.8px,#ff1c00 1086.5px,#ff0b00 1125.2px,#f00 1163.9px,#ff0900 1182.7px,#ff1800 1201.6px,#ff2a00 1220.4px,#ff3e00 1239.3px,#f50 1258px)"></i>
<i style="background:linear-gradient(90deg,#0035ff 0.3px,#00c8ff 133.6px,#0ff 184.9px,#00ffce 226.8px,#00ff62 324.6px,#0f0 420.4px,#0aff00 431.1px,#6cff00 544.4px,#ceff00 669.8px,#ff0 739.8px,#fc0 809.9px,#f60 972px,#ff4b00 1011px,#ff3200 1050px,#ff1c00 1088.9px,#ff0b00 1127.9px,#f00 1166.9px,#ff0800 1185.1px,#ff1600 1203.4px,#ff2800 1221.6px,#ff3b00 1239.9px,#ff5100 1258px)"></i>
<i style="background:linear-gradient(90deg,#0034ff 0.3px,#00c8ff 134.2px,#0ff 185.5px,#00ffce 227.5px,#00ff62 325.3px,#0f0 421.3px,#0aff00 431.9px,#6cff00 545.3px,#ceff00 670.9px,#ff0 741px,#fc0 811.2px,#f60 973.7px,#ff4b00 1012.9px,#ff3200 1052.2px,#ff1c00 1091.4px,#ff0b00 1130.6px,#f00 1169.8px,#ff0800 1187.5px,#ff1500 1205.1px,#ff2600 1222.8px,#ff3800 1240.4px,#ff4d00 1258px)"></i>
<i style="background:linear-gradient(90deg,#03f 0.3px,#00c8ff 134.8px,#0ff 186.1px,#00ffce 228.1px,#00ff62 326px,#0f0 422.1px,#0aff00 432.7px,#6cff00 546.3px,#ceff00 672px,#ff0 742.3px,#fc0 812.5px,#f60 975.4px,#ff4b00 1014.9px,#ff3200 1054.4px,#ff1c00 1093.9px,#ff0b00 1133.3px,#f00 1172.8px,#ff0800 1189.9px,#ff1400 1206.9px,#ff2400 1224px,#ff3600 1241px,#ff4900 1258px)"></i>
<i style="background:linear-gradient(90deg,#03f 0.3px,#00c8ff 135.3px,#0ff 186.7px,#00ffce 228.7px,#00ff62 326.7px,#0f0 422.9px,#0aff00 433.5px,#6cff00 547.2px,#ceff00 673.1px,#ff0 743.5px,#fc0 813.8px,#f60 977.1px,#ff4b00 1016.9px,#ff3200 1056.6px,#ff1c00 1096.4px,#ff0b00 1136.1px,#f00 1175.8px,#ff0700 1192.3px,#ff1300 1208.7px,#f20 1225.2px,#f30 1241.6px,#ff4500 1258px)"></i>
<i style="background:linear-gradient(90deg,#0032ff 0.3px,#00c8ff 135.9px,#0ff 187.3px,#00ffce 229.3px,#00ff62 327.4px,#0f0 423.7px,#0aff00 434.4px,#6cff00 548.2px,#ceff00 674.2px,#ff0 744.7px,#fc0 815.2px,#f60 978.9px,#ff4b00 1018.9px,#ff3200 1058.9px,#ff1c00 1098.9px,#ff0b00 1138.9px,#f00 1178.9px,#ff0700 1194.7px,#ff1200 1210.6px,#ff2000 1226.4px,#ff3000 1242.3px,#ff4200 1258px)"></i>
<i style="background:linear-gradient(90deg,#0031ff 0.3px,#00c8ff 136.4px,#0ff 187.9px,#00ffce 230px,#00ff62 328.1px,#0f0 424.5px,#0aff00 435.2px,#6cff00 549.2px,#ceff00 675.4px,#ff0 745.9px,#fc0 816.5px,#f60 980.6px,#ff4b00 1020.9px,#ff3200 1061.1px,#ff1c00 1101.4px,#ff0b00 1141.7px,#f00 1181.9px,#ff0700 1197.2px,#f10 1212.4px,#ff1e00 1227.6px,#ff2d00 1242.9px,#ff3e00 1258px)"></i>
<i style="background:linear-gradient(90deg,#0030ff 0.3px,#00c8ff 137px,#0ff 188.5px,#00ffce 230.6px,#00ff62 328.8px,#0f0 425.3px,#0aff00 436px,#6cff00 550.1px,#ceff00 676.5px,#ff0 747.2px,#fc0 817.8px,#f60 982.3px,#ff4b00 1022.9px,#ff3200 1063.4px,#ff1c00 1103.9px,#ff0b00 1144.5px,#f00 1185px,#ff0600 1199.6px,#ff1000 1214.2px,#ff1d00 1228.9px,#ff2b00 1243.5px,#ff3a00 1258px)"></i>
<i style="background:linear-gradient(90deg,#0030ff 0.3px,#00c8ff 137.6px,#0ff 189.1px,#00ffce 231.2px,#00ff62 329.6px,#0f0 426.1px,#0aff00 436.8px,#6cff00 551.1px,#ceff00 677.6px,#ff0 748.4px,#fc0 819.2px,#f60 984.1px,#ff4b00 1024.9px,#ff3200 1065.7px,#ff1c00 1106.5px,#ff0b00 1147.3px,#f00 1188.1px,#ff0600 1202.1px,#ff0f00 1216.1px,#ff1b00 1230.1px,#ff2800 1244.1px,#ff3700 1258px)"></i>
<i style="background:linear-gradient(90deg,#002fff 0.3px,#00c8ff 138.1px,#0ff 189.7px,#00ffce 231.9px,#00ff62 330.3px,#0f0 426.9px,#0aff00 437.6px,#6cff00 552px,#ceff00 678.7px,#ff0 749.6px,#fc0 820.5px,#f60 985.8px,#ff4b00 1026.9px,#ff3200 1068px,#ff1c00 1109.1px,#ff0b00 1150.2px,#f00 1191.3px,#ff0500 1204.6px,#ff0e00 1218px,#ff1900 1231.4px,#ff2600 1244.7px,#f30 1258px)"></i>
<i style="background:linear-gradient(90deg,#002eff 0.3px,#00c8ff 138.7px,#0ff 190.3px,#00ffce 232.5px,#00ff62 331px,#0f0 427.7px,#0aff00 438.4px,#6cff00 553px,#ceff00 679.9px,#ff0 750.9px,#fc0 821.9px,#f60 987.6px,#ff4b00 1028.9px,#ff3200 1070.3px,#ff1c00 1111.7px,#ff0b00 1153px,#f00 1194.4px,#ff0500 1207.1px,#ff0d00 1219.9px,#ff1700 1232.6px,#ff2300 1245.4px,#ff3000 1258px)"></i>
<i style="background:linear-gradient(90deg,#002dff 0.3px,#00c8ff 139.3px,#0ff 190.9px,#00ffce 233.1px,#00ff62 331.7px,#0f0 428.5px,#0aff00 439.3px,#6cff00 554px,#ceff00 681px,#ff0 752.1px,#fc0 823.2px,#f60 989.3px,#ff4b00 1031px,#ff3200 1072.6px,#ff1c00 1114.3px,#ff0b00 1155.9px,#f00 1197.6px,#ff0500 1209.7px,#ff0c00 1221.8px,#ff1600 1233.9px,#ff2100 1246px,#ff2d00 1258px)"></i>
<i style="background:linear-gradient(90deg,#002dff 0.3px,#00c8ff 139.8px,#0ff 191.5px,#00ffce 233.8px,#00ff62 332.4px,#0f0 429.3px,#0aff00 440.1px,#6cff00 554.9px,#ceff00 682.1px,#ff0 753.4px,#fc0 824.6px,#f60 991.1px,#ff4b00 1033px,#ff3200 1075px,#ff1c00 1116.9px,#ff0b00 1158.8px,#f00 1200.8px,#ff0400 1212.2px,#ff0b00 1223.7px,#ff1400 1235.2px,#ff1e00 1246.6px,#ff2900 1258px)"></i>
<i style="background:linear-gradient(90deg,#002cff 0.3px,#00c8ff 140.4px,#0ff 192.1px,#00ffce 234.4px,#00ff62 333.2px,#0f0 430.1px,#0aff00 440.9px,#6cff00 555.9px,#ceff00 683.3px,#ff0 754.6px,#fc0 826px,#f60 992.8px,#ff4b00 1035.1px,#ff3200 1077.3px,#ff1c00 1119.5px,#ff0b00 1161.8px,#f00 1204px,#ff0400 1214.8px,#ff0b00 1225.6px,#ff1300 1236.5px,#ff1c00 1247.3px,#ff2600 1258px)"></i>
<i style="background:linear-gradient(90deg,#002bff 0.3px,#00c8ff 141px,#0ff 192.7px,#00ffce 235px,#00ff62 333.9px,#0f0 431px,#0aff00 441.7px,#6cff00 556.9px,#ceff00 684.4px,#ff0 755.9px,#fc0 827.3px,#f60 994.6px,#ff4b00 1037.2px,#ff3200 1079.7px,#ff1c00 1122.2px,#ff0b00 1164.7px,#f00 1207.3px,#ff0400 1217.4px,#ff0a00 1227.6px,#f10 1237.8px,#ff1a00 1247.9px,#ff2300 1258px)"></i>
<i style="background:linear-gradient(90deg,#002bff 0.3px,#00c8ff 141.5px,#0ff 193.3px,#00ffce 235.7px,#00ff62 334.6px,#0f0 431.8px,#0aff00 442.6px,#6cff00 557.9px,#ceff00 685.6px,#ff0 757.1px,#fc0 828.7px,#f60 996.4px,#ff4b00 1039.2px,#ff3200 1082.1px,#ff1c00 1124.9px,#ff0b00 1167.7px,#f00 1210.5px,#ff0300 1220px,#ff0900 1229.6px,#ff1000 1239.1px,#ff1700 1248.6px,#ff2000 1258px)"></i>
<i style="background:linear-gradient(90deg,#002aff 0.3px,#00c8ff 142.1px,#0ff 193.9px,#00ffce 236.3px,#00ff62 335.3px,#0f0 432.6px,#0aff00 443.4px,#6cff00 558.8px,#ceff00 686.7px,#ff0 758.4px,#fc0 830.1px,#f60 998.2px,#ff4b00 1041.3px,#ff3200 1084.5px,#ff1c00 1127.6px,#ff0b00 1170.7px,#f00 1213.8px,#ff0300 1222.7px,#ff0800 1231.5px,#ff0e00 1240.4px,#ff1500 1249.2px,#ff1d00 1258px)"></i>
<i style="background:linear-gradient(90deg,#0029ff 0.3px,#00c8ff 142.7px,#0ff 194.5px,#00ffce 236.9px,#00ff62 336px,#0f0 433.4px,#0aff00 444.2px,#6cff00 559.8px,#ceff00 687.9px,#ff0 759.7px,#fc0 831.4px,#f60 1000px,#ff4b00 1043.4px,#ff3200 1086.9px,#ff1c00 1130.3px,#ff0b00 1173.7px,#f00 1217.2px,#ff0300 1225.3px,#ff0700 1233.5px,#ff0d00 1241.7px,#ff1300 1249.9px,#ff1a00 1258px)"></i>
<i style="background:linear-gradient(90deg,#0028ff 0.3px,#00c8ff 143.3px,#0ff 195.1px,#00ffce 237.6px,#00ff62 336.8px,#0f0 434.2px,#0aff00 445.1px,#6cff00 560.8px,#ceff00 689px,#ff0 760.9px,#fc0 832.8px,#f60 1001.8px,#ff4b00 1045.6px,#ff3200 1089.3px,#ff1c00 1133px,#ff0b00 1176.8px,#f00 1220.5px,#ff0200 1228px,#ff0600 1235.5px,#ff0b00 1243.1px,#f10 1250.6px,#ff1700 1258px)"></i>
<i style="background:linear-gradient(90deg,#0028ff 0.3px,#00c8ff 143.8px,#0ff 195.7px,#00ffce 238.2px,#00ff62 337.5px,#0f0 435px,#0aff00 445.9px,#6cff00 561.8px,#ceff00 690.2px,#ff0 762.2px,#fc0 834.2px,#f60 1003.6px,#ff4b00 1047.7px,#ff3200 1091.7px,#ff1c00 1135.8px,#ff0b00 1179.8px,#f00 1223.9px,#ff0200 1230.7px,#ff0600 1237.6px,#ff0a00 1244.4px,#ff0f00 1251.3px,#ff1500 1258px)"></i>
<i style="background:linear-gradient(90deg,#0027ff 0.3px,#00c8ff 144.4px,#0ff 196.3px,#00ffce 238.8px,#00ff62 338.2px,#0f0 435.9px,#0aff00 446.7px,#6cff00 562.8px,#ceff00 691.3px,#ff0 763.5px,#fc0 835.6px,#f60 1005.5px,#ff4b00 1049.8px,#ff3200 1094.2px,#ff1c00 1138.5px,#ff0b00 1182.9px,#f00 1227.3px,#ff0200 1233.4px,#ff0500 1239.6px,#ff0900 1245.8px,#ff0d00 1251.9px,#ff1200 1258px)"></i>
<i style="background:linear-gradient(90deg,#0026ff 0.3px,#00c8ff 145px,#0ff 197px,#00ffce 239.5px,#00ff62 338.9px,#0f0 436.7px,#0aff00 447.6px,#6cff00 563.7px,#ceff00 692.5px,#ff0 764.7px,#fc0 837px,#f60 1007.3px,#ff4b00 1052px,#ff3200 1096.7px,#ff1c00 1141.3px,#ff0b00 1186px,#f00 1230.7px,#ff0200 1236.2px,#ff0400 1241.7px,#ff0800 1247.1px,#ff0b00 1252.6px,#ff0f00 1258px)"></i>
<i style="background:linear-gradient(90deg,#0025ff 0.3px,#00c8ff 145.6px,#0ff 197.6px,#00ffce 240.1px,#00ff62 339.7px,#0f0 437.5px,#0aff00 448.4px,#6cff00 564.7px,#ceff00 693.6px,#ff0 766px,#fc0 838.4px,#f60 1009.1px,#ff4b00 1054.1px,#ff3200 1099.1px,#ff1c00 1144.1px,#ff0b00 1189.1px,#f00 1234.1px,#ff0100 1238.9px,#ff0400 1243.7px,#ff0600 1248.5px,#ff0a00 1253.3px,#ff0d00 1258px)"></i>
<i style="background:linear-gradient(90deg,#0025ff 0.3px,#00c8ff 146.1px,#0ff 198.2px,#00ffce 240.8px,#00ff62 340.4px,#0f0 438.3px,#0aff00 449.2px,#6cff00 565.7px,#ceff00 694.8px,#ff0 767.3px,#fc0 839.8px,#f60 1011px,#ff4b00 1056.3px,#ff3200 1101.6px,#ff1c00 1147px,#ff0b00 1192.3px,#f00 1237.6px,#ff0100 1241.7px,#ff0300 1245.8px,#ff0500 1249.9px,#ff0800 1254px,#ff0b00 1258px)"></i>
<i style="background:linear-gradient(90deg,#0024ff 0.3px,#00c8ff 146.7px,#0ff 198.8px,#00ffce 241.4px,#00ff62 341.1px,#0f0 439.2px,#0aff00 450.1px,#6cff00 566.7px,#ceff00 696px,#ff0 768.6px,#fc0 841.2px,#f60 1012.8px,#ff4b00 1058.5px,#ff3200 1104.1px,#ff1c00 1149.8px,#ff0b00 1195.5px,#f00 1241.1px,#ff0100 1244.5px,#ff0200 1247.9px,#ff0400 1251.3px,#ff0600 1254.7px,#ff0900 1258px)"></i>
<i style="background:linear-gradient(90deg,#0023ff 0.3px,#00c8ff 147.3px,#0ff 199.4px,#00ffce 242px,#00ff62 341.9px,#0f0 440px,#0aff00 450.9px,#6cff00 567.7px,#ceff00 697.1px,#ff0 769.9px,#fc0 842.6px,#f60 1014.7px,#ff4b00 1060.7px,#ff3200 1106.7px,#ff1c00 1152.7px,#ff0b00 1198.6px,#f00 1244.6px,#ff0100 1247.3px,#ff0200 1250px,#ff0300 1252.7px,#ff0500 1255.4px,#ff0700 1258px)"></i>
<i style="background:linear-gradient(90deg,#02f 0.3px,#00c8ff 147.9px,#0ff 200px,#00ffce 242.7px,#00ff62 342.6px,#0f0 440.8px,#0aff00 451.7px,#6cff00 568.7px,#ceff00 698.3px,#ff0 771.2px,#fc0 844px,#f60 1016.6px,#ff4b00 1062.9px,#ff3200 1109.2px,#ff1c00 1155.5px,#ff0b00 1201.9px,#f00 1248.2px,#ff0100 1250.2px,#ff0100 1252.1px,#ff0200 1254.1px,#ff0400 1256.1px,#ff0500 1258px)"></i>
<i style="background:linear-gradient(90deg,#02f 0.3px,#00c8ff 148.4px,#0ff 200.6px,#00ffce 243.3px,#00ff62 343.3px,#0f0 441.7px,#0aff00 452.6px,#6cff00 569.7px,#ceff00 699.5px,#ff0 772.5px,#fc0 845.4px,#f60 1018.5px,#ff4b00 1065.1px,#ff3200 1111.8px,#ff1c00 1158.4px,#ff0b00 1205.1px,#f00 1251.8px,#f00 1253px,#ff0100 1254.3px,#ff0200 1255.6px,#ff0200 1256.8px,#ff0300 1258px)"></i>
<i style="background:linear-gradient(90deg,#0021ff 0.3px,#00c8ff 149px,#0ff 201.2px,#00ffce 244px,#00ff62 344.1px,#0f0 442.5px,#0aff00 453.4px,#6cff00 570.7px,#ceff00 700.7px,#ff0 773.7px,#fc0 846.8px,#f60 1020.3px,#ff4b00 1067.3px,#ff3200 1114.3px,#ff1c00 1161.3px,#ff0b00 1208.3px,#f00 1255.4px,#f00 1255.9px,#f00 1256.5px,#ff0100 1257px,#ff0100 1257.6px,#ff0200 1258px)"></i>
<i style="background:linear-gradient(90deg,#0020ff 0.3px,#00c8ff 149.6px,#0ff 201.9px,#00ffce 244.6px,#00ff62 344.8px,#0f0 443.3px,#0aff00 454.3px,#6cff00 571.7px,#ceff00 701.8px,#ff0 775px,#fc0 848.3px,#f60 1022.2px,#ff4b00 1069.4px,#f30 1116.6px,#ff1e00 1163.8px,#ff0c00 1210.9px,#ff0100 1258px)"></i>
<i style="background:linear-gradient(90deg,#001fff 0.3px,#00c8ff 150.2px,#0ff 202.5px,#00ffce 245.3px,#00ff62 345.5px,#0f0 444.2px,#0aff00 455.1px,#6cff00 572.7px,#ceff00 703px,#ff0 776.4px,#fc0 849.7px,#f60 1024.1px,#ff4b00 1070.9px,#ff3200 1117.7px,#ff1c00 1164.5px,#ff0b00 1211.3px,#f00 1258px)"></i>
<i style="background:linear-gradient(90deg,#001fff 0.3px,#00c8ff 150.8px,#0ff 203.1px,#00ffce 245.9px,#00ff62 346.3px,#0f0 445px,#0aff00 456px,#6cff00 573.7px,#ceff00 704.2px,#ff0 777.7px,#fc0 851.1px,#f60 1026.1px,#ff4b00 1072.5px,#ff3200 1118.9px,#ff1d00 1165.3px,#ff0b00 1211.7px,#f00 1258px)"></i>
<i style="background:linear-gradient(90deg,#001eff 0.3px,#00c8ff 151.3px,#0ff 203.7px,#00ffce 246.6px,#00ff62 347px,#0f0 445.8px,#0aff00 456.8px,#6cff00 574.7px,#ceff00 705.4px,#ff0 779px,#fc0 852.6px,#f60 1028px,#ff4b00 1074px,#f30 1120px,#ff1e00 1166px,#ff0c00 1212.1px,#ff0100 1258px)"></i>
<i style="background:linear-gradient(90deg,#001dff 0.3px,#00c8ff 151.9px,#0ff 204.3px,#00ffce 247.2px,#00ff62 347.7px,#0f0 446.7px,#0aff00 457.7px,#6cff00 575.7px,#ceff00 706.6px,#ff0 780.3px,#fc0 854px,#f60 1029.9px,#ff4b00 1075.5px,#f30 1121.2px,#ff1e00 1166.8px,#ff0d00 1212.5px,#ff0100 1258px)"></i>
<i style="background:linear-gradient(90deg,#001dff 0.3px,#00c8ff 152.5px,#0ff 205px,#00ffce 247.9px,#00ff62 348.5px,#0f0 447.5px,#0aff00 458.5px,#6cff00 576.7px,#ceff00 707.8px,#ff0 781.6px,#fc0 855.4px,#f60 1031.8px,#ff4c00 1077.1px,#ff3400 1122.3px,#ff1f00 1167.6px,#ff0d00 1212.8px,#ff0100 1258px)"></i>
<i style="background:linear-gradient(90deg,#001cff 0.3px,#00c8ff 153.1px,#0ff 205.6px,#00ffce 248.5px,#00ff62 349.2px,#0f0 448.4px,#0aff00 459.4px,#6cff00 577.7px,#ceff00 709px,#ff0 782.9px,#fc0 856.9px,#f60 1033.8px,#ff4c00 1078.6px,#ff3400 1123.5px,#ff2000 1168.4px,#ff0e00 1213.2px,#ff0200 1258px)"></i>
<i style="background:linear-gradient(90deg,#001bff 0.3px,#00c8ff 153.7px,#0ff 206.2px,#00ffce 249.2px,#00ff62 350px,#0f0 449.2px,#0aff00 460.2px,#6cff00 578.7px,#ceff00 710.2px,#ff0 784.3px,#fc0 858.3px,#f60 1035.7px,#ff4c00 1080.2px,#ff3500 1124.7px,#ff2000 1169.2px,#ff0f00 1213.6px,#ff0200 1258px)"></i>
<i style="background:linear-gradient(90deg,#001aff 0.3px,#00c8ff 154.3px,#0ff 206.8px,#00ffce 249.8px,#00ff62 350.7px,#0f0 450px,#0aff00 461.1px,#6cff00 579.7px,#ceff00 711.4px,#ff0 785.6px,#fc0 859.8px,#f60 1037.7px,#ff4d00 1081.8px,#ff3500 1125.9px,#ff2100 1169.9px,#ff0f00 1214px,#ff0300 1258px)"></i>
<i style="background:linear-gradient(90deg,#001aff 0.3px,#00c8ff 154.8px,#0ff 207.4px,#00ffce 250.5px,#00ff62 351.4px,#0f0 450.9px,#0aff00 461.9px,#6cff00 580.7px,#ceff00 712.6px,#ff0 786.9px,#fc0 861.3px,#f60 1039.7px,#ff4d00 1083.4px,#ff3600 1127px,#ff2100 1170.7px,#ff1000 1214.4px,#ff0300 1258px)"></i>
<i style="background:linear-gradient(90deg,#0019ff 0.3px,#00c8ff 155.4px,#0ff 208.1px,#00ffce 251.2px,#00ff62 352.2px,#0f0 451.7px,#0aff00 462.8px,#6cff00 581.7px,#ceff00 713.8px,#ff0 788.3px,#fc0 862.7px,#f60 1041.7px,#ff4d00 1084.9px,#ff3600 1128.2px,#f20 1171.5px,#f10 1214.8px,#ff0400 1258px)"></i>
<i style="background:linear-gradient(90deg,#0018ff 0.3px,#00c8ff 156px,#0ff 208.7px,#00ffce 251.8px,#00ff62 352.9px,#0f0 452.6px,#0aff00 463.7px,#6cff00 582.8px,#ceff00 715px,#ff0 789.6px,#fc0 864.2px,#f60 1043.6px,#ff4d00 1086.5px,#ff3700 1129.4px,#ff2300 1172.3px,#ff1200 1215.2px,#ff0400 1258px)"></i>
<i style="background:linear-gradient(90deg,#0017ff 0.3px,#00c8ff 156.6px,#0ff 209.3px,#00ffce 252.5px,#00ff62 353.7px,#0f0 453.4px,#0aff00 464.5px,#6cff00 583.8px,#ceff00 716.2px,#ff0 790.9px,#fc0 865.7px,#f60 1045.6px,#ff4e00 1088.1px,#ff3700 1130.6px,#ff2300 1173.1px,#ff1200 1215.6px,#ff0500 1258px)"></i>
<i style="background:linear-gradient(90deg,#0017ff 0.3px,#00c8ff 157.2px,#0ff 210px,#00ffce 253.1px,#00ff62 354.4px,#0f0 454.3px,#0aff00 465.4px,#6cff00 584.8px,#ceff00 717.4px,#ff0 792.3px,#fc0 867.2px,#f60 1047.7px,#ff4e00 1089.7px,#ff3800 1131.8px,#ff2400 1173.9px,#ff1300 1216px,#ff0600 1258px)"></i>
<i style="background:linear-gradient(90deg,#0016ff 0.3px,#00c8ff 157.8px,#0ff 210.6px,#00ffce 253.8px,#00ff62 355.2px,#0f0 455.1px,#0aff00 466.2px,#6cff00 585.8px,#ceff00 718.6px,#ff0 793.6px,#fc0 868.6px,#f60 1049.7px,#ff4e00 1091.4px,#ff3800 1133px,#ff2500 1174.7px,#ff1400 1216.4px,#ff0600 1258px)"></i>
<i style="background:linear-gradient(90deg,#0015ff 0.3px,#00c8ff 158.4px,#0ff 211.2px,#00ffce 254.4px,#00ff62 355.9px,#0f0 456px,#0aff00 467.1px,#6cff00 586.8px,#ceff00 719.8px,#ff0 795px,#fc0 870.1px,#f60 1051.7px,#ff4f00 1093px,#ff3900 1134.3px,#ff2500 1175.5px,#ff1400 1216.8px,#ff0700 1258px)"></i>
<i style="background:linear-gradient(90deg,#0014ff 0.3px,#00c8ff 159px,#0ff 211.8px,#00ffce 255.1px,#00ff62 356.7px,#0f0 456.8px,#0aff00 468px,#6cff00 587.9px,#ceff00 721.1px,#ff0 796.3px,#fc0 871.6px,#f60 1053.7px,#ff4f00 1094.6px,#ff3900 1135.5px,#ff2600 1176.4px,#ff1500 1217.2px,#ff0800 1258px)"></i>
<i style="background:linear-gradient(90deg,#0014ff 0.3px,#00c8ff 159.5px,#0ff 212.5px,#00ffce 255.8px,#00ff62 357.4px,#0f0 457.7px,#0aff00 468.8px,#6cff00 588.9px,#ceff00 722.3px,#ff0 797.7px,#fc0 873.1px,#f60 1055.8px,#ff4f00 1096.2px,#ff3a00 1136.7px,#ff2700 1177.2px,#ff1600 1217.6px,#ff0800 1258px)"></i>
<i style="background:linear-gradient(90deg,#0013ff 0.3px,#00c8ff 160.1px,#0ff 213.1px,#00ffce 256.4px,#00ff62 358.2px,#0f0 458.6px,#0aff00 469.7px,#6cff00 589.9px,#ceff00 723.5px,#ff0 799.1px,#fc0 874.6px,#f60 1057.8px,#ff4f00 1097.9px,#ff3a00 1137.9px,#ff2700 1178px,#ff1700 1218px,#ff0900 1258px)"></i>
<i style="background:linear-gradient(90deg,#0012ff 0.3px,#00c8ff 160.7px,#0ff 213.7px,#00ffce 257.1px,#00ff62 358.9px,#0f0 459.4px,#0aff00 470.6px,#6cff00 591px,#ceff00 724.7px,#ff0 800.4px,#fc0 876.1px,#f60 1059.9px,#ff5000 1099.5px,#ff3b00 1139.2px,#ff2800 1178.8px,#ff1800 1218.5px,#ff0a00 1258px)"></i>
<i style="background:linear-gradient(90deg,#0012ff 0.3px,#00c8ff 161.3px,#0ff 214.4px,#00ffce 257.8px,#00ff62 359.7px,#0f0 460.3px,#0aff00 471.4px,#6cff00 592px,#ceff00 726px,#ff0 801.8px,#fc0 877.6px,#f60 1062px,#ff5000 1101.2px,#ff3b00 1140.4px,#ff2900 1179.6px,#ff1800 1218.9px,#ff0b00 1258px)"></i>
<i style="background:linear-gradient(90deg,#01f 0.3px,#00c8ff 161.9px,#0ff 215px,#00ffce 258.4px,#00ff62 360.4px,#0f0 461.1px,#0aff00 472.3px,#6cff00 593px,#ceff00 727.2px,#ff0 803.2px,#fc0 879.2px,#f60 1064.1px,#ff5000 1102.9px,#ff3c00 1141.7px,#ff2900 1180.5px,#ff1900 1219.3px,#ff0b00 1258px)"></i>
<i style="background:linear-gradient(90deg,#0010ff 0.3px,#00c8ff 162.5px,#0ff 215.6px,#00ffce 259.1px,#00ff62 361.2px,#0f0 462px,#0aff00 473.2px,#6cff00 594.1px,#ceff00 728.4px,#ff0 804.6px,#fc0 880.7px,#f60 1066.1px,#ff5000 1104.5px,#ff3c00 1142.9px,#ff2a00 1181.3px,#ff1a00 1219.7px,#ff0c00 1258px)"></i>
<i style="background:linear-gradient(90deg,#000fff 0.3px,#00c8ff 163.1px,#0ff 216.3px,#00ffce 259.8px,#00ff62 362px,#0f0 462.9px,#0aff00 474.1px,#6cff00 595.1px,#ceff00 729.7px,#ff0 805.9px,#fc0 882.2px,#f60 1068.3px,#ff5100 1106.2px,#ff3d00 1144.2px,#ff2b00 1182.2px,#ff1b00 1220.1px,#ff0d00 1258px)"></i>
<i style="background:linear-gradient(90deg,#000fff 0.3px,#00c8ff 163.7px,#0ff 216.9px,#00ffce 260.4px,#00ff62 362.7px,#0f0 463.7px,#0aff00 474.9px,#6cff00 596.1px,#ceff00 730.9px,#ff0 807.3px,#fc0 883.7px,#f60 1070.4px,#ff5100 1107.9px,#ff3d00 1145.5px,#ff2c00 1183px,#ff1c00 1220.6px,#ff0e00 1258px)"></i>
<i style="background:linear-gradient(90deg,#000eff 0.3px,#00c8ff 164.3px,#0ff 217.5px,#00ffce 261.1px,#00ff62 363.5px,#0f0 464.6px,#0aff00 475.8px,#6cff00 597.2px,#ceff00 732.2px,#ff0 808.7px,#fc0 885.3px,#f60 1072.5px,#ff5100 1109.6px,#ff3e00 1146.7px,#ff2c00 1183.9px,#ff1c00 1221px,#ff0f00 1258px)"></i>
<i style="background:linear-gradient(90deg,#000dff 0.3px,#00c8ff 164.9px,#0ff 218.2px,#00ffce 261.8px,#00ff62 364.2px,#0f0 465.5px,#0aff00 476.7px,#6cff00 598.2px,#ceff00 733.4px,#ff0 810.1px,#fc0 886.8px,#f60 1074.6px,#ff5200 1111.3px,#ff3e00 1148px,#ff2d00 1184.7px,#ff1d00 1221.4px,#ff1000 1258px)"></i>
<i style="background:linear-gradient(90deg,#000cff 0.3px,#00c8ff 165.5px,#0ff 218.8px,#00ffce 262.4px,#00ff62 365px,#0f0 466.3px,#0aff00 477.6px,#6cff00 599.3px,#ceff00 734.7px,#ff0 811.5px,#fc0 888.4px,#f60 1076.8px,#ff5200 1113px,#ff3f00 1149.3px,#ff2e00 1185.6px,#ff1e00 1221.8px,#ff1000 1258px)"></i>
<i style="background:linear-gradient(90deg,#000cff 0.3px,#00c8ff 166.1px,#0ff 219.5px,#00ffce 263.1px,#00ff62 365.8px,#0f0 467.2px,#0aff00 478.5px,#6cff00 600.3px,#ceff00 735.9px,#ff0 812.9px,#fc0 889.9px,#f60 1078.9px,#ff5200 1114.8px,#ff4000 1150.6px,#ff2e00 1186.4px,#ff1f00 1222.3px,#f10 1258px)"></i>
<i style="background:linear-gradient(90deg,#000bff 0.3px,#00c8ff 166.7px,#0ff 220.1px,#00ffce 263.8px,#00ff62 366.5px,#0f0 468.1px,#0aff00 479.3px,#6cff00 601.4px,#ceff00 737.2px,#ff0 814.3px,#fc0 891.5px,#f60 1081.1px,#ff5200 1116.5px,#ff4000 1151.9px,#ff2f00 1187.3px,#ff2000 1222.7px,#ff1200 1258px)"></i>
<i style="background:linear-gradient(90deg,#000aff 0.3px,#00c8ff 167.3px,#0ff 220.7px,#00ffce 264.5px,#00ff62 367.3px,#0f0 468.9px,#0aff00 480.2px,#6cff00 602.4px,#ceff00 738.4px,#ff0 815.7px,#fc0 893.1px,#f60 1083.3px,#ff5300 1118.2px,#ff4100 1153.2px,#ff3000 1188.2px,#ff2100 1223.1px,#ff1300 1258px)"></i>
<i style="background:linear-gradient(90deg,#0009ff 0.3px,#00c8ff 167.9px,#0ff 221.4px,#00ffce 265.1px,#00ff62 368px,#0f0 469.8px,#0aff00 481.1px,#6cff00 603.5px,#ceff00 739.7px,#ff0 817.2px,#fc0 894.6px,#f60 1085.4px,#ff5300 1120px,#ff4100 1154.5px,#ff3100 1189px,#ff2100 1223.6px,#ff1400 1258px)"></i>
<i style="background:linear-gradient(90deg,#0009ff 0.3px,#00c8ff 168.5px,#0ff 222px,#00ffce 265.8px,#00ff62 368.8px,#0f0 470.7px,#0aff00 482px,#6cff00 604.5px,#ceff00 741px,#ff0 818.6px,#fc0 896.2px,#f60 1087.6px,#ff5300 1121.7px,#ff4200 1155.8px,#ff3100 1189.9px,#f20 1224px,#ff1500 1258px)"></i>
<i style="background:linear-gradient(90deg,#0008ff 0.3px,#00c8ff 169.1px,#0ff 222.7px,#00ffce 266.5px,#00ff62 369.6px,#0f0 471.6px,#0aff00 482.9px,#6cff00 605.6px,#ceff00 742.2px,#ff0 820px,#fc0 897.8px,#f60 1089.8px,#ff5400 1123.5px,#ff4200 1157.1px,#ff3200 1190.8px,#ff2300 1224.4px,#ff1600 1258px)"></i>
<i style="background:linear-gradient(90deg,#0007ff 0.3px,#00c8ff 169.7px,#0ff 223.3px,#00ffce 267.2px,#00ff62 370.3px,#0f0 472.4px,#0aff00 483.8px,#6cff00 606.6px,#ceff00 743.5px,#ff0 821.4px,#fc0 899.4px,#f60 1092.1px,#ff5400 1125.3px,#ff4300 1158.5px,#f30 1191.7px,#ff2400 1224.9px,#ff1700 1258px)"></i>
<i style="background:linear-gradient(90deg,#0006ff 0.3px,#00c8ff 170.3px,#0ff 223.9px,#00ffce 267.8px,#00ff62 371.1px,#0f0 473.3px,#0aff00 484.7px,#6cff00 607.7px,#ceff00 744.8px,#ff0 822.9px,#fc0 900.9px,#f60 1094.3px,#ff5400 1127.1px,#ff4300 1159.8px,#f30 1192.6px,#ff2500 1225.3px,#ff1800 1258px)"></i>
<i style="background:linear-gradient(90deg,#0006ff 0.3px,#00c8ff 170.9px,#0ff 224.6px,#00ffce 268.5px,#00ff62 371.9px,#0f0 474.2px,#0aff00 485.6px,#6cff00 608.8px,#ceff00 746.1px,#ff0 824.3px,#fc0 902.5px,#f60 1096.5px,#ff5400 1128.8px,#f40 1161.2px,#ff3400 1193.5px,#ff2600 1225.8px,#ff1900 1258px)"></i>
<i style="background:linear-gradient(90deg,#0005ff 0.3px,#00c8ff 171.5px,#0ff 225.2px,#00ffce 269.2px,#00ff62 372.7px,#0f0 475.1px,#0aff00 486.5px,#6cff00 609.8px,#ceff00 747.3px,#ff0 825.7px,#fc0 904.1px,#f60 1098.8px,#f50 1130.6px,#f40 1162.5px,#ff3500 1194.4px,#ff2700 1226.2px,#ff1a00 1258px)"></i>
<i style="background:linear-gradient(90deg,#0004ff 0.3px,#00c8ff 172.1px,#0ff 225.9px,#00ffce 269.9px,#00ff62 373.4px,#0f0 476px,#0aff00 487.4px,#6cff00 610.9px,#ceff00 748.6px,#ff0 827.2px,#fc0 905.7px,#f60 1101px,#f50 1132.5px,#ff4500 1163.9px,#ff3600 1195.3px,#ff2800 1226.7px,#ff1b00 1258px)"></i>
<i style="background:linear-gradient(90deg,#0004ff 0.3px,#00c8ff 172.7px,#0ff 226.5px,#00ffce 270.6px,#00ff62 374.2px,#0f0 476.8px,#0aff00 488.3px,#6cff00 612px,#ceff00 749.9px,#ff0 828.6px,#fc0 907.4px,#f60 1103.3px,#f50 1134.3px,#ff4500 1165.2px,#ff3600 1196.2px,#ff2900 1227.1px,#ff1c00 1258px)"></i>
<i style="background:linear-gradient(90deg,#0003ff 0.3px,#00c8ff 173.3px,#0ff 227.2px,#00ffce 271.3px,#00ff62 375px,#0f0 477.7px,#0aff00 489.2px,#6cff00 613px,#ceff00 751.2px,#ff0 830.1px,#fc0 909px,#f60 1105.6px,#f50 1136.1px,#ff4600 1166.6px,#ff3700 1197.1px,#ff2900 1227.6px,#ff1d00 1258px)"></i>
<i style="background:linear-gradient(90deg,#0002ff 0.3px,#00c8ff 173.9px,#0ff 227.8px,#00ffce 271.9px,#00ff62 375.8px,#0f0 478.6px,#0aff00 490.1px,#6cff00 614.1px,#ceff00 752.5px,#ff0 831.5px,#fc0 910.6px,#f60 1107.9px,#ff5600 1137.9px,#ff4600 1168px,#ff3800 1198px,#ff2a00 1228.1px,#ff1e00 1258px)"></i>
<i style="background:linear-gradient(90deg,#0001ff 0.3px,#00c8ff 174.5px,#0ff 228.5px,#00ffce 272.6px,#00ff62 376.5px,#0f0 479.5px,#0aff00 491px,#6cff00 615.2px,#ceff00 753.8px,#ff0 833px,#fc0 912.2px,#f60 1110.2px,#ff5600 1139.8px,#ff4700 1169.4px,#ff3900 1198.9px,#ff2b00 1228.5px,#ff1f00 1258px)"></i>
<i style="background:linear-gradient(90deg,#0001ff 0.3px,#00c8ff 175.1px,#0ff 229.1px,#00ffce 273.3px,#00ff62 377.3px,#0f0 480.4px,#0aff00 491.9px,#6cff00 616.3px,#ceff00 755.1px,#ff0 834.5px,#fc0 913.9px,#f60 1112.5px,#ff5600 1141.6px,#ff4700 1170.8px,#ff3900 1199.9px,#ff2c00 1229px,#ff2000 1258px)"></i>
<i style="background:linear-gradient(90deg,#00f 0.3px,#00c8ff 175.8px,#0ff 229.8px,#00ffce 274px,#00ff62 378.1px,#0f0 481.3px,#0aff00 492.8px,#6cff00 617.3px,#ceff00 756.4px,#ff0 835.9px,#fc0 915.5px,#f60 1114.9px,#ff5700 1143.5px,#ff4800 1172.2px,#ff3a00 1200.8px,#ff2d00 1229.5px,#ff2100 1258px)"></i>
<i style="background:linear-gradient(90deg,#00f 0.3px,#00c8ff 176.4px,#0ff 230.4px,#00ffce 274.7px,#00ff62 378.9px,#0f0 482.2px,#0aff00 493.7px,#6cff00 618.4px,#ceff00 757.7px,#ff0 837.4px,#fc0 917.1px,#f60 1117.2px,#ff5700 1145.4px,#ff4900 1173.6px,#ff3b00 1201.7px,#ff2e00 1229.9px,#f20 1258px)"></i>
<i style="background:linear-gradient(90deg,#00f 0.3px,#00f 0.5px,#00c8ff 177px,#0ff 231.1px,#00ffce 275.4px,#00ff62 379.6px,#0f0 483.1px,#0aff00 494.6px,#6cff00 619.5px,#ceff00 759px,#ff0 838.9px,#fc0 918.8px,#f60 1119.5px,#ff5700 1147.3px,#ff4900 1175px,#ff3c00 1202.7px,#ff2f00 1230.4px,#ff2300 1258px)"></i>
<i style="background:linear-gradient(90deg,#00f 0.3px,#00f 0.6px,#00c8ff 177.6px,#0ff 231.8px,#00ffce 276.1px,#00ff62 380.4px,#0f0 484px,#0aff00 495.5px,#6cff00 620.6px,#ceff00 760.3px,#ff0 840.4px,#fc0 920.4px,#f60 1121.9px,#ff5700 1149.1px,#ff4a00 1176.4px,#ff3c00 1203.6px,#ff3000 1230.9px,#ff2500 1258px)"></i>
<i style="background:linear-gradient(90deg,#00f 0.3px,#00f 0.8px,#00c8ff 178.2px,#0ff 232.4px,#00ffce 276.8px,#00ff62 381.2px,#0f0 484.9px,#0aff00 496.4px,#6cff00 621.7px,#ceff00 761.6px,#ff0 841.9px,#fc0 922.1px,#f60 1124.3px,#ff5800 1151.1px,#ff4a00 1177.8px,#ff3d00 1204.6px,#ff3100 1231.3px,#ff2600 1258px)"></i>
<i style="background:linear-gradient(90deg,#00f 0.3px,#00f 0.9px,#00c8ff 178.8px,#0ff 233.1px,#00ffce 277.5px,#00ff62 382px,#0f0 485.8px,#0aff00 497.3px,#6cff00 622.7px,#ceff00 762.9px,#ff0 843.3px,#fc0 923.8px,#f60 1126.7px,#ff5800 1153px,#ff4b00 1179.2px,#ff3e00 1205.5px,#ff3200 1231.8px,#ff2700 1258px)"></i>
<i style="background:linear-gradient(90deg,#00f 0.3px,#00f 1.1px,#00c8ff 179.4px,#0ff 233.7px,#00ffce 278.2px,#00ff62 382.8px,#0f0 486.7px,#0aff00 498.2px,#6cff00 623.8px,#ceff00 764.2px,#ff0 844.8px,#fc0 925.4px,#f60 1129.1px,#ff5800 1154.9px,#ff4b00 1180.7px,#ff3f00 1206.5px,#f30 1232.3px,#ff2800 1258px)"></i>
<i style="background:linear-gradient(90deg,#00f 0.3px,#00f 1.3px,#00c8ff 180.1px,#0ff 234.4px,#00ffce 278.8px,#00ff62 383.6px,#0f0 487.6px,#0aff00 499.1px,#6cff00 624.9px,#ceff00 765.5px,#ff0 846.3px,#fc0 927.1px,#f60 1131.5px,#ff5900 1156.8px,#ff4c00 1182.1px,#ff4000 1207.5px,#ff3400 1232.8px,#ff2900 1258px)"></i>
<i style="background:linear-gradient(90deg,#00f 0.3px,#00f 1.4px,#00c8ff 180.7px,#0ff 235px,#00ffce 279.5px,#00ff62 384.3px,#0f0 488.5px,#0aff00 500px,#6cff00 626px,#ceff00 766.9px,#ff0 847.8px,#fc0 928.8px,#f60 1133.9px,#ff5900 1158.8px,#ff4c00 1183.6px,#ff4000 1208.4px,#ff3500 1233.3px,#ff2a00 1258px)"></i>
<i style="background:linear-gradient(90deg,#00f 0.3px,#00f 1.6px,#00c8ff 181.3px,#0ff 235.7px,#00ffce 280.2px,#00ff62 385.1px,#0f0 489.4px,#0aff00 501px,#6cff00 627.1px,#ceff00 768.2px,#ff0 849.4px,#fc0 930.5px,#f60 1136.4px,#ff5900 1160.7px,#ff4d00 1185.1px,#ff4100 1209.4px,#ff3600 1233.8px,#ff2b00 1258px)"></i>
<i style="background:linear-gradient(90deg,#00f 0.3px,#00f 1.7px,#00c8ff 181.9px,#0ff 236.4px,#00ffce 280.9px,#00ff62 385.9px,#0f0 490.3px,#0aff00 501.9px,#6cff00 628.2px,#ceff00 769.5px,#ff0 850.9px,#fc0 932.2px,#f60 1138.8px,#ff5900 1162.7px,#ff4d00 1186.5px,#ff4200 1210.4px,#ff3700 1234.2px,#ff2c00 1258px)"></i>
<i style="background:linear-gradient(90deg,#00f 0.3px,#00f 1.9px,#00c8ff 182.5px,#0ff 237px,#00ffce 281.6px,#00ff62 386.7px,#0f0 491.2px,#0aff00 502.8px,#6cff00 629.3px,#ceff00 770.9px,#ff0 852.4px,#fc0 933.9px,#f60 1141.3px,#ff5a00 1164.6px,#ff4e00 1188px,#ff4300 1211.4px,#ff3800 1234.7px,#ff2e00 1258px)"></i>
<i style="background:linear-gradient(90deg,#00f 0.3px,#00f 2.1px,#00c8ff 183.1px,#0ff 237.7px,#00ffce 282.3px,#00ff62 387.5px,#0f0 492.1px,#0aff00 503.7px,#6cff00 630.4px,#ceff00 772.2px,#ff0 853.9px,#fc0 935.6px,#f60 1143.7px,#ff5a00 1166.6px,#ff4f00 1189.5px,#ff4300 1212.4px,#ff3900 1235.2px,#ff2f00 1258px)"></i>
<i style="background:linear-gradient(90deg,#00f 0.3px,#00f 2.3px,#00c8ff 183.8px,#0ff 238.4px,#00ffce 283px,#00ff62 388.3px,#0f0 493px,#0aff00 504.6px,#6cff00 631.5px,#ceff00 773.5px,#ff0 855.4px,#fc0 937.3px,#f60 1146.2px,#ff5a00 1168.6px,#ff4f00 1191px,#f40 1213.4px,#ff3a00 1235.7px,#ff3000 1258px)"></i>
<i style="background:linear-gradient(90deg,#00f 0.3px,#00f 2.4px,#00c8ff 184.4px,#0ff 239px,#00ffce 283.7px,#00ff62 389.1px,#0f0 493.9px,#0aff00 505.6px,#6cff00 632.6px,#ceff00 774.9px,#ff0 857px,#fc0 939.1px,#f60 1148.7px,#ff5b00 1170.6px,#ff5000 1192.5px,#ff4500 1214.4px,#ff3b00 1236.2px,#ff3100 1258px)"></i>
<i style="background:linear-gradient(90deg,#00f 0.3px,#00f 2.6px,#00c8ff 185px,#0ff 239.7px,#00ffce 284.4px,#00ff62 389.9px,#0f0 494.8px,#0aff00 506.5px,#6cff00 633.7px,#ceff00 776.2px,#ff0 858.5px,#fc0 940.8px,#f60 1151.3px,#ff5b00 1172.6px,#ff5000 1194px,#ff4600 1215.4px,#ff3c00 1236.7px,#ff3200 1258px)"></i>
<i style="background:linear-gradient(90deg,#00f 0.3px,#00f 2.8px,#00c8ff 185.6px,#0ff 240.4px,#00ffce 285.1px,#00ff62 390.7px,#0f0 495.7px,#0aff00 507.4px,#6cff00 634.8px,#ceff00 777.6px,#ff0 860px,#fc0 942.5px,#f60 1153.8px,#ff5b00 1174.6px,#ff5100 1195.5px,#ff4700 1216.4px,#ff3d00 1237.2px,#ff3400 1258px)"></i>
<i style="background:linear-gradient(90deg,#00f 0.3px,#00f 3px,#00c8ff 186.2px,#0ff 241px,#00ffce 285.9px,#00ff62 391.5px,#0f0 496.7px,#0aff00 508.4px,#6cff00 635.9px,#ceff00 778.9px,#ff0 861.6px,#fc0 944.3px,#f60 1156.3px,#ff5b00 1176.7px,#ff5100 1197px,#ff4700 1217.4px,#ff3e00 1237.7px,#ff3500 1258px)"></i>
<i style="background:linear-gradient(90deg,#00f 0.3px,#00f 3.2px,#00c8ff 186.9px,#0ff 241.7px,#00ffce 286.6px,#00ff62 392.3px,#0f0 497.6px,#0aff00 509.3px,#6cff00 637px,#ceff00 780.3px,#ff0 863.1px,#fc0 946px,#f60 1158.9px,#ff5c00 1178.7px,#ff5200 1198.6px,#ff4800 1218.4px,#ff3f00 1238.3px,#ff3600 1258px)"></i>
<i style="background:linear-gradient(90deg,#00f 0.3px,#00f 3.3px,#00c8ff 187.5px,#0ff 242.4px,#00ffce 287.3px,#00ff62 393.1px,#0f0 498.5px,#0aff00 510.2px,#6cff00 638.2px,#ceff00 781.6px,#ff0 864.7px,#fc0 947.8px,#f60 1161.4px,#ff5c00 1180.8px,#ff5200 1200.1px,#ff4900 1219.4px,#ff4000 1238.8px,#ff3700 1258px)"></i>
<i style="background:linear-gradient(90deg,#00f 0.3px,#00f 3.5px,#00c8ff 188.1px,#0ff 243px,#00ffce 288px,#00ff62 393.9px,#0f0 499.4px,#0aff00 511.1px,#6cff00 639.3px,#ceff00 783px,#ff0 866.3px,#fc0 949.5px,#f60 1164px,#ff5c00 1182.8px,#ff5300 1201.7px,#ff4a00 1220.5px,#ff4100 1239.3px,#ff3900 1258px)"></i>
<i style="background:linear-gradient(90deg,#00f 0.3px,#00f 3.7px,#00c8ff 188.7px,#0ff 243.7px,#00ffce 288.7px,#00ff62 394.7px,#0f0 500.3px,#0aff00 512.1px,#6cff00 640.4px,#ceff00 784.3px,#ff0 867.8px,#fc0 951.3px,#f60 1166.6px,#ff5d00 1184.9px,#ff5400 1203.2px,#ff4b00 1221.5px,#ff4200 1239.8px,#ff3a00 1258px)"></i>
<i style="background:linear-gradient(90deg,#00f 0.3px,#00f 3.9px,#00c8ff 189.4px,#0ff 244.4px,#00ffce 289.4px,#00ff62 395.5px,#0f0 501.3px,#0aff00 513px,#6cff00 641.5px,#ceff00 785.7px,#ff0 869.4px,#fc0 953.1px,#f60 1169.2px,#ff5d00 1187px,#ff5400 1204.8px,#ff4b00 1222.6px,#ff4300 1240.3px,#ff3b00 1258px)"></i>
<i style="background:linear-gradient(90deg,#00f 0.3px,#00f 4.1px,#00c8ff 190px,#0ff 245.1px,#00ffce 290.1px,#00ff62 396.3px,#0f0 502.2px,#0aff00 514px,#6cff00 642.6px,#ceff00 787.1px,#ff0 871px,#fc0 954.8px,#f60 1171.9px,#ff5d00 1189.1px,#f50 1206.4px,#ff4c00 1223.6px,#f40 1240.9px,#ff3c00 1258px)"></i>
<i style="background:linear-gradient(90deg,#00f 0.3px,#00f 4.3px,#00c8ff 190.6px,#0ff 245.7px,#00ffce 290.8px,#00ff62 397.1px,#0f0 503.1px,#0aff00 514.9px,#6cff00 643.8px,#ceff00 788.5px,#ff0 872.5px,#fc0 956.6px,#f60 1174.5px,#ff5d00 1191.2px,#f50 1207.9px,#ff4d00 1224.7px,#ff4500 1241.4px,#ff3e00 1258px)"></i>
<i style="background:linear-gradient(90deg,#00f 0.3px,#00f 4.5px,#00c8ff 191.3px,#0ff 246.4px,#00ffce 291.5px,#00ff62 397.9px,#0f0 504px,#0aff00 515.8px,#6cff00 644.9px,#ceff00 789.8px,#ff0 874.1px,#fc0 958.4px,#f60 1177.1px,#ff5e00 1193.3px,#ff5600 1209.5px,#ff4e00 1225.7px,#ff4600 1241.9px,#ff3f00 1258px)"></i>
<i style="background:linear-gradient(90deg,#00f 0.3px,#00f 4.7px,#00c8ff 191.9px,#0ff 247.1px,#00ffce 292.2px,#00ff62 398.7px,#0f0 505px,#0aff00 516.8px,#6cff00 646px,#ceff00 791.2px,#ff0 875.7px,#fc0 960.2px,#f60 1179.8px,#ff5e00 1195.5px,#ff5600 1211.1px,#ff4f00 1226.8px,#ff4700 1242.4px,#ff4000 1258px)"></i>
<i style="background:linear-gradient(90deg,#00f 0.3px,#00f 4.9px,#00c8ff 192.5px,#0ff 247.8px,#00ffce 293px,#00ff62 399.5px,#0f0 505.9px,#0aff00 517.7px,#6cff00 647.1px,#ceff00 792.6px,#ff0 877.3px,#fc0 962px,#f60 1182.5px,#ff5e00 1197.6px,#ff5700 1212.7px,#ff5000 1227.9px,#ff4900 1243px,#ff4200 1258px)"></i>
<i style="background:linear-gradient(90deg,#00f 0.3px,#00f 5.1px,#00c8ff 193.1px,#0ff 248.4px,#00ffce 293.7px,#00ff62 400.3px,#0f0 506.8px,#0aff00 518.7px,#6cff00 648.3px,#ceff00 794px,#ff0 878.9px,#fc0 963.8px,#f60 1185.2px,#ff5f00 1199.8px,#ff5700 1214.3px,#ff5000 1228.9px,#ff4a00 1243.5px,#ff4300 1258px)"></i>
<i style="background:linear-gradient(90deg,#00f 0.3px,#00f 5.3px,#00c8ff 193.8px,#0ff 249.1px,#00ffce 294.4px,#00ff62 401.1px,#0f0 507.8px,#0aff00 519.6px,#6cff00 649.4px,#ceff00 795.4px,#ff0 880.5px,#fc0 965.7px,#f60 1187.9px,#ff5f00 1201.9px,#ff5800 1216px,#ff5100 1230px,#ff4b00 1244.1px,#f40 1258px)"></i>
<i style="background:linear-gradient(90deg,#00f 0.3px,#00f 5.5px,#00c8ff 194.4px,#0ff 249.8px,#00ffce 295.1px,#00ff62 401.9px,#0f0 508.7px,#0aff00 520.6px,#6cff00 650.5px,#ceff00 796.7px,#ff0 882.1px,#fc0 967.5px,#f60 1190.6px,#ff5f00 1204.1px,#ff5900 1217.6px,#ff5200 1231.1px,#ff4c00 1244.6px,#ff4600 1258px)"></i>
<i style="background:linear-gradient(90deg,#00f 0.3px,#00f 5.7px,#00c8ff 195px,#0ff 250.5px,#00ffce 295.8px,#00ff62 402.7px,#0f0 509.6px,#0aff00 521.5px,#6cff00 651.7px,#ceff00 798.1px,#ff0 883.7px,#fc0 969.3px,#f60 1193.3px,#ff6000 1206.3px,#ff5900 1219.2px,#ff5300 1232.2px,#ff4d00 1245.1px,#ff4700 1258px)"></i>
<i style="background:linear-gradient(90deg,#00f 0.3px,#00f 6px,#00c8ff 195.7px,#0ff 251.2px,#00ffce 296.6px,#00ff62 403.5px,#0f0 510.6px,#0aff00 522.5px,#6cff00 652.8px,#ceff00 799.5px,#ff0 885.4px,#fc0 971.2px,#f60 1196.1px,#ff6000 1208.5px,#ff5a00 1220.9px,#ff5400 1233.3px,#ff4e00 1245.7px,#ff4800 1258px)"></i>
<i style="background:linear-gradient(90deg,#00f 0.3px,#00f 6.2px,#00c8ff 196.3px,#0ff 251.8px,#00ffce 297.3px,#00ff62 404.4px,#0f0 511.5px,#0aff00 523.4px,#6cff00 654px,#ceff00 800.9px,#ff0 887px,#fc0 973px,#f60 1198.9px,#ff6000 1210.7px,#ff5a00 1222.6px,#f50 1234.4px,#ff4f00 1246.3px,#ff4a00 1258px)"></i>
<i style="background:linear-gradient(90deg,#00f 0.3px,#00f 6.4px,#00c8ff 197px,#0ff 252.5px,#00ffce 298px,#00ff62 405.2px,#0f0 512.5px,#0aff00 524.4px,#6cff00 655.1px,#ceff00 802.3px,#ff0 888.6px,#fc0 974.9px,#f60 1201.6px,#ff6000 1212.9px,#ff5b00 1224.2px,#f50 1235.5px,#ff5000 1246.8px,#ff4b00 1258px)"></i>
<i style="background:linear-gradient(90deg,#00f 0.3px,#00f 6.6px,#00c8ff 197.6px,#0ff 253.2px,#00ffce 298.7px,#00ff62 406px,#0f0 513.4px,#0aff00 525.3px,#6cff00 656.2px,#ceff00 803.7px,#ff0 890.2px,#fc0 976.7px,#f60 1204.4px,#ff6100 1215.2px,#ff5b00 1225.9px,#ff5600 1236.6px,#ff5100 1247.4px,#ff4c00 1258px)"></i>
<i style="background:linear-gradient(90deg,#00f 0.3px,#00f 6.8px,#00c8ff 198.2px,#0ff 253.9px,#00ffce 299.5px,#00ff62 406.8px,#0f0 514.3px,#0aff00 526.3px,#6cff00 657.4px,#ceff00 805.2px,#ff0 891.9px,#fc0 978.6px,#f60 1207.2px,#ff6100 1217.4px,#ff5c00 1227.6px,#ff5700 1237.8px,#ff5200 1247.9px,#ff4e00 1258px)"></i>
<i style="background:linear-gradient(90deg,#00f 0.3px,#00f 7.1px,#00c8ff 198.9px,#0ff 254.6px,#00ffce 300.2px,#00ff62 407.6px,#0f0 515.3px,#0aff00 527.2px,#6cff00 658.5px,#ceff00 806.6px,#ff0 893.5px,#fc0 980.5px,#f60 1210.1px,#ff6100 1219.7px,#ff5d00 1229.3px,#ff5800 1238.9px,#ff5400 1248.5px,#ff4f00 1258px)"></i>
<i style="background:linear-gradient(90deg,#00f 0.3px,#00f 7.3px,#00c8ff 199.5px,#0ff 255.3px,#00ffce 300.9px,#00ff62 408.4px,#0f0 516.2px,#0aff00 528.2px,#6cff00 659.7px,#ceff00 808px,#ff0 895.2px,#fc0 982.4px,#f60 1212.9px,#ff6200 1221.9px,#ff5d00 1231px,#ff5900 1240px,#f50 1249.1px,#ff5000 1258px)"></i>
<i style="background:linear-gradient(90deg,#00f 0.3px,#00f 7.5px,#00c8ff 200.1px,#0ff 256px,#00ffce 301.6px,#00ff62 409.3px,#0f0 517.2px,#0aff00 529.2px,#6cff00 660.8px,#ceff00 809.4px,#ff0 896.8px,#fc0 984.3px,#f60 1215.8px,#ff6200 1224.2px,#ff5e00 1232.7px,#ff5a00 1241.2px,#ff5600 1249.6px,#ff5200 1258px)"></i>
<i style="background:linear-gradient(90deg,#00f 0.3px,#00f 7.7px,#00c8ff 200.8px,#0ff 256.7px,#00ffce 302.4px,#00ff62 410.1px,#0f0 518.1px,#0aff00 530.1px,#6cff00 662px,#ceff00 810.8px,#ff0 898.5px,#fc0 986.2px,#f60 1218.6px,#ff6200 1226.5px,#ff5e00 1234.4px,#ff5b00 1242.3px,#ff5700 1250.2px,#ff5300 1258px)"></i>
<i style="background:linear-gradient(90deg,#00f 0.3px,#00f 8px,#00c8ff 201.4px,#0ff 257.3px,#00ffce 303.1px,#00ff62 410.9px,#0f0 519.1px,#0aff00 531.1px,#6cff00 663.2px,#ceff00 812.3px,#ff0 900.2px,#fc0 988.1px,#f60 1221.5px,#ff6200 1228.8px,#ff5f00 1236.2px,#ff5b00 1243.5px,#ff5800 1250.8px,#f50 1258px)"></i>
<i style="background:linear-gradient(90deg,#00f 0.3px,#00f 8.2px,#00c8ff 202.1px,#0ff 258px,#00ffce 303.8px,#00ff62 411.7px,#0f0 520px,#0aff00 532.1px,#6cff00 664.3px,#ceff00 813.7px,#ff0 901.8px,#fc0 990px,#f60 1224.4px,#ff6300 1231.2px,#ff6000 1237.9px,#ff5c00 1244.6px,#ff5900 1251.4px,#ff5600 1258px)"></i>
<i style="background:linear-gradient(90deg,#00f 0.3px,#00f 8.5px,#00c8ff 202.7px,#0ff 258.7px,#00ffce 304.6px,#00ff62 412.6px,#0f0 521px,#0aff00 533px,#6cff00 665.5px,#ceff00 815.1px,#ff0 903.5px,#fc0 991.9px,#f60 1227.3px,#ff6300 1233.5px,#ff6000 1239.6px,#ff5d00 1245.8px,#ff5a00 1251.9px,#ff5700 1258px)"></i>
<i style="background:linear-gradient(90deg,#00f 0.3px,#00f 8.7px,#00c8ff 203.4px,#0ff 259.4px,#00ffce 305.3px,#00ff62 413.4px,#0f0 521.9px,#0aff00 534px,#6cff00 666.6px,#ceff00 816.6px,#ff0 905.2px,#fc0 993.8px,#f60 1230.3px,#ff6300 1235.8px,#ff6100 1241.4px,#ff5e00 1247px,#ff5b00 1252.5px,#ff5900 1258px)"></i>
<i style="background:linear-gradient(90deg,#00f 0.3px,#00f 8.9px,#00c8ff 204px,#0ff 260.1px,#00ffce 306px,#00ff62 414.2px,#0f0 522.9px,#0aff00 535px,#6cff00 667.8px,#ceff00 818px,#ff0 906.9px,#fc0 995.8px,#f60 1233.2px,#ff6400 1238.2px,#ff6100 1243.2px,#ff5f00 1248.2px,#ff5d00 1253.1px,#ff5a00 1258px)"></i>
<i style="background:linear-gradient(90deg,#00f 0.3px,#00f 9.2px,#00c8ff 204.7px,#0ff 260.8px,#00ffce 306.8px,#00ff62 415px,#0f0 523.9px,#0aff00 535.9px,#6cff00 669px,#ceff00 819.4px,#ff0 908.6px,#fc0 997.7px,#f60 1236.2px,#ff6400 1240.6px,#ff6200 1245px,#ff6000 1249.3px,#ff5e00 1253.7px,#ff5c00 1258px)"></i>
<i style="background:linear-gradient(90deg,#00f 0.3px,#00f 9.4px,#00c8ff 205.3px,#0ff 261.5px,#00ffce 307.5px,#00ff62 415.9px,#0f0 524.8px,#0aff00 536.9px,#6cff00 670.1px,#ceff00 820.9px,#ff0 910.3px,#fc0 999.7px,#f60 1239.2px,#ff6400 1243px,#ff6200 1246.7px,#ff6100 1250.5px,#ff5f00 1254.3px,#ff5d00 1258px)"></i>
<i style="background:linear-gradient(90deg,#00f 0.3px,#00f 9.7px,#00c8ff 205.9px,#0ff 262.2px,#00ffce 308.2px,#00ff62 416.7px,#0f0 525.8px,#0aff00 537.9px,#6cff00 671.3px,#ceff00 822.3px,#ff0 912px,#fc0 1001.6px,#f60 1242.2px,#ff6500 1245.4px,#ff6300 1248.5px,#ff6200 1251.7px,#ff6000 1254.9px,#ff5f00 1258px)"></i>
<i style="background:linear-gradient(90deg,#00f 0.3px,#00f 9.9px,#00c8ff 206.6px,#0ff 262.9px,#00ffce 309px,#00ff62 417.5px,#0f0 526.7px,#0aff00 538.9px,#6cff00 672.5px,#ceff00 823.8px,#ff0 913.7px,#fc0 1003.6px,#f60 1245.2px,#ff6500 1247.8px,#ff6400 1250.4px,#ff6200 1252.9px,#ff6100 1255.5px,#ff6000 1258px)"></i>
<i style="background:linear-gradient(90deg,#00f 0.3px,#00f 10.2px,#00c8ff 207.2px,#0ff 263.6px,#00ffce 309.7px,#00ff62 418.4px,#0f0 527.7px,#0aff00 539.9px,#6cff00 673.7px,#ceff00 825.2px,#ff0 915.4px,#fc0 1005.6px,#f60 1248.2px,#ff6500 1250.2px,#ff6400 1252.2px,#ff6300 1254.2px,#ff6200 1256.1px,#ff6200 1258px)"></i>
<i style="background:linear-gradient(90deg,#00f 0.3px,#00f 10.4px,#00c8ff 207.9px,#0ff 264.3px,#00ffce 310.5px,#00ff62 419.2px,#0f0 528.7px,#0aff00 540.8px,#6cff00 674.8px,#ceff00 826.7px,#ff0 917.1px,#fc0 1007.5px,#f60 1251.3px,#ff6500 1252.6px,#ff6500 1254px,#ff6400 1255.4px,#ff6400 1256.7px,#ff6300 1258px)"></i>
<i style="background:linear-gradient(90deg,#00f 0.3px,#00f 10.7px,#00c8ff 208.5px,#0ff 265px,#00ffce 311.2px,#00ff62 420px,#0f0 529.6px,#0aff00 541.8px,#6cff00 676px,#ceff00 828.2px,#ff0 918.8px,#fc0 1009.5px,#f60 1254.3px,#f60 1255.1px,#ff6500 1255.8px,#ff6500 1256.6px,#ff6500 1257.3px,#ff6500 1258px)"></i>
<i style="background:linear-gradient(90deg,#00f 0.3px,#00f 10.9px,#00c8ff 209.2px,#0ff 265.7px,#00ffce 312px,#00ff62 420.9px,#0f0 530.6px,#0aff00 542.8px,#6cff00 677.2px,#ceff00 829.6px,#ff0 920.6px,#fc0 1011.5px,#f60 1257.4px,#f60 1258px)"></i>
<i style="background:linear-gradient(90deg,#00f 0.3px,#00f 11.2px,#00c8ff 209.8px,#0ff 266.4px,#00ffce 312.7px,#00ff62 421.7px,#0f0 531.6px,#0aff00 543.8px,#6cff00 678.4px,#ceff00 831.1px,#ff0 922.3px,#fc0 1013.5px,#ff6700 1258px)"></i>
<i style="background:linear-gradient(90deg,#00f 0.3px,#00f 11.5px,#00c8ff 210.5px,#0ff 267.1px,#00ffce 313.5px,#00ff62 422.5px,#0f0 532.6px,#0aff00 544.8px,#6cff00 679.6px,#ceff00 832.6px,#ff0 924.1px,#fc0 1015.6px,#ff6800 1258px)"></i>
<i style="background:linear-gradient(90deg,#00f 0.3px,#00f 11.7px,#00c8ff 211.2px,#0ff 267.8px,#00ffce 314.2px,#00ff62 423.4px,#0f0 533.5px,#0aff00 545.8px,#6cff00 680.8px,#ceff00 834px,#ff0 925.8px,#fc0 1017.6px,#ff6900 1258px)"></i>
<i style="background:linear-gradient(90deg,#00f 0.3px,#00f 12px,#00c8ff 211.8px,#0ff 268.5px,#00ffce 314.9px,#00ff62 424.2px,#0f0 534.5px,#0aff00 546.8px,#6cff00 682px,#ceff00 835.5px,#ff0 927.6px,#fc0 1019.6px,#ff6a00 1258px)"></i>
<i style="background:linear-gradient(90deg,#00f 0.3px,#00f 12.3px,#00c8ff 212.5px,#0ff 269.2px,#00ffce 315.7px,#00ff62 425.1px,#0f0 535.5px,#0aff00 547.7px,#6cff00 683.1px,#ceff00 837px,#ff0 929.3px,#fc0 1021.6px,#ff6b00 1258px)"></i>
<i style="background:linear-gradient(90deg,#00f 0.3px,#00f 12.5px,#00c8ff 213.1px,#0ff 270px,#00ffce 316.4px,#00ff62 425.9px,#0f0 536.5px,#0aff00 548.7px,#6cff00 684.3px,#ceff00 838.5px,#ff0 931.1px,#fc0 1023.7px,#ff6c00 1258px)"></i>
<i style="background:linear-gradient(90deg,#00f 0.3px,#00f 12.8px,#00c8ff 213.8px,#0ff 270.7px,#00ffce 317.2px,#00ff62 426.7px,#0f0 537.4px,#0aff00 549.7px,#6cff00 685.5px,#ceff00 840px,#ff0 932.9px,#fc0 1025.7px,#ff6d00 1258px)"></i>
<i style="background:linear-gradient(90deg,#00f 0.3px,#00f 13.1px,#00c8ff 214.4px,#0ff 271.4px,#00ffce 318px,#00ff62 427.6px,#0f0 538.4px,#0aff00 550.7px,#6cff00 686.7px,#ceff00 841.5px,#ff0 934.6px,#fc0 1027.8px,#ff6e00 1258px)"></i>
<i style="background:linear-gradient(90deg,#00f 0.3px,#00f 13.4px,#00c8ff 215.1px,#0ff 272.1px,#00ffce 318.7px,#00ff62 428.4px,#0f0 539.4px,#0aff00 551.7px,#6cff00 687.9px,#ceff00 843px,#ff0 936.4px,#fc0 1029.9px,#ff6f00 1258px)"></i>
<i style="background:linear-gradient(90deg,#00f 0.3px,#00f 13.6px,#00c8ff 215.8px,#0ff 272.8px,#00ffce 319.5px,#00ff62 429.3px,#0f0 540.4px,#0aff00 552.7px,#6cff00 689.1px,#ceff00 844.5px,#ff0 938.2px,#fc0 1032px,#ff6f00 1258px)"></i>
<i style="background:linear-gradient(90deg,#00f 0.3px,#00f 13.9px,#00c8ff 216.4px,#0ff 273.5px,#00ffce 320.2px,#00ff62 430.1px,#0f0 541.4px,#0aff00 553.7px,#6cff00 690.3px,#ceff00 846px,#ff0 940px,#fc0 1034.1px,#ff7000 1258px)"></i>
<i style="background:linear-gradient(90deg,#00f 0.3px,#00f 14.2px,#00c8ff 217.1px,#0ff 274.2px,#00ffce 321px,#00ff62 431px,#0f0 542.4px,#0aff00 554.7px,#6cff00 691.6px,#ceff00 847.5px,#ff0 941.8px,#fc0 1036.2px,#ff7100 1258px)"></i>
<i style="background:linear-gradient(90deg,#00f 0.3px,#00f 14.5px,#00c8ff 217.7px,#0ff 274.9px,#00ffce 321.7px,#00ff62 431.8px,#0f0 543.4px,#0aff00 555.7px,#6cff00 692.8px,#ceff00 849px,#ff0 943.6px,#fc0 1038.3px,#ff7200 1258px)"></i>
<i style="background:linear-gradient(90deg,#00f 0.3px,#00f 14.8px,#00c8ff 218.4px,#0ff 275.7px,#00ffce 322.5px,#00ff62 432.7px,#0f0 544.3px,#0aff00 556.8px,#6cff00 694px,#ceff00 850.5px,#ff0 945.4px,#fc0 1040.4px,#ff7300 1258px)"></i>
<i style="background:linear-gradient(90deg,#00f 0.3px,#00f 15.1px,#00c8ff 219.1px,#0ff 276.4px,#00ffce 323.3px,#00ff62 433.5px,#0f0 545.3px,#0aff00 557.8px,#6cff00 695.2px,#ceff00 852px,#ff0 947.2px,#fc0 1042.5px,#ff7400 1258px)"></i>
<i style="background:linear-gradient(90deg,#00f 0.3px,#00f 15.4px,#00c8ff 219.7px,#0ff 277.1px,#00ffce 324px,#00ff62 434.4px,#0f0 546.3px,#0aff00 558.8px,#6cff00 696.4px,#ceff00 853.5px,#ff0 949.1px,#fc0 1044.6px,#ff7500 1258px)"></i>
<i style="background:linear-gradient(90deg,#00f 0.3px,#00f 15.7px,#00c8ff 220.4px,#0ff 277.8px,#00ffce 324.8px,#00ff62 435.2px,#0f0 547.3px,#0aff00 559.8px,#6cff00 697.6px,#ceff00 855px,#ff0 950.9px,#fc0 1046.8px,#ff7600 1258px)"></i>
<i style="background:linear-gradient(90deg,#00f 0.3px,#00f 15.9px,#00c8ff 221.1px,#0ff 278.5px,#00ffce 325.6px,#00ff62 436.1px,#0f0 548.3px,#0aff00 560.8px,#6cff00 698.8px,#ceff00 856.6px,#ff0 952.7px,#fc0 1048.9px,#f70 1258px)"></i>
<i style="background:linear-gradient(90deg,#00f 0.3px,#00f 16.2px,#00c8ff 221.7px,#0ff 279.3px,#00ffce 326.3px,#00ff62 437px,#0f0 549.3px,#0aff00 561.8px,#6cff00 700.1px,#ceff00 858.1px,#ff0 954.6px,#fc0 1051.1px,#ff7800 1258px)"></i>
<i style="background:linear-gradient(90deg,#00f 0.3px,#00f 16.5px,#00c8ff 222.4px,#0ff 280px,#00ffce 327.1px,#00ff62 437.8px,#0f0 550.3px,#0aff00 562.8px,#6cff00 701.3px,#ceff00 859.6px,#ff0 956.4px,#fc0 1053.3px,#ff7900 1258px)"></i>
<i style="background:linear-gradient(90deg,#00f 0.3px,#00f 16.9px,#00c8ff 223.1px,#0ff 280.7px,#00ffce 327.9px,#00ff62 438.7px,#0f0 551.3px,#0aff00 563.8px,#6cff00 702.5px,#ceff00 861.2px,#ff0 958.3px,#fc0 1055.4px,#ff7a00 1258px)"></i>
<i style="background:linear-gradient(90deg,#00f 0.3px,#00f 17.2px,#00c8ff 223.7px,#0ff 281.4px,#00ffce 328.6px,#00ff62 439.5px,#0f0 552.3px,#0aff00 564.9px,#6cff00 703.7px,#ceff00 862.7px,#ff0 960.2px,#fc0 1057.6px,#ff7b00 1258px)"></i>
<i style="background:linear-gradient(90deg,#00f 0.3px,#00f 17.5px,#00c8ff 224.4px,#0ff 282.2px,#00ffce 329.4px,#00ff62 440.4px,#0f0 553.3px,#0aff00 565.9px,#6cff00 705px,#ceff00 864.3px,#ff0 962px,#fc0 1059.8px,#ff7c00 1258px)"></i>
<i style="background:linear-gradient(90deg,#00f 0.3px,#00f 17.8px,#00c8ff 225.1px,#0ff 282.9px,#00ffce 330.2px,#00ff62 441.3px,#0f0 554.3px,#0aff00 566.9px,#6cff00 706.2px,#ceff00 865.8px,#ff0 963.9px,#fc0 1062px,#ff7d00 1258px)"></i>
<i style="background:linear-gradient(90deg,#00f 0.3px,#00f 18.1px,#00c8ff 225.8px,#0ff 283.6px,#00ffce 330.9px,#00ff62 442.1px,#0f0 555.4px,#0aff00 567.9px,#6cff00 707.4px,#ceff00 867.3px,#ff0 965.8px,#fc0 1064.2px,#ff7e00 1258px)"></i>
<i style="background:linear-gradient(90deg,#00f 0.3px,#00f 18.4px,#00c8ff 226.4px,#0ff 284.3px,#00ffce 331.7px,#00ff62 443px,#0f0 556.4px,#0aff00 569px,#6cff00 708.7px,#ceff00 868.9px,#ff0 967.7px,#fc0 1066.4px,#ff7f00 1258px)"></i>
<i style="background:linear-gradient(90deg,#00f 0.3px,#00f 18.7px,#00c8ff 227.1px,#0ff 285.1px,#00ffce 332.5px,#00ff62 443.9px,#0f0 557.4px,#0aff00 570px,#6cff00 709.9px,#ceff00 870.5px,#ff0 969.6px,#fc0 1068.7px,#ff8000 1258px)"></i>
<i style="background:linear-gradient(90deg,#00f 0.3px,#00f 19px,#00c8ff 227.8px,#0ff 285.8px,#00ffce 333.3px,#00ff62 444.7px,#0f0 558.4px,#0aff00 571px,#6cff00 711.2px,#ceff00 872px,#ff0 971.5px,#fc0 1070.9px,#ff8100 1258px)"></i>
<i style="background:linear-gradient(90deg,#00f 0.3px,#00f 19.3px,#00c8ff 228.5px,#0ff 286.5px,#00ffce 334.1px,#00ff62 445.6px,#0f0 559.4px,#0aff00 572.1px,#6cff00 712.4px,#ceff00 873.6px,#ff0 973.4px,#fc0 1073.2px,#ff8200 1258px)"></i>
<i style="background:linear-gradient(90deg,#00f 0.3px,#00f 19.7px,#00c8ff 229.1px,#0ff 287.3px,#00ffce 334.8px,#00ff62 446.5px,#0f0 560.4px,#0aff00 573.1px,#6cff00 713.6px,#ceff00 875.2px,#ff0 975.3px,#fc0 1075.4px,#ff8200 1258px)"></i>
<i style="background:linear-gradient(90deg,#00f 0.3px,#00f 20px,#00c8ff 229.8px,#0ff 288px,#00ffce 335.6px,#00ff62 447.3px,#0f0 561.4px,#0aff00 574.1px,#6cff00 714.9px,#ceff00 876.7px,#ff0 977.2px,#fc0 1077.7px,#ff8300 1258px)"></i>
<i style="background:linear-gradient(90deg,#00f 0.3px,#00f 20.3px,#00c8ff 230.5px,#0ff 288.7px,#00ffce 336.4px,#00ff62 448.2px,#0f0 562.5px,#0aff00 575.2px,#6cff00 716.1px,#ceff00 878.3px,#ff0 979.1px,#fc0 1080px,#ff8400 1258px)"></i>
<i style="background:linear-gradient(90deg,#00f 0.3px,#00f 20.6px,#00c8ff 231.2px,#0ff 289.5px,#00ffce 337.2px,#00ff62 449.1px,#0f0 563.5px,#0aff00 576.2px,#6cff00 717.4px,#ceff00 879.9px,#ff0 981.1px,#fc0 1082.3px,#ff8500 1258px)"></i>
<i style="background:linear-gradient(90deg,#00f 0.3px,#00f 21px,#00c8ff 231.9px,#0ff 290.2px,#00ffce 338px,#00ff62 450px,#0f0 564.5px,#0aff00 577.2px,#6cff00 718.6px,#ceff00 881.5px,#ff0 983px,#fc0 1084.6px,#ff8600 1258px)"></i>
<i style="background:linear-gradient(90deg,#00f 0.3px,#00f 21.3px,#00c8ff 232.5px,#0ff 291px,#00ffce 338.7px,#00ff62 450.8px,#0f0 565.5px,#0aff00 578.3px,#6cff00 719.9px,#ceff00 883.1px,#ff0 985px,#fc0 1086.9px,#ff8700 1258px)"></i>
<i style="background:linear-gradient(90deg,#00f 0.3px,#00f 21.6px,#00c8ff 233.2px,#0ff 291.7px,#00ffce 339.5px,#00ff62 451.7px,#0f0 566.6px,#0aff00 579.3px,#6cff00 721.2px,#ceff00 884.6px,#ff0 986.9px,#fc0 1089.2px,#f80 1258px)"></i>
<i style="background:linear-gradient(90deg,#00f 0.3px,#00f 22px,#00c8ff 233.9px,#0ff 292.4px,#00ffce 340.3px,#00ff62 452.6px,#0f0 567.6px,#0aff00 580.4px,#6cff00 722.4px,#ceff00 886.2px,#ff0 988.9px,#fc0 1091.5px,#ff8900 1258px)"></i>
<i style="background:linear-gradient(90deg,#00f 0.3px,#00f 22.3px,#00c8ff 234.6px,#0ff 293.2px,#00ffce 341.1px,#00ff62 453.5px,#0f0 568.6px,#0aff00 581.4px,#6cff00 723.7px,#ceff00 887.8px,#ff0 990.8px,#fc0 1093.9px,#ff8a00 1258px)"></i>
<i style="background:linear-gradient(90deg,#00f 0.3px,#00f 22.7px,#00c8ff 235.3px,#0ff 293.9px,#00ffce 341.9px,#00ff62 454.3px,#0f0 569.7px,#0aff00 582.5px,#6cff00 725px,#ceff00 889.4px,#ff0 992.8px,#fc0 1096.2px,#ff8b00 1258px)"></i>
<i style="background:linear-gradient(90deg,#00f 0.3px,#00f 23px,#00c8ff 236px,#0ff 294.7px,#00ffce 342.7px,#00ff62 455.2px,#0f0 570.7px,#0aff00 583.5px,#6cff00 726.2px,#ceff00 891px,#ff0 994.8px,#fc0 1098.6px,#ff8c00 1258px)"></i>
<i style="background:linear-gradient(90deg,#00f 0.3px,#00f 23.3px,#00c8ff 236.7px,#0ff 295.4px,#00ffce 343.5px,#00ff62 456.1px,#0f0 571.7px,#0aff00 584.6px,#6cff00 727.5px,#ceff00 892.6px,#ff0 996.8px,#fc0 1100.9px,#ff8d00 1258px)"></i>
<i style="background:linear-gradient(90deg,#00f 0.3px,#00f 23.7px,#00c8ff 237.3px,#0ff 296.2px,#00ffce 344.3px,#00ff62 457px,#0f0 572.8px,#0aff00 585.6px,#6cff00 728.8px,#ceff00 894.3px,#ff0 998.8px,#fc0 1103.3px,#ff8e00 1258px)"></i>
<i style="background:linear-gradient(90deg,#00f 0.3px,#00f 24px,#00c8ff 238px,#0ff 296.9px,#00ffce 345.1px,#00ff62 457.9px,#0f0 573.8px,#0aff00 586.7px,#6cff00 730px,#ceff00 895.9px,#ff0 1000.8px,#fc0 1105.7px,#ff8f00 1258px)"></i>
<i style="background:linear-gradient(90deg,#00f 0.3px,#00f 24.4px,#00c8ff 238.7px,#0ff 297.7px,#00ffce 345.9px,#00ff62 458.8px,#0f0 574.8px,#0aff00 587.7px,#6cff00 731.3px,#ceff00 897.5px,#ff0 1002.8px,#fc0 1108.1px,#ff9000 1258px)"></i>
<i style="background:linear-gradient(90deg,#00f 0.3px,#00f 24.7px,#00c8ff 239.4px,#0ff 298.4px,#00ffce 346.7px,#00ff62 459.7px,#0f0 575.9px,#0aff00 588.8px,#6cff00 732.6px,#ceff00 899.1px,#ff0 1004.8px,#fc0 1110.5px,#ff9100 1258px)"></i>
<i style="background:linear-gradient(90deg,#00f 0.3px,#00f 25.1px,#00c8ff 240.1px,#0ff 299.2px,#00ffce 347.5px,#00ff62 460.6px,#0f0 576.9px,#0aff00 589.9px,#6cff00 733.9px,#ceff00 900.7px,#ff0 1006.8px,#fc0 1112.9px,#ff9200 1258px)"></i>
<i style="background:linear-gradient(90deg,#00f 0.3px,#00f 25.5px,#00c8ff 240.8px,#0ff 299.9px,#00ffce 348.3px,#00ff62 461.4px,#0f0 578px,#0aff00 590.9px,#6cff00 735.2px,#ceff00 902.4px,#ff0 1008.9px,#fc0 1115.4px,#ff9300 1258px)"></i>
<i style="background:linear-gradient(90deg,#00f 0.3px,#00f 25.8px,#00c8ff 241.5px,#0ff 300.7px,#00ffce 349.1px,#00ff62 462.3px,#0f0 579px,#0aff00 592px,#6cff00 736.4px,#ceff00 904px,#ff0 1010.9px,#fc0 1117.8px,#ff9400 1258px)"></i>
<i style="background:linear-gradient(90deg,#00f 0.3px,#00f 26.1px,#00c8ff 242px,#0ff 301.2px,#00ffce 349.6px,#00ff62 462.9px,#0f0 579.7px,#0aff00 592.7px,#6cff00 737.3px,#ceff00 905.1px,#ff0 1012.3px,#fc0 1119.4px,#ff9400 1258px)"></i>
</div>
<svg width="1667" height="1696" viewBox="0 0 1667 1696">
<g fill="none" stroke="#000" stroke-opacity=".56" stroke-width="2.3">
<path d="M300.7 132.2 L302.6 144.2 L304.4 156.2 L306.3 168.2 L308.1 180.2 L310.0 192.2 L311.8 204.2 L313.7 216.2 L315.6 228.2 L317.5 240.2 L319.3 252.2 L321.2 264.2 L323.1 276.2 L325.0 288.2 L326.9 300.2 L328.8 312.2 L330.7 324.2 L332.6 336.2 L334.6 348.2 L336.5 360.2 L338.4 372.2 L340.3 384.2 L342.3 396.2 L344.2 408.2 L346.2 420.2 L348.1 432.2 L350.1 444.2 L352.1 456.2 L354.1 468.2 L356.0 480.2 L358.0 492.2 L360.0 504.2 L362.0 516.2 L364.1 528.2 L366.1 540.2 L368.1 552.2 L370.1 564.2 L372.2 576.2 L374.2 588.2 L376.3 600.2 L378.3 612.2 L380.4 624.2 L382.5 636.2 L384.6 648.2 L386.7 660.2 L388.8 672.2 L390.9 684.2 L393.0 696.2 L395.1 708.2 L397.3 720.2 L399.4 732.2 L401.6 744.2 L403.7 756.2 L405.9 768.2 L408.1 780.2 L410.3 792.2 L412.5 804.2 L414.7 816.2 L416.9 828.2 L419.1 840.2 L421.4 852.2 L423.6 864.2 L425.9 876.2 L428.2 888.2 L430.4 900.2 L432.7 912.2 L435.0 924.2 L437.3 936.2 L439.7 948.2 L442.0 960.2 L444.3 972.2 L446.7 984.2 L449.1 996.2 L451.4 1008.2 L453.8 1020.2 L456.2 1032.2 L458.6 1044.2 L461.1 1056.2 L463.5 1068.2 L465.9 1080.2 L468.4 1092.2 L470.9 1104.2 L473.4 1116.2 L475.8 1128.2 L478.4 1140.2 L480.9 1152.2 L483.4 1164.2 L486.0 1176.2 L488.5 1188.2 L491.1 1200.2 L493.7 1212.2 L496.3 1224.2 L498.9 1236.2 L501.5 1248.2 L504.1 1260.2 L506.8 1272.2 L509.5 1284.2 L512.1 1296.2 L514.8 1308.2 L517.5 1320.2 L520.2 1332.2 L523.0 1344.2 L525.7 1356.2 L528.5 1368.2 L530.0 1374.7"/>
<path d="M381.8 132.2 L383.8 144.2 L385.9 156.2 L387.9 168.2 L389.9 180.2 L392.0 192.2 L394.0 204.2 L396.1 216.2 L398.2 228.2 L400.2 240.2 L402.3 252.2 L404.4 264.2 L406.4 276.2 L408.5 288.2 L410.6 300.2 L412.7 312.2 L414.8 324.2 L416.9 336.2 L419.0 348.2 L421.1 360.2 L423.2 372.2 L425.3 384.2 L427.5 396.2 L429.6 408.2 L431.7 420.2 L433.9 432.2 L436.0 444.2 L438.2 456.2 L440.4 468.2 L442.5 480.2 L444.7 492.2 L446.9 504.2 L449.1 516.2 L451.3 528.2 L453.5 540.2 L455.8 552.2 L458.0 564.2 L460.2 576.2 L462.5 588.2 L464.7 600.2 L467.0 612.2 L469.3 624.2 L471.6 636.2 L473.9 648.2 L476.2 660.2 L478.5 672.2 L480.8 684.2 L483.2 696.2 L485.5 708.2 L487.9 720.2 L490.2 732.2 L492.6 744.2 L495.0 756.2 L497.4 768.2 L499.8 780.2 L502.3 792.2 L504.7 804.2 L507.1 816.2 L509.6 828.2 L512.1 840.2 L514.6 852.2 L517.1 864.2 L519.6 876.2 L522.1 888.2 L524.6 900.2 L527.2 912.2 L529.8 924.2 L532.4 936.2 L534.9 948.2 L537.6 960.2 L540.2 972.2 L542.8 984.2 L545.5 996.2 L548.1 1008.2 L550.8 1020.2 L553.5 1032.2 L556.2 1044.2 L559.0 1056.2 L561.7 1068.2 L564.5 1080.2 L567.2 1092.2 L570.0 1104.2 L572.8 1116.2 L575.7 1128.2 L578.5 1140.2 L581.4 1152.2 L584.2 1164.2 L587.1 1176.2 L590.1 1188.2 L593.0 1200.2 L595.9 1212.2 L598.9 1224.2 L601.9 1236.2 L604.9 1248.2 L607.9 1260.2 L610.9 1272.2 L614.0 1284.2 L617.1 1296.2 L620.2 1308.2 L623.3 1320.2 L626.4 1332.2 L629.6 1344.2 L632.7 1356.2 L635.9 1368.2 L637.7 1374.7"/>
<path d="M463.3 132.2 L465.5 144.2 L467.7 156.2 L469.9 168.2 L472.2 180.2 L474.4 192.2 L476.6 204.2 L478.9 216.2 L481.2 228.2 L483.4 240.2 L485.7 252.2 L488.0 264.2 L490.3 276.2 L492.6 288.2 L494.9 300.2 L497.2 312.2 L499.5 324.2 L501.8 336.2 L504.2 348.2 L506.5 360.2 L508.9 372.2 L511.3 384.2 L513.7 396.2 L516.0 408.2 L518.4 420.2 L520.8 432.2 L523.3 444.2 L525.7 456.2 L528.1 468.2 L530.6 480.2 L533.0 492.2 L535.5 504.2 L538.0 516.2 L540.5 528.2 L543.0 540.2 L545.5 552.2 L548.0 564.2 L550.6 576.2 L553.1 588.2 L555.7 600.2 L558.2 612.2 L560.8 624.2 L563.4 636.2 L566.0 648.2 L568.6 660.2 L571.3 672.2 L573.9 684.2 L576.6 696.2 L579.2 708.2 L581.9 720.2 L584.6 732.2 L587.3 744.2 L590.0 756.2 L592.8 768.2 L595.5 780.2 L598.3 792.2 L601.0 804.2 L603.8 816.2 L606.6 828.2 L609.4 840.2 L612.3 852.2 L615.1 864.2 L618.0 876.2 L620.8 888.2 L623.7 900.2 L626.6 912.2 L629.5 924.2 L632.5 936.2 L635.4 948.2 L638.4 960.2 L641.4 972.2 L644.4 984.2 L647.4 996.2 L650.4 1008.2 L653.4 1020.2 L656.5 1032.2 L659.6 1044.2 L662.6 1056.2 L665.7 1068.2 L668.9 1080.2 L672.0 1092.2 L675.2 1104.2 L678.3 1116.2 L681.5 1128.2 L684.7 1140.2 L688.0 1152.2 L691.2 1164.2 L694.4 1176.2 L697.7 1188.2 L701.0 1200.2 L704.3 1212.2 L707.7 1224.2 L711.0 1236.2 L714.4 1248.2 L717.8 1260.2 L721.2 1272.2 L724.6 1284.2 L728.0 1296.2 L731.5 1308.2 L735.0 1320.2 L738.5 1332.2 L742.0 1344.2 L745.5 1356.2 L749.1 1368.2 L751.0 1374.7"/>
<path d="M551.5 132.2 L554.0 144.2 L556.5 156.2 L558.9 168.2 L561.4 180.2 L563.9 192.2 L566.4 204.2 L568.9 216.2 L571.4 228.2 L573.9 240.2 L576.5 252.2 L579.0 264.2 L581.6 276.2 L584.1 288.2 L586.7 300.2 L589.3 312.2 L591.9 324.2 L594.5 336.2 L597.1 348.2 L599.7 360.2 L602.3 372.2 L605.0 384.2 L607.6 396.2 L610.3 408.2 L613.0 420.2 L615.6 432.2 L618.3 444.2 L621.1 456.2 L623.8 468.2 L626.5 480.2 L629.3 492.2 L632.0 504.2 L634.8 516.2 L637.6 528.2 L640.4 540.2 L643.2 552.2 L646.0 564.2 L648.9 576.2 L651.8 588.2 L654.6 600.2 L657.5 612.2 L660.4 624.2 L663.3 636.2 L666.3 648.2 L669.2 660.2 L672.2 672.2 L675.2 684.2 L678.2 696.2 L681.2 708.2 L684.2 720.2 L687.3 732.2 L690.3 744.2 L693.4 756.2 L696.5 768.2 L699.6 780.2 L702.8 792.2 L705.9 804.2 L709.1 816.2 L712.3 828.2 L715.5 840.2 L718.8 852.2 L722.0 864.2 L725.3 876.2 L728.6 888.2 L731.9 900.2 L735.2 912.2 L738.5 924.2 L741.9 936.2 L745.3 948.2 L748.7 960.2 L752.1 972.2 L755.6 984.2 L759.1 996.2 L762.6 1008.2 L766.1 1020.2 L769.6 1032.2 L773.2 1044.2 L776.8 1056.2 L780.4 1068.2 L784.0 1080.2 L787.6 1092.2 L791.3 1104.2 L795.0 1116.2 L798.7 1128.2 L802.5 1140.2 L806.3 1152.2 L810.1 1164.2 L813.9 1176.2 L817.7 1188.2 L821.6 1200.2 L825.5 1212.2 L829.4 1224.2 L833.3 1236.2 L837.3 1248.2 L841.3 1260.2 L845.3 1272.2 L849.4 1284.2 L853.4 1296.2 L857.5 1308.2 L861.7 1320.2 L865.8 1332.2 L870.0 1344.2 L874.2 1356.2 L878.5 1368.2 L880.8 1374.7"/>
<path d="M642.3 132.2 L644.9 144.2 L647.6 156.2 L650.3 168.2 L653.0 180.2 L655.7 192.2 L658.4 204.2 L661.2 216.2 L663.9 228.2 L666.7 240.2 L669.5 252.2 L672.3 264.2 L675.1 276.2 L677.9 288.2 L680.8 300.2 L683.6 312.2 L686.5 324.2 L689.4 336.2 L692.3 348.2 L695.2 360.2 L698.2 372.2 L701.1 384.2 L704.1 396.2 L707.1 408.2 L710.1 420.2 L713.1 432.2 L716.2 444.2 L719.2 456.2 L722.3 468.2 L725.4 480.2 L728.5 492.2 L731.7 504.2 L734.8 516.2 L738.0 528.2 L741.2 540.2 L744.4 552.2 L747.6 564.2 L750.9 576.2 L754.2 588.2 L757.5 600.2 L760.8 612.2 L764.1 624.2 L767.5 636.2 L770.9 648.2 L774.3 660.2 L777.7 672.2 L781.2 684.2 L784.6 696.2 L788.1 708.2 L791.6 720.2 L795.2 732.2 L798.8 744.2 L802.3 756.2 L806.0 768.2 L809.6 780.2 L813.3 792.2 L817.0 804.2 L820.7 816.2 L824.4 828.2 L828.2 840.2 L832.0 852.2 L835.8 864.2 L839.6 876.2 L843.5 888.2 L847.4 900.2 L851.3 912.2 L855.3 924.2 L859.2 936.2 L863.2 948.2 L867.3 960.2 L871.3 972.2 L875.4 984.2 L879.5 996.2 L883.7 1008.2 L887.9 1020.2 L892.1 1032.2 L896.3 1044.2 L900.6 1056.2 L904.9 1068.2 L909.2 1080.2 L913.5 1092.2 L917.9 1104.2 L922.3 1116.2 L926.8 1128.2 L931.3 1140.2 L935.8 1152.2 L940.3 1164.2 L944.9 1176.2 L949.5 1188.2 L954.1 1200.2 L958.8 1212.2 L963.5 1224.2 L968.2 1236.2 L973.0 1248.2 L977.8 1260.2 L982.7 1272.2 L987.5 1284.2 L992.4 1296.2 L997.4 1308.2 L1002.4 1320.2 L1007.4 1332.2 L1012.4 1344.2 L1017.5 1356.2 L1022.6 1368.2 L1025.4 1374.7"/>
<path d="M740.5 132.2 L743.6 144.2 L746.7 156.2 L749.8 168.2 L752.9 180.2 L756.0 192.2 L759.2 204.2 L762.3 216.2 L765.5 228.2 L768.7 240.2 L771.8 252.2 L775.0 264.2 L778.2 276.2 L781.5 288.2 L784.7 300.2 L787.9 312.2 L791.2 324.2 L794.5 336.2 L797.8 348.2 L801.1 360.2 L804.4 372.2 L807.8 384.2 L811.1 396.2 L814.5 408.2 L817.9 420.2 L821.3 432.2 L824.8 444.2 L828.2 456.2 L831.7 468.2 L835.2 480.2 L838.8 492.2 L842.3 504.2 L845.9 516.2 L849.5 528.2 L853.1 540.2 L856.7 552.2 L860.4 564.2 L864.1 576.2 L867.8 588.2 L871.6 600.2 L875.4 612.2 L879.2 624.2 L883.0 636.2 L886.8 648.2 L890.7 660.2 L894.7 672.2 L898.6 684.2 L902.6 696.2 L906.6 708.2 L910.6 720.2 L914.7 732.2 L918.8 744.2 L922.9 756.2 L927.1 768.2 L931.3 780.2 L935.6 792.2 L939.8 804.2 L944.1 816.2 L948.5 828.2 L952.9 840.2 L957.3 852.2 L961.8 864.2 L966.3 876.2 L970.8 888.2 L975.4 900.2 L980.0 912.2 L984.6 924.2 L989.3 936.2 L994.1 948.2 L998.8 960.2 L1003.7 972.2 L1008.5 984.2 L1013.4 996.2 L1018.4 1008.2 L1023.4 1020.2 L1028.4 1032.2 L1033.5 1044.2 L1038.6 1056.2 L1043.8 1068.2 L1049.0 1080.2 L1054.3 1092.2 L1059.6 1104.2 L1065.0 1116.2 L1070.4 1128.2 L1075.9 1140.2 L1081.4 1152.2 L1086.9 1164.2 L1092.5 1176.2 L1098.2 1188.2 L1103.9 1200.2 L1109.7 1212.2 L1115.5 1224.2 L1121.4 1236.2 L1127.3 1248.2 L1133.3 1260.2 L1139.3 1272.2 L1145.4 1284.2 L1151.6 1296.2 L1157.8 1308.2 L1164.0 1320.2 L1170.4 1332.2 L1176.7 1344.2 L1183.2 1356.2 L1189.7 1368.2 L1193.2 1374.7"/>
<path d="M845.1 132.2 L848.4 144.2 L851.7 156.2 L855.0 168.2 L858.4 180.2 L861.9 192.2 L865.4 204.2 L868.9 216.2 L872.4 228.2 L876.0 240.2 L879.6 252.2 L883.2 264.2 L886.9 276.2 L890.6 288.2 L894.3 300.2 L898.1 312.2 L901.9 324.2 L905.7 336.2 L909.5 348.2 L913.4 360.2 L917.3 372.2 L921.2 384.2 L925.2 396.2 L929.2 408.2 L933.2 420.2 L937.2 432.2 L941.2 444.2 L945.3 456.2 L949.4 468.2 L953.5 480.2 L957.7 492.2 L961.9 504.2 L966.1 516.2 L970.3 528.2 L974.6 540.2 L978.9 552.2 L983.2 564.2 L987.6 576.2 L991.9 588.2 L996.4 600.2 L1000.8 612.2 L1005.3 624.2 L1009.8 636.2 L1014.3 648.2 L1018.9 660.2 L1023.5 672.2 L1028.1 684.2 L1032.8 696.2 L1037.5 708.2 L1042.2 720.2 L1047.0 732.2 L1051.8 744.2 L1056.7 756.2 L1061.6 768.2 L1066.6 780.2 L1071.6 792.2 L1076.6 804.2 L1081.7 816.2 L1086.9 828.2 L1092.0 840.2 L1097.3 852.2 L1102.6 864.2 L1108.0 876.2 L1113.4 888.2 L1118.8 900.2 L1124.4 912.2 L1130.0 924.2 L1135.6 936.2 L1141.4 948.2 L1147.2 960.2 L1153.0 972.2 L1159.0 984.2 L1165.0 996.2 L1171.1 1008.2 L1177.3 1020.2 L1183.5 1032.2 L1189.8 1044.2 L1196.3 1056.2 L1202.8 1068.2 L1209.4 1080.2 L1216.1 1092.2 L1222.9 1104.2 L1229.8 1116.2 L1236.8 1128.2 L1243.9 1140.2 L1251.1 1152.2 L1258.4 1164.2 L1265.8 1176.2 L1273.3 1188.2 L1281.0 1200.2 L1288.8 1212.2 L1296.7 1224.2 L1304.7 1236.2 L1312.9 1248.2 L1321.1 1260.2 L1329.6 1272.2 L1338.1 1284.2 L1346.9 1296.2 L1355.7 1308.2 L1364.7 1320.2 L1373.9 1332.2 L1383.2 1344.2 L1392.7 1356.2 L1402.3 1368.2 L1407.6 1374.7"/>
<path d="M957.3 132.2 L961.1 144.2 L964.8 156.2 L968.7 168.2 L972.6 180.2 L976.5 192.2 L980.5 204.2 L984.6 216.2 L988.7 228.2 L992.9 240.2 L997.0 252.2 L1001.3 264.2 L1005.6 276.2 L1009.9 288.2 L1014.2 300.2 L1018.6 312.2 L1023.1 324.2 L1027.5 336.2 L1032.0 348.2 L1036.6 360.2 L1041.2 372.2 L1045.8 384.2 L1050.4 396.2 L1055.1 408.2 L1059.8 420.2 L1064.5 432.2 L1069.3 444.2 L1074.1 456.2 L1079.0 468.2 L1083.8 480.2 L1088.8 492.2 L1093.7 504.2 L1098.7 516.2 L1103.7 528.2 L1108.8 540.2 L1113.9 552.2 L1119.0 564.2 L1124.2 576.2 L1129.4 588.2 L1134.7 600.2 L1140.0 612.2 L1145.4 624.2 L1150.8 636.2 L1156.3 648.2 L1161.8 660.2 L1167.4 672.2 L1173.0 684.2 L1178.7 696.2 L1184.4 708.2 L1190.2 720.2 L1196.1 732.2 L1202.1 744.2 L1208.1 756.2 L1214.2 768.2 L1220.4 780.2 L1226.6 792.2 L1233.0 804.2 L1239.4 816.2 L1246.0 828.2 L1252.6 840.2 L1259.3 852.2 L1266.1 864.2 L1273.0 876.2 L1280.1 888.2 L1287.2 900.2 L1294.5 912.2 L1301.9 924.2 L1309.4 936.2 L1317.1 948.2 L1324.8 960.2 L1332.8 972.2 L1340.8 984.2 L1349.1 996.2 L1357.4 1008.2 L1366.0 1020.2 L1374.7 1032.2 L1383.6 1044.2 L1392.6 1056.2 L1401.8 1068.2 L1411.3 1080.2 L1420.9 1092.2 L1430.7 1104.2 L1440.7 1116.2 L1450.9 1128.2 L1461.3 1140.2 L1472.0 1152.2 L1482.9 1164.2 L1494.0 1176.2 L1505.4 1188.2 L1517.0 1200.2 L1528.9 1212.2 L1541.0 1224.2 L1546.1 1229.2"/>
<path d="M289.0 1085.8 L289.7 1097.8 L290.3 1109.8 L291.1 1121.8 L291.8 1133.8 L292.6 1145.8 L293.4 1157.8 L294.3 1169.8 L295.2 1181.8 L296.1 1193.8 L297.0 1205.8 L298.0 1217.8 L299.1 1229.8 L300.1 1241.8 L301.2 1253.8 L302.3 1265.8 L303.5 1277.8 L304.7 1289.8 L305.9 1301.8 L307.2 1313.8 L308.5 1325.8 L309.8 1337.8 L311.1 1349.8 L312.5 1361.8 L314.0 1373.8 L314.1 1374.7"/>
<path d="M1131.8 132.2 L1136.7 144.2 L1141.5 156.2 L1146.5 168.2 L1151.4 180.2 L1156.4 192.2 L1161.4 204.2 L1166.5 216.2 L1171.6 228.2 L1176.7 240.2 L1181.9 252.2 L1187.2 264.2 L1192.5 276.2 L1197.8 288.2 L1203.3 300.2 L1208.7 312.2 L1214.3 324.2 L1219.9 336.2 L1225.6 348.2 L1231.3 360.2 L1237.1 372.2 L1243.0 384.2 L1249.0 396.2 L1255.0 408.2 L1261.2 420.2 L1267.4 432.2 L1273.7 444.2 L1280.1 456.2 L1286.6 468.2 L1293.2 480.2 L1299.9 492.2 L1306.6 504.2 L1313.5 516.2 L1320.5 528.2 L1327.6 540.2 L1334.8 552.2 L1342.1 564.2 L1349.6 576.2 L1357.1 588.2 L1364.8 600.2 L1372.6 612.2 L1380.5 624.2 L1388.5 636.2 L1396.7 648.2 L1405.0 660.2 L1413.4 672.2 L1422.0 684.2 L1430.7 696.2 L1439.6 708.2 L1448.6 720.2 L1457.7 732.2 L1467.0 744.2 L1476.4 756.2 L1486.0 768.2 L1495.8 780.2 L1505.7 792.2 L1515.8 804.2 L1526.0 816.2 L1536.4 828.2 L1546.1 839.2"/>
<path d="M1186.9 132.2 L1191.9 144.2 L1197.0 156.2 L1202.2 168.2 L1207.4 180.2 L1212.6 192.2 L1217.9 204.2 L1223.3 216.2 L1228.8 228.2 L1234.3 240.2 L1239.9 252.2 L1245.6 264.2 L1251.4 276.2 L1257.2 288.2 L1263.1 300.2 L1269.1 312.2 L1275.2 324.2 L1281.4 336.2 L1287.7 348.2 L1294.0 360.2 L1300.5 372.2 L1307.0 384.2 L1313.7 396.2 L1320.4 408.2 L1327.3 420.2 L1334.3 432.2 L1341.3 444.2 L1348.5 456.2 L1355.8 468.2 L1363.2 480.2 L1370.8 492.2 L1378.4 504.2 L1386.2 516.2 L1394.1 528.2 L1402.1 540.2 L1410.3 552.2 L1418.6 564.2 L1427.0 576.2 L1435.5 588.2 L1444.2 600.2 L1453.0 612.2 L1462.0 624.2 L1471.1 636.2 L1480.4 648.2 L1489.8 660.2 L1499.4 672.2 L1509.1 684.2 L1519.0 696.2 L1529.0 708.2 L1539.2 720.2 L1546.1 728.2"/>
<path d="M1243.7 132.2 L1249.1 144.2 L1254.5 156.2 L1260.0 168.2 L1265.6 180.2 L1271.3 192.2 L1277.1 204.2 L1282.9 216.2 L1288.9 228.2 L1294.9 240.2 L1301.1 252.2 L1307.3 264.2 L1313.7 276.2 L1320.1 288.2 L1326.7 300.2 L1333.3 312.2 L1340.1 324.2 L1347.0 336.2 L1354.0 348.2 L1361.1 360.2 L1368.3 372.2 L1375.7 384.2 L1383.1 396.2 L1390.7 408.2 L1398.5 420.2 L1406.3 432.2 L1414.3 444.2 L1422.4 456.2 L1430.7 468.2 L1439.1 480.2 L1447.6 492.2 L1456.3 504.2 L1465.1 516.2 L1474.1 528.2 L1483.2 540.2 L1492.5 552.2 L1501.9 564.2 L1511.5 576.2 L1521.2 588.2 L1531.1 600.2 L1541.2 612.2 L1546.1 618.0"/>
<path d="M1304.3 132.2 L1310.4 144.2 L1316.6 156.2 L1322.8 168.2 L1329.1 180.2 L1335.5 192.2 L1342.0 204.2 L1348.5 216.2 L1355.1 228.2 L1361.8 240.2 L1368.6 252.2 L1375.5 264.2 L1382.5 276.2 L1389.7 288.2 L1396.9 300.2 L1404.3 312.2 L1411.8 324.2 L1419.4 336.2 L1427.2 348.2 L1435.2 360.2 L1443.3 372.2 L1451.5 384.2 L1459.9 396.2 L1468.5 408.2 L1477.3 420.2 L1486.3 432.2 L1495.4 444.2 L1504.7 456.2 L1514.3 468.2 L1524.0 480.2 L1534.0 492.2 L1544.2 504.2 L1546.1 506.5"/>
<path d="M1366.5 132.2 L1373.8 144.2 L1381.1 156.2 L1388.4 168.2 L1395.7 180.2 L1403.0 192.2 L1410.4 204.2 L1417.8 216.2 L1425.3 228.2 L1432.9 240.2 L1440.6 252.2 L1448.3 264.2 L1456.3 276.2 L1464.3 288.2 L1472.5 300.2 L1480.8 312.2 L1489.4 324.2 L1498.1 336.2 L1507.1 348.2 L1516.3 360.2 L1525.7 372.2 L1535.3 384.2 L1545.3 396.2 L1546.1 397.2"/>
<path d="M1437.5 132.2 L1445.3 144.2 L1453.3 156.2 L1461.4 168.2 L1469.6 180.2 L1478.0 192.2 L1486.4 204.2 L1495.0 216.2 L1503.7 228.2 L1512.5 240.2 L1521.4 252.2 L1530.4 264.2 L1539.6 276.2 L1546.1 284.6"/>
</g>
<rect x="285.4" y="132.2" width="2.9" height="1276" fill="#b4b4b4"/>
<rect x="288.3" y="132.2" width="2.5" height="1242.5" fill="#000" fill-opacity=".45"/>
<rect x="288.3" y="132.2" width="1257.8" height="2.5" fill="#000" fill-opacity=".62"/>
<rect x="288.3" y="1372" width="1257.8" height="2.7" fill="#000" fill-opacity=".55"/>
<rect x="1543.2" y="132.2" width="2.9" height="1242.5" fill="#000" fill-opacity=".42"/>
<rect x="1546.1" y="132.2" width="2.6" height="1277" fill="#d2d2d2"/>
<rect x="252" y="132.2" width="36.5" height="2.2" fill="#505050"/>
<text x="242" y="154.7" class="yt">0.70</text>
<rect x="252" y="442.4" width="36.5" height="2.2" fill="#505050"/>
<text x="242" y="464.9" class="yt">0.60</text>
<rect x="252" y="751.4" width="36.5" height="2.2" fill="#505050"/>
<text x="242" y="773.9" class="yt">0.50</text>
<rect x="252" y="1060.7" width="36.5" height="2.2" fill="#505050"/>
<text x="242" y="1083.2" class="yt">0.40</text>
<rect x="252" y="1371.4" width="36.5" height="2.2" fill="#505050"/>
<text x="242" y="1393.9" class="yt">0.30</text>
<rect x="287.6" y="1374" width="2.4" height="34.5" fill="#5a5a5a"/>
<text x="288.8" y="1485" class="xt">500</text>
<rect x="600.9" y="1374" width="2.4" height="34.5" fill="#5a5a5a"/>
<text x="602.1" y="1485" class="xt">1000</text>
<rect x="916.2" y="1374" width="2.4" height="34.5" fill="#5a5a5a"/>
<text x="917.4" y="1485" class="xt">1500</text>
<rect x="1230.5" y="1374" width="2.4" height="34.5" fill="#5a5a5a"/>
<text x="1231.7" y="1485" class="xt">2000</text>
<rect x="1543.6" y="1374" width="2.4" height="34.5" fill="#8c8c8c"/>
<text x="1544.8" y="1485" class="xt">2500</text>
<rect x="302.6" y="471.1" width="138.9" height="78.2" fill="#fff"/>
<rect x="301.6" y="470.1" width="140.9" height="80.2" fill="none" stroke="#141414" stroke-opacity=".68" stroke-width="2.6"/>
<text x="372.1" y="534.4" class="cl">0.20</text>
<rect x="404.8" y="603.6" width="138.9" height="78.2" fill="#fff"/>
<rect x="403.8" y="602.5" width="140.9" height="80.2" fill="none" stroke="#141414" stroke-opacity=".68" stroke-width="2.6"/>
<text x="474.2" y="666.9" class="cl">0.30</text>
<rect x="537.7" y="736.3" width="138.9" height="78.2" fill="#fff"/>
<rect x="536.6" y="735.3" width="140.9" height="80.2" fill="none" stroke="#141414" stroke-opacity=".68" stroke-width="2.6"/>
<text x="607.1" y="799.6" class="cl">0.40</text>
<rect x="664.8" y="844.7" width="138.9" height="78.2" fill="#fff"/>
<rect x="663.8" y="843.6" width="140.9" height="80.2" fill="none" stroke="#141414" stroke-opacity=".68" stroke-width="2.6"/>
<text x="734.2" y="908.0" class="cl">0.50</text>
<rect x="795.7" y="914.9" width="138.9" height="78.2" fill="#fff"/>
<rect x="794.6" y="913.9" width="140.9" height="80.2" fill="none" stroke="#141414" stroke-opacity=".68" stroke-width="2.6"/>
<text x="865.1" y="978.2" class="cl">0.60</text>
<rect x="933.7" y="931.6" width="138.9" height="78.2" fill="#fff"/>
<rect x="932.7" y="930.6" width="140.9" height="80.2" fill="none" stroke="#141414" stroke-opacity=".68" stroke-width="2.6"/>
<text x="1003.1" y="994.9" class="cl">0.70</text>
<rect x="1086.3" y="882.8" width="138.9" height="78.2" fill="#fff"/>
<rect x="1085.3" y="881.8" width="140.9" height="80.2" fill="none" stroke="#141414" stroke-opacity=".68" stroke-width="2.6"/>
<text x="1155.8" y="946.1" class="cl">0.80</text>
<rect x="1216.6" y="806.3" width="138.9" height="78.2" fill="#fff"/>
<rect x="1215.6" y="805.2" width="140.9" height="80.2" fill="none" stroke="#141414" stroke-opacity=".68" stroke-width="2.6"/>
<text x="1286.1" y="869.6" class="cl">0.90</text>
<rect x="1341.6" y="137.2" width="138.9" height="78.2" fill="#fff"/>
<rect x="1340.6" y="136.2" width="140.9" height="80.2" fill="none" stroke="#141414" stroke-opacity=".68" stroke-width="2.6"/>
<text x="1411.0" y="200.5" class="cl">0.50</text>
<rect x="1350.6" y="261.6" width="138.9" height="78.2" fill="#fff"/>
<rect x="1349.6" y="260.6" width="140.9" height="80.2" fill="none" stroke="#141414" stroke-opacity=".68" stroke-width="2.6"/>
<text x="1420.0" y="324.8" class="cl">0.60</text>
<rect x="1344.3" y="404.2" width="138.9" height="78.2" fill="#fff"/>
<rect x="1343.3" y="403.2" width="140.9" height="80.2" fill="none" stroke="#141414" stroke-opacity=".68" stroke-width="2.6"/>
<text x="1413.8" y="467.5" class="cl">0.70</text>
<rect x="1341.5" y="523.3" width="138.9" height="78.2" fill="#fff"/>
<rect x="1340.5" y="522.3" width="140.9" height="80.2" fill="none" stroke="#141414" stroke-opacity=".68" stroke-width="2.6"/>
<text x="1411.0" y="586.6" class="cl">0.80</text>
<rect x="1312.0" y="646.2" width="138.9" height="78.2" fill="#fff"/>
<rect x="1311.0" y="645.1" width="140.9" height="80.2" fill="none" stroke="#141414" stroke-opacity=".68" stroke-width="2.6"/>
<text x="1381.5" y="709.5" class="cl">0.90</text>
<rect x="1106.8" y="207" width="4.6" height="54" fill="#8080ff"/>
<rect x="1102.8" y="202.2" width="12" height="11.2" rx="2.5" fill="#8080ff"/>
<rect x="598.1" y="259" width="513.4" height="111.8" fill="#8080ff"/>
<rect x="600.3" y="261.3" width="508.4" height="107.2" fill="#d8d8ff"/>
<rect x="601.3" y="262.3" width="505.5" height="105.3" fill="#fff"/>
<text x="607.2" y="344.8" style="font-size:88.5px;white-space:pre"><tspan style="letter-spacing:1.1px">Predict  </tspan><tspan x="902.2">1.000</tspan></text>
<text x="912.2" y="102" style="font-size:84.2px;text-anchor:middle">Desirability</text>
<text x="912.2" y="1647.3" style="font-size:80.2px;text-anchor:middle">Shear modulus/MPa</text>
<text transform="translate(93 737.3) rotate(-90)" style="font-size:79.75px;text-anchor:middle">Coefficient of restitution</text>
</svg>
</body></html>
